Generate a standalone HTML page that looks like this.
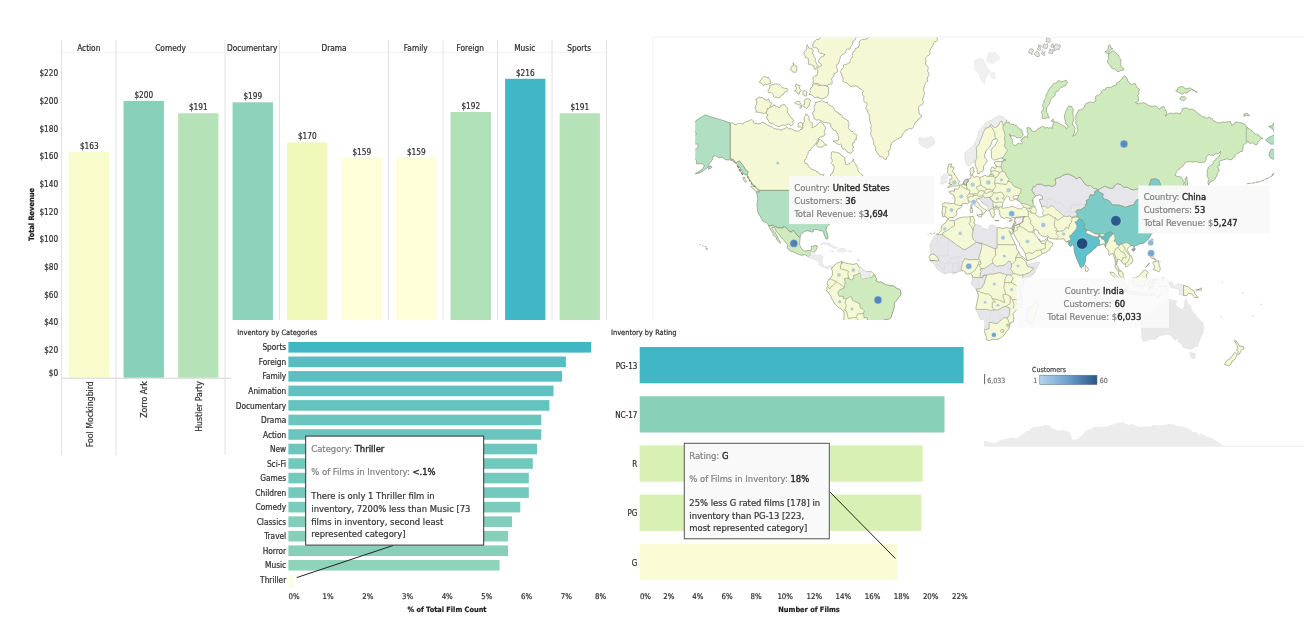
<!DOCTYPE html>
<html><head><meta charset="utf-8"><title>Dashboard</title>
<style>
html,body{margin:0;padding:0;background:#fff;}
body{width:1304px;height:637px;position:relative;overflow:hidden;}
svg text{font-family:"DejaVu Sans Condensed", "DejaVu Sans", "Liberation Sans", Arial, sans-serif;font-stretch:condensed;}
</style></head><body>
<svg width="1304" height="637" viewBox="0 0 1304 637" style="position:absolute;left:0;top:0;will-change:transform">
<defs>
<clipPath id="sa"><path d="M832.4,267.0L834.4,265.8L835.5,264.0L836.6,263.0L838.7,262.7L840.8,261.7L842.1,260.9L842.2,261.9L841.3,263.2L841.9,263.4L844.0,262.2L844.7,262.5L846.8,263.5L850.5,263.9L853.2,264.5L855.6,263.7L857.2,263.7L858.0,265.2L859.1,267.3L861.2,268.1L862.8,269.7L864.9,271.3L867.0,271.5L869.3,271.5L871.7,272.0L873.4,273.6L874.6,274.6L875.7,277.8L876.5,278.3L876.7,279.4L875.7,281.0L878.9,282.3L881.3,282.0L885.3,284.7L889.4,285.5L893.4,285.8L897.1,288.7L899.8,289.4L900.8,292.3L900.6,295.5L898.2,298.0L896.6,300.4L894.3,302.9L894.2,307.1L893.4,310.1L891.8,314.7L891.0,317.3L889.4,319.0L885.3,319.4L882.1,320.8L878.9,324.0L878.6,328.8L876.5,332.5L874.6,335.0L872.5,338.2L870.9,340.2L868.5,341.0L866.0,340.8L863.0,339.2L864.4,342.1L865.2,344.1L864.3,347.6L861.2,348.8L856.7,348.8L856.4,352.3L852.4,353.4L854.0,356.6L852.1,361.3L848.4,364.5L850.8,368.7L846.8,374.6L845.9,379.2L846.8,381.9L847.6,387.3L844.3,387.3L840.3,383.2L837.1,377.9L835.5,369.2L837.1,362.2L838.7,355.5L838.4,350.2L839.2,345.1L841.1,339.2L841.9,335.4L841.9,329.8L843.5,324.3L843.9,319.0L844.2,312.1L841.9,309.6L837.9,307.1L834.7,303.7L832.3,299.6L829.9,294.7L828.3,292.3L826.3,290.7L827.5,289.1L826.3,287.8L827.9,286.5L828.3,285.0L827.0,284.2L827.5,281.8L828.3,279.7L829.9,279.1L830.2,278.3L832.3,275.4L832.6,273.8L832.3,270.5L831.6,269.4Z"/></clipPath>
<clipPath id="mapclip"><rect x="695.2" y="37.5" width="578.9" height="408.5"/></clipPath>
<clipPath id="eura"><path d="M947.9,218.9L946.8,217.3L945.0,216.5L942.6,216.9L942.7,213.4L941.6,213.2L942.4,210.7L942.7,207.5L942.6,205.4L941.9,204.3L944.0,202.7L947.3,202.9L950.5,203.4L953.7,203.4L954.5,203.2L955.0,200.9L955.0,198.0L953.4,194.9L949.7,193.0L949.3,191.6L952.1,190.8L954.3,191.3L954.8,188.6L957.2,189.4L959.3,187.4L959.5,185.4L960.9,185.1L962.4,184.3L963.3,182.8L964.5,180.4L965.7,179.3L968.2,179.1L970.6,178.5L971.1,177.4L970.7,174.7L969.9,170.4L970.6,168.6L973.0,167.1L973.8,168.3L973.3,171.0L974.4,171.0L973.0,173.2L972.5,174.9L973.0,176.1L974.4,177.4L977.0,176.1L979.4,177.7L981.8,176.9L985.0,175.2L986.8,176.3L988.3,176.3L989.9,174.9L991.0,174.1L990.8,171.8L990.7,169.5L991.6,167.4L993.2,166.8L994.7,168.9L996.1,168.0L996.0,165.0L994.7,164.1L994.5,162.2L997.1,161.3L1000.3,161.6L1002.1,161.3L1004.3,160.0L1005.5,159.7L1003.5,159.0L1001.9,158.0L999.5,158.4L996.3,159.7L993.7,160.0L991.3,157.7L991.5,154.4L991.2,150.6L992.3,147.8L994.8,145.9L996.6,142.6L997.7,140.3L996.5,138.7L993.9,139.5L992.6,139.9L991.0,144.1L989.9,146.7L987.5,148.8L986.2,150.6L984.7,154.7L984.6,157.4L986.6,159.3L987.3,161.3L985.5,163.5L983.6,166.2L983.4,169.5L982.6,171.2L980.2,171.8L979.7,173.5L977.6,173.5L977.2,171.5L977.3,169.8L976.0,167.1L974.9,163.1L973.8,161.9L973.5,160.3L973.1,162.8L972.2,162.8L969.8,165.6L968.2,165.9L965.9,163.5L965.4,161.3L964.9,158.7L965.1,156.4L964.8,153.7L965.7,152.0L968.2,150.3L970.2,148.1L972.7,146.3L974.3,144.1L976.2,140.3L977.5,136.3L978.6,132.2L980.2,130.1L981.8,127.9L983.4,125.7L985.8,123.0L989.1,121.1L992.3,119.7L995.5,117.3L998.4,115.8L1001.9,116.3L1005.1,118.7L1006.9,120.2L1006.4,122.0L1007.5,122.3L1008.4,122.1L1009.2,122.0L1009.6,123.2L1010.3,123.9L1010.8,124.4L1011.5,124.3L1012.9,124.4L1014.0,124.5L1014.8,125.3L1016.2,125.3L1016.9,126.3L1017.5,126.7L1018.2,127.8L1018.8,128.4L1020.1,129.1L1021.4,129.7L1022.0,130.9L1022.1,132.1L1022.2,132.8L1023.0,133.5L1023.1,135.1L1022.2,136.3L1021.2,137.5L1020.3,138.0L1019.0,137.6L1018.1,137.9L1017.4,137.8L1016.4,137.5L1015.4,136.4L1014.4,135.9L1012.9,135.9L1011.6,135.9L1010.4,136.3L1010.1,135.4L1009.6,133.9L1010.0,135.3L1010.8,135.9L1010.8,136.7L1010.8,137.5L1011.5,138.4L1011.8,139.0L1012.4,139.4L1012.7,140.7L1012.4,141.7L1012.1,142.6L1012.4,143.5L1012.9,144.1L1013.9,145.0L1014.7,145.6L1015.6,145.9L1016.1,145.1L1017.4,144.5L1017.9,143.9L1018.0,143.0L1019.4,143.6L1020.3,143.5L1021.2,144.1L1021.8,143.7L1022.3,142.6L1021.4,141.3L1020.9,140.3L1021.9,139.8L1022.1,139.1L1022.8,137.9L1024.1,137.6L1024.8,136.3L1025.9,136.9L1026.6,137.2L1027.7,137.5L1027.2,136.4L1027.4,135.6L1027.9,134.9L1028.0,133.5L1027.4,132.7L1027.0,131.5L1027.5,130.0L1027.0,128.8L1027.2,127.5L1028.5,127.4L1029.7,128.1L1030.5,127.9L1030.5,128.8L1031.2,129.7L1031.7,130.9L1032.3,130.9L1033.3,131.5L1034.3,131.6L1034.9,131.4L1035.6,131.1L1036.4,130.7L1037.3,130.1L1037.7,128.8L1038.6,128.4L1039.8,128.1L1040.4,127.3L1041.3,127.0L1042.3,126.7L1042.9,126.2L1043.5,126.9L1044.4,127.1L1045.3,128.4L1046.1,127.6L1046.7,127.6L1047.8,127.5L1048.3,127.9L1049.4,127.9L1050.3,127.7L1051.2,127.7L1052.6,128.4L1052.3,127.0L1052.7,126.1L1052.9,125.0L1053.4,124.0L1053.3,123.2L1054.2,122.7L1054.7,122.0L1055.6,122.0L1056.3,122.2L1057.4,122.0L1057.8,122.6L1058.5,123.2L1059.6,123.3L1060.6,124.4L1061.7,124.6L1062.3,124.9L1063.0,125.6L1063.8,126.2L1065.0,126.8L1066.0,127.4L1066.6,128.8L1067.2,128.3L1067.8,127.5L1067.9,126.2L1067.6,125.5L1066.7,124.7L1065.8,124.0L1065.4,123.4L1065.2,122.4L1065.7,121.9L1066.0,120.9L1065.1,120.3L1065.0,119.4L1064.3,118.3L1064.3,117.0L1064.6,115.8L1064.5,114.8L1065.0,113.8L1065.4,113.0L1065.6,111.8L1066.0,110.8L1066.7,110.0L1067.0,108.6L1067.8,107.3L1068.5,106.7L1068.7,105.9L1069.9,106.1L1070.8,106.4L1071.9,106.4L1072.1,107.7L1072.8,108.7L1074.0,109.7L1073.3,110.3L1073.1,111.6L1072.9,112.4L1072.8,113.3L1073.2,114.5L1072.8,115.2L1073.6,116.3L1074.0,117.5L1073.6,118.9L1073.3,119.7L1073.7,120.7L1073.1,121.5L1072.7,122.0L1072.7,122.8L1072.9,123.7L1072.5,124.9L1073.8,125.8L1074.4,126.6L1074.5,127.5L1075.2,128.4L1074.7,129.8L1074.6,130.8L1074.6,132.2L1074.2,133.4L1074.0,134.1L1073.2,135.1L1072.7,136.3L1073.6,135.5L1075.1,135.1L1075.7,134.6L1075.8,133.6L1076.5,133.3L1077.2,132.2L1077.4,131.3L1077.6,130.7L1077.7,129.5L1077.4,128.7L1077.5,127.9L1077.2,127.4L1077.0,126.3L1076.9,124.7L1076.3,124.3L1075.9,123.4L1075.6,121.9L1076.3,120.6L1075.9,119.9L1075.6,118.7L1076.1,117.8L1076.0,117.2L1075.6,116.1L1076.1,115.3L1076.5,114.8L1076.7,113.8L1076.9,112.8L1078.0,111.9L1078.3,110.9L1078.3,110.2L1079.3,109.9L1080.0,109.9L1081.5,109.7L1082.2,109.3L1083.1,109.1L1083.4,108.4L1083.8,107.3L1084.8,106.6L1084.6,105.6L1085.2,104.5L1085.6,104.0L1086.3,103.1L1087.7,102.9L1088.8,102.5L1089.8,102.1L1090.4,101.9L1091.4,102.4L1092.8,102.5L1093.6,102.4L1094.6,101.6L1096.0,100.8L1095.7,99.7L1095.3,98.4L1095.6,97.4L1095.7,96.6L1096.8,95.4L1097.7,95.1L1098.5,95.2L1099.3,94.4L1100.5,93.9L1101.2,92.8L1101.4,91.6L1101.6,91.0L1102.5,90.5L1103.5,89.6L1104.4,89.9L1105.2,89.8L1105.6,88.5L1106.4,87.8L1107.6,87.4L1108.3,87.2L1109.5,87.4L1110.6,87.4L1111.3,87.1L1112.3,86.4L1113.0,86.1L1114.1,85.6L1115.3,85.2L1116.1,85.1L1116.4,84.2L1116.7,83.1L1117.7,82.7L1118.2,82.0L1119.3,81.6L1119.9,80.5L1120.7,80.0L1121.4,79.4L1122.3,78.7L1122.7,78.0L1123.0,77.3L1123.5,76.6L1124.6,75.7L1125.5,76.3L1126.3,77.0L1126.4,77.7L1127.3,78.7L1127.5,79.8L1127.5,80.4L1128.0,81.6L1129.2,82.2L1129.8,83.7L1130.5,83.8L1131.3,84.4L1132.3,84.3L1132.9,83.9L1134.1,83.3L1135.4,83.7L1135.6,84.4L1136.0,85.2L1136.2,86.0L1136.5,86.7L1137.4,87.4L1138.0,88.4L1139.4,89.1L1139.3,90.1L1139.1,91.0L1138.5,91.6L1139.0,92.6L1139.1,93.3L1138.4,94.7L1137.6,95.5L1138.0,96.5L1138.6,97.3L1138.4,98.5L1138.4,99.3L1138.6,100.2L1138.4,101.0L1137.4,101.7L1136.3,102.2L1135.4,102.5L1136.3,102.8L1136.8,103.6L1138.3,103.7L1139.4,103.7L1140.6,103.2L1141.4,103.1L1142.5,102.9L1143.4,102.5L1144.8,103.2L1145.8,103.5L1147.0,104.4L1148.3,105.3L1149.1,105.8L1150.0,105.9L1150.9,106.3L1151.6,106.3L1152.9,106.2L1153.6,106.3L1154.7,105.9L1155.9,105.9L1156.5,106.2L1157.1,107.0L1157.7,107.5L1158.1,108.5L1159.5,109.1L1160.5,108.4L1161.1,107.1L1162.2,107.0L1163.5,106.4L1164.2,107.1L1164.6,108.5L1164.8,109.3L1165.2,110.1L1166.4,111.1L1166.2,112.0L1166.7,113.0L1166.4,113.5L1165.9,114.4L1165.7,115.6L1165.9,116.3L1166.4,114.8L1167.2,114.3L1168.6,113.9L1169.2,113.3L1170.4,113.1L1171.5,113.4L1172.3,113.4L1173.5,113.6L1174.8,113.3L1175.6,113.0L1176.9,113.0L1177.7,113.2L1178.9,113.8L1180.4,113.8L1180.7,112.8L1181.4,111.9L1181.9,111.3L1182.2,110.5L1182.1,109.5L1182.0,108.6L1183.0,108.4L1184.5,108.0L1185.5,107.9L1186.8,108.1L1188.2,108.6L1189.2,109.8L1190.6,109.3L1191.6,109.1L1192.3,109.3L1193.3,109.7L1194.1,110.0L1194.8,110.8L1196.0,111.5L1196.9,112.7L1198.1,113.3L1199.0,114.6L1200.2,114.7L1200.8,115.2L1201.8,116.3L1202.9,116.8L1204.4,116.9L1205.2,117.2L1206.5,118.0L1208.0,118.0L1208.5,117.4L1209.4,116.8L1210.4,118.0L1211.4,118.5L1212.3,118.7L1212.6,119.8L1213.1,120.4L1214.2,121.1L1215.3,121.6L1216.2,122.0L1217.4,122.5L1218.9,122.9L1219.6,122.6L1220.5,122.8L1221.3,122.4L1222.2,122.5L1223.6,121.7L1224.8,122.2L1226.2,122.0L1227.8,121.9L1228.7,121.6L1229.4,121.4L1230.3,121.1L1230.5,122.4L1231.3,123.6L1231.7,124.4L1231.9,125.7L1232.5,124.9L1233.2,124.4L1234.2,124.1L1235.0,123.1L1235.1,122.0L1236.3,121.9L1237.0,121.9L1237.6,122.4L1238.5,122.6L1239.9,122.5L1241.1,122.8L1242.0,123.1L1243.1,123.9L1244.2,123.9L1244.9,124.2L1245.6,125.3L1246.3,126.2L1247.5,127.2L1247.9,128.5L1249.0,128.6L1249.6,129.2L1250.3,129.7L1251.2,129.8L1252.1,131.0L1252.9,131.5L1253.9,132.5L1254.4,133.5L1255.4,134.2L1256.7,134.2L1257.8,135.0L1258.6,134.9L1259.2,135.9L1260.3,136.6L1260.8,137.4L1261.8,138.3L1262.9,138.3L1262.1,138.4L1260.8,139.1L1260.0,140.3L1259.3,140.8L1258.2,141.8L1257.7,142.6L1257.6,144.1L1256.8,144.8L1255.8,144.9L1254.6,144.4L1254.1,143.6L1253.6,143.0L1252.3,142.7L1251.1,143.4L1250.4,143.7L1249.6,143.1L1249.0,142.5L1248.6,141.7L1247.9,141.1L1247.5,142.0L1246.9,142.6L1245.8,142.8L1245.4,143.3L1244.7,144.1L1244.1,144.7L1243.1,145.2L1242.9,146.3L1243.1,146.9L1242.7,148.0L1242.9,149.4L1242.8,150.3L1242.3,151.3L1241.0,151.4L1239.8,152.1L1239.0,152.7L1238.3,153.0L1237.1,153.6L1236.2,154.5L1235.3,155.3L1235.1,156.4L1233.8,157.1L1233.1,157.5L1232.8,158.6L1232.2,159.2L1231.1,159.7L1229.6,159.8L1228.3,159.4L1227.5,159.0L1226.2,159.0L1225.4,159.4L1224.0,159.5L1223.0,160.2L1222.2,160.3L1220.9,160.6L1219.8,161.3L1219.3,162.7L1219.5,163.6L1219.5,164.6L1219.3,165.9L1218.4,166.1L1217.4,166.5L1218.2,167.8L1218.7,168.8L1219.0,169.5L1219.0,171.0L1218.5,172.2L1217.4,173.2L1216.9,174.1L1216.7,174.7L1217.1,176.1L1216.6,176.5L1215.8,177.1L1215.3,178.5L1214.9,179.3L1214.2,180.1L1213.2,180.9L1211.8,180.9L1211.0,182.0L1210.2,182.2L1209.4,182.9L1208.9,183.8L1208.9,185.4L1208.5,184.3L1208.2,183.4L1207.7,182.8L1208.2,181.6L1208.4,180.8L1208.9,179.6L1208.3,178.5L1207.9,177.7L1207.2,176.7L1207.1,175.9L1206.9,174.7L1207.5,173.4L1207.1,171.8L1207.4,170.8L1207.4,169.5L1208.2,168.3L1208.4,167.4L1209.4,166.5L1210.0,165.9L1210.5,165.1L1211.6,165.0L1212.6,164.4L1213.1,163.5L1212.9,162.7L1213.4,161.5L1214.4,160.3L1215.8,159.7L1216.2,158.4L1217.0,158.0L1217.6,157.4L1218.8,156.8L1219.2,156.0L1219.8,154.7L1220.2,154.2L1220.4,153.2L1220.3,152.1L1220.6,151.3L1220.1,152.2L1219.6,152.7L1218.6,153.1L1218.2,153.7L1217.3,153.4L1216.3,153.9L1215.0,153.7L1214.5,154.3L1214.2,155.2L1213.4,155.7L1212.0,155.0L1211.5,155.3L1210.5,155.4L1209.6,154.5L1208.6,154.4L1207.8,155.8L1206.9,156.1L1206.2,156.9L1206.1,157.9L1206.1,159.4L1205.7,160.4L1205.4,161.4L1204.5,162.2L1203.2,161.9L1202.0,162.4L1200.5,162.5L1199.1,162.6L1198.1,162.5L1197.2,161.6L1196.5,161.6L1195.3,161.9L1194.6,162.1L1193.7,161.8L1192.8,161.9L1192.0,162.2L1190.9,161.6L1189.4,161.8L1188.6,161.7L1187.9,161.7L1186.8,161.9L1185.4,162.4L1184.7,163.4L1184.4,164.1L1183.9,165.0L1183.2,165.8L1182.0,166.5L1181.1,167.3L1180.4,168.3L1179.5,168.9L1178.7,169.1L1178.0,170.1L1177.0,171.1L1176.3,171.8L1176.2,172.6L1175.7,174.1L1174.8,175.2L1175.7,175.4L1176.4,175.7L1177.2,176.9L1178.1,176.4L1179.0,176.4L1180.4,176.9L1181.5,177.6L1182.4,178.8L1182.8,179.6L1183.2,181.1L1184.3,182.2L1184.0,183.2L1183.7,183.8L1183.9,185.2L1183.3,185.8L1183.0,186.6L1182.7,187.6L1182.9,188.4L1182.6,189.4L1182.7,190.8L1182.3,191.7L1182.2,192.6L1180.9,193.1L1180.4,194.2L1179.7,195.5L1179.5,196.6L1178.8,197.5L1178.8,198.8L1178.2,199.4L1177.8,200.0L1177.0,200.1L1176.4,200.9L1175.5,201.8L1175.4,202.5L1174.6,202.7L1174.0,203.4L1172.8,204.1L1171.7,204.0L1170.8,204.7L1169.9,204.4L1168.8,203.8L1167.9,204.2L1167.1,205.4L1165.5,207.5L1165.1,209.0L1163.5,210.7L1161.9,211.8L1163.2,213.8L1164.7,216.3L1165.0,218.9L1164.5,220.5L1161.9,221.6L1160.2,221.8L1160.3,219.9L1160.5,217.3L1159.8,215.5L1158.2,215.3L1158.4,213.6L1157.6,211.8L1156.8,210.9L1154.7,211.5L1152.3,212.8L1152.8,210.3L1153.6,209.4L1151.5,209.0L1149.9,210.3L1148.3,212.4L1146.6,212.4L1146.0,213.6L1147.4,214.9L1148.3,216.3L1150.7,215.3L1153.9,216.1L1153.4,217.3L1151.0,218.7L1148.7,220.9L1150.3,222.2L1151.3,225.5L1152.9,227.2L1152.9,228.7L1151.8,229.8L1153.2,230.6L1152.3,233.0L1150.8,235.0L1149.4,237.7L1148.7,238.7L1147.4,240.2L1145.5,241.8L1143.9,243.2L1141.8,243.5L1139.7,243.9L1138.6,244.7L1136.2,245.6L1134.4,246.1L1134.1,247.7L1133.3,245.6L1131.4,245.4L1129.8,246.4L1128.3,247.7L1127.0,249.9L1128.2,251.6L1129.3,254.1L1131.0,255.8L1132.2,258.3L1132.7,260.7L1132.0,262.7L1129.8,264.0L1128.3,265.5L1126.1,267.1L1125.4,265.5L1125.7,264.2L1124.8,264.2L1123.3,263.9L1121.7,261.6L1120.1,260.4L1119.1,259.1L1117.7,259.3L1117.5,261.2L1116.4,264.3L1117.4,266.1L1118.2,267.6L1118.7,269.4L1120.1,270.0L1121.2,271.0L1122.8,272.5L1123.2,274.6L1123.3,276.5L1124.5,278.7L1123.3,278.9L1121.7,277.8L1119.8,276.3L1118.7,274.2L1118.2,272.1L1118.0,270.5L1117.1,269.4L1115.4,267.9L1115.0,266.5L1115.4,264.0L1115.3,261.6L1114.8,259.1L1113.8,255.8L1113.0,253.4L1111.3,253.9L1110.0,255.3L1108.5,254.9L1108.9,252.4L1108.1,249.9L1106.4,248.5L1105.3,247.0L1104.8,245.6L1104.5,244.0L1102.6,244.2L1100.8,244.9L1099.2,245.2L1096.8,245.9L1096.0,247.7L1093.6,249.2L1092.0,251.1L1089.2,253.3L1087.6,254.4L1085.9,256.1L1085.7,259.1L1085.2,262.4L1084.4,264.3L1083.8,266.1L1082.6,266.6L1081.5,267.9L1079.9,266.5L1078.8,263.2L1077.2,260.2L1076.1,256.9L1074.9,254.1L1074.0,249.9L1074.0,247.3L1073.6,245.8L1073.0,244.4L1070.7,246.8L1067.9,244.0L1069.9,243.2L1067.5,241.9L1065.4,241.4L1064.0,238.7L1060.6,239.1L1056.0,239.1L1051.8,238.7L1049.0,238.0L1047.9,235.7L1045.0,236.8L1042.1,235.9L1039.6,234.3L1037.6,230.4L1035.5,229.6L1034.1,230.4L1033.9,232.2L1035.0,234.1L1036.5,235.9L1037.6,237.1L1038.6,239.8L1039.9,238.9L1039.4,240.7L1042.1,241.1L1044.5,240.7L1046.3,238.6L1047.4,237.3L1047.6,240.3L1049.4,241.9L1051.5,242.1L1053.1,244.0L1051.8,246.4L1050.6,247.5L1049.7,249.9L1048.2,250.6L1045.8,252.4L1042.1,253.8L1040.5,255.3L1037.3,256.6L1034.9,258.3L1031.7,259.3L1029.3,260.2L1026.8,260.4L1026.4,258.6L1025.6,255.8L1025.2,253.6L1023.6,250.7L1022.0,248.2L1019.9,245.6L1019.3,243.0L1017.2,240.3L1015.6,237.7L1014.0,234.4L1012.9,231.7L1013.0,231.3L1011.9,228.0L1012.5,226.6L1013.2,224.7L1014.0,222.8L1014.6,220.5L1015.1,217.7L1014.0,217.7L1012.5,217.3L1010.0,218.7L1008.4,217.9L1006.1,217.5L1004.3,218.5L1001.9,217.3L1000.8,216.5L999.5,213.8L1000.0,212.2L999.0,211.1L999.5,210.1L998.7,209.4L997.1,208.8L995.2,209.2L993.6,209.7L994.7,211.8L993.6,213.2L995.5,214.4L993.9,215.9L993.6,217.9L992.3,217.3L991.6,216.3L990.8,214.2L990.2,212.6L989.1,211.3L988.1,209.9L988.3,206.9L986.6,205.4L985.0,204.3L982.6,203.2L981.3,201.4L980.2,199.3L978.9,199.6L978.8,198.0L976.7,199.1L976.8,201.6L978.8,203.2L980.2,206.0L982.6,207.7L985.0,209.4L986.6,210.5L984.2,212.8L983.6,214.0L982.1,214.9L982.1,212.2L981.0,210.3L979.1,208.4L976.2,206.7L974.6,205.1L973.3,202.3L971.1,201.2L969.0,202.5L967.4,204.0L964.1,203.2L961.9,204.0L962.0,206.5L960.1,208.2L958.2,208.6L956.9,210.7L956.4,212.2L957.2,213.4L955.8,215.7L953.5,217.5L949.8,217.5Z"/></clipPath>
<clipPath id="afr"><path d="M947.4,219.3L946.8,220.9L945.8,222.8L943.2,224.2L941.9,225.7L941.1,228.5L941.3,230.6L940.0,231.9L938.4,233.5L936.2,234.3L935.0,235.9L933.6,237.3L932.8,239.5L931.2,241.6L930.4,243.9L929.6,246.4L930.7,248.2L930.4,249.9L931.0,251.6L930.4,254.1L929.6,256.1L928.8,257.1L929.9,258.6L930.0,260.9L932.0,262.2L933.6,263.9L935.2,265.2L935.7,267.0L936.8,268.7L938.4,269.9L940.0,271.0L942.4,272.9L944.8,273.9L947.3,272.9L950.5,272.6L953.7,273.3L955.3,272.8L958.5,271.5L960.9,270.8L963.3,270.7L964.9,271.7L965.9,273.8L967.4,274.1L969.0,273.8L970.6,273.6L972.2,274.9L972.7,277.0L972.2,279.4L971.9,281.8L971.1,282.6L972.2,285.0L974.6,287.1L975.9,288.7L976.7,290.8L977.8,293.1L978.4,295.5L977.8,298.8L977.0,302.9L976.2,306.2L975.9,309.3L977.0,312.1L978.6,315.2L980.2,318.7L980.7,322.5L981.5,326.1L983.4,329.0L984.7,332.5L986.2,336.3L986.5,339.6L988.3,340.4L989.1,340.8L992.3,339.4L995.5,339.4L998.2,339.2L1000.3,338.2L1002.7,336.3L1005.1,333.9L1006.7,331.4L1009.0,328.8L1009.8,325.2L1010.0,323.3L1013.2,321.7L1014.0,319.0L1013.7,316.4L1012.9,313.8L1014.8,311.8L1017.2,309.6L1019.6,307.9L1022.0,305.4L1022.2,301.3L1022.0,298.0L1020.4,293.9L1020.1,291.5L1019.3,289.9L1020.4,288.2L1021.5,285.8L1022.8,284.2L1024.4,282.6L1026.8,280.2L1029.3,277.8L1031.7,275.4L1034.1,272.9L1035.7,269.7L1038.1,265.7L1039.4,263.2L1039.2,261.9L1037.3,262.4L1034.9,262.9L1031.7,263.5L1028.5,264.2L1026.8,262.5L1025.7,261.6L1026.5,260.7L1024.4,258.3L1022.8,256.6L1020.4,255.8L1018.8,251.6L1016.9,249.9L1016.4,246.4L1015.1,243.9L1014.0,241.2L1012.4,238.0L1010.9,235.2L1009.3,231.3L1009.2,230.6L1010.8,233.5L1012.1,234.4L1013.0,231.3L1011.9,228.0L1009.2,228.3L1006.7,227.4L1005.1,228.0L1003.5,228.7L1001.1,228.0L997.4,227.4L995.5,226.6L993.9,225.3L991.5,224.9L989.1,226.3L989.1,228.5L987.5,229.8L985.0,228.7L981.8,227.4L981.3,226.1L977.8,224.9L975.4,224.3L973.8,223.2L974.7,220.5L973.9,218.1L973.3,216.5L971.4,216.5L969.0,216.9L966.5,217.1L963.3,217.1L960.1,217.7L956.9,219.1L954.5,220.5L952.9,220.5L949.7,220.5L948.4,219.1Z"/></clipPath>
<mask id="m_eu_ng" maskUnits="userSpaceOnUse" x="0" y="0" width="1304" height="637"><rect x="0" y="0" width="1304" height="637" fill="white"/><g fill="black"><path d="M974.9,163.1L975.9,160.0L977.0,158.0L976.5,154.7L976.7,152.0L976.2,147.8L979.1,144.1L980.2,140.3L981.8,137.1L983.4,132.2L985.8,127.9L989.1,127.5L990.0,125.3L991.5,124.4L993.1,127.0L995.5,127.5L998.4,125.7L1000.3,121.6L1001.8,120.9L1003.4,125.5L1006.4,122.0L1007.6,116.3L997.1,111.2L981.0,118.7L973.0,138.3L961.7,156.4L963.3,165.9L969.8,167.4L973.8,164.4Z"/><path d="M978.8,198.7L981.8,197.5L983.4,196.3L985.0,197.7L987.5,197.5L989.5,197.3L991.5,199.8L993.1,201.6L992.9,204.3L992.9,205.8L993.9,207.7L993.1,208.4L990.7,209.0L989.1,211.3L987.8,210.1L987.8,206.9L986.3,205.1L983.4,203.6L980.7,200.7L978.8,199.8Z"/></g></mask>
<mask id="m_eu_g" maskUnits="userSpaceOnUse" x="0" y="0" width="1304" height="637"><g fill="white"><path d="M974.9,163.1L975.9,160.0L977.0,158.0L976.5,154.7L976.7,152.0L976.2,147.8L979.1,144.1L980.2,140.3L981.8,137.1L983.4,132.2L985.8,127.9L989.1,127.5L990.0,125.3L991.5,124.4L993.1,127.0L995.5,127.5L998.4,125.7L1000.3,121.6L1001.8,120.9L1003.4,125.5L1006.4,122.0L1007.6,116.3L997.1,111.2L981.0,118.7L973.0,138.3L961.7,156.4L963.3,165.9L969.8,167.4L973.8,164.4Z"/><path d="M978.8,198.7L981.8,197.5L983.4,196.3L985.0,197.7L987.5,197.5L989.5,197.3L991.5,199.8L993.1,201.6L992.9,204.3L992.9,205.8L993.9,207.7L993.1,208.4L990.7,209.0L989.1,211.3L987.8,210.1L987.8,206.9L986.3,205.1L983.4,203.6L980.7,200.7L978.8,199.8Z"/></g></mask>
<mask id="m_af_ng" maskUnits="userSpaceOnUse" x="0" y="0" width="1304" height="637"><rect x="0" y="0" width="1304" height="637" fill="white"/><g fill="black"><path d="M935.7,234.6L942.9,234.6L942.9,235.3L949.2,239.5L958.8,246.4L963.7,249.5L966.5,249.0L971.4,245.6L976.2,242.1L979.4,243.0L981.8,243.0L981.8,247.3L979.4,255.8L978.8,258.8L977.0,259.7L973.0,259.6L969.0,259.7L964.9,258.6L962.7,262.1L961.4,266.5L961.2,270.7L961.2,271.3L944.0,275.4L934.4,268.1L929.2,261.2L930.0,260.9L934.9,260.4L937.1,260.9L938.6,260.9L938.4,259.1L937.3,257.1L936.0,255.8L933.6,253.9L930.4,254.8L928.8,254.8L928.3,246.4L930.4,241.2L934.4,234.6Z"/><path d="M975.4,224.3L973.5,227.6L973.0,230.4L972.2,235.0L973.0,238.9L976.2,242.1L979.4,243.0L981.0,243.0L995.5,249.0L995.5,248.2L997.1,248.2L997.1,244.7L997.1,231.3L997.4,227.4L997.4,224.7L975.4,222.8Z"/><path d="M972.7,277.3L975.1,277.5L978.3,277.5L980.2,277.5L982.6,277.5L983.4,275.4L986.6,275.2L985.4,279.4L984.2,283.4L983.1,285.0L982.3,287.4L980.2,288.7L977.0,289.1L976.2,289.1L973.0,287.4L970.6,282.6L971.4,278.6Z"/><path d="M1026.0,263.2L1027.7,266.5L1033.8,268.1L1029.3,272.9L1027.7,273.1L1024.4,274.6L1022.8,274.7L1022.8,279.4L1023.6,283.7L1024.4,285.8L1040.5,264.8L1040.5,260.7L1026.5,262.4Z"/><path d="M975.9,309.3L978.6,309.4L986.6,309.4L990.7,310.4L994.5,309.8L997.4,310.1L1000.3,308.7L1002.7,307.1L1005.8,306.4L1009.8,308.2L1009.6,312.1L1009.2,315.6L1007.2,318.0L1004.2,317.6L1001.1,320.1L998.7,322.0L997.1,323.8L993.9,323.1L989.1,322.2L989.1,328.7L985.8,329.6L983.4,329.0L981.0,329.8L976.2,317.3L974.6,309.3Z"/></g></mask>
<mask id="m_af_g" maskUnits="userSpaceOnUse" x="0" y="0" width="1304" height="637"><g fill="white"><path d="M935.7,234.6L942.9,234.6L942.9,235.3L949.2,239.5L958.8,246.4L963.7,249.5L966.5,249.0L971.4,245.6L976.2,242.1L979.4,243.0L981.8,243.0L981.8,247.3L979.4,255.8L978.8,258.8L977.0,259.7L973.0,259.6L969.0,259.7L964.9,258.6L962.7,262.1L961.4,266.5L961.2,270.7L961.2,271.3L944.0,275.4L934.4,268.1L929.2,261.2L930.0,260.9L934.9,260.4L937.1,260.9L938.6,260.9L938.4,259.1L937.3,257.1L936.0,255.8L933.6,253.9L930.4,254.8L928.8,254.8L928.3,246.4L930.4,241.2L934.4,234.6Z"/><path d="M975.4,224.3L973.5,227.6L973.0,230.4L972.2,235.0L973.0,238.9L976.2,242.1L979.4,243.0L981.0,243.0L995.5,249.0L995.5,248.2L997.1,248.2L997.1,244.7L997.1,231.3L997.4,227.4L997.4,224.7L975.4,222.8Z"/><path d="M972.7,277.3L975.1,277.5L978.3,277.5L980.2,277.5L982.6,277.5L983.4,275.4L986.6,275.2L985.4,279.4L984.2,283.4L983.1,285.0L982.3,287.4L980.2,288.7L977.0,289.1L976.2,289.1L973.0,287.4L970.6,282.6L971.4,278.6Z"/><path d="M1026.0,263.2L1027.7,266.5L1033.8,268.1L1029.3,272.9L1027.7,273.1L1024.4,274.6L1022.8,274.7L1022.8,279.4L1023.6,283.7L1024.4,285.8L1040.5,264.8L1040.5,260.7L1026.5,262.4Z"/><path d="M975.9,309.3L978.6,309.4L986.6,309.4L990.7,310.4L994.5,309.8L997.4,310.1L1000.3,308.7L1002.7,307.1L1005.8,306.4L1009.8,308.2L1009.6,312.1L1009.2,315.6L1007.2,318.0L1004.2,317.6L1001.1,320.1L998.7,322.0L997.1,323.8L993.9,323.1L989.1,322.2L989.1,328.7L985.8,329.6L983.4,329.0L981.0,329.8L976.2,317.3L974.6,309.3Z"/></g></mask>
</defs>
<line x1="653" y1="37" x2="1304" y2="37" stroke="#f0f0f0" stroke-width="1"/>
<line x1="653" y1="37" x2="653" y2="446" stroke="#f3f3f3" stroke-width="1"/>
<line x1="984" y1="446.3" x2="1304" y2="446.3" stroke="#f0f0f0" stroke-width="1"/>
<g clip-path="url(#mapclip)">
<path d="M667.5,552.7L667.8,551.8L668.4,551.1L669.4,550.5L669.8,549.8L670.2,549.1L671.1,548.1L671.1,547.1L671.4,546.4L671.9,545.9L672.1,544.7L673.3,543.8L674.1,543.2L675.4,542.9L676.5,541.8L677.2,540.6L677.8,539.8L677.8,539.0L677.3,537.7L677.2,536.8L676.6,536.4L676.3,535.3L676.4,534.4L676.2,533.3L675.9,531.8L675.8,530.8L675.9,529.5L675.7,528.5L676.1,527.8L676.0,526.4L675.5,525.3L674.7,524.1L673.6,523.8L673.4,523.0L672.5,522.2L673.1,521.3L673.1,520.6L672.9,519.6L673.0,518.2L674.2,517.3L674.2,516.4L674.7,514.9L675.0,513.5L674.5,512.3L674.3,511.2L674.6,509.9L674.6,509.0L675.4,507.7L674.7,506.5L674.9,505.2L675.0,504.5L674.0,503.8L673.2,502.6L673.4,501.1L673.0,500.2L672.4,499.4L672.3,498.7L672.7,497.4L672.7,496.3L672.3,495.6L671.8,494.5L671.3,493.3L671.2,492.1L670.8,491.6L669.9,490.5L668.6,489.7L668.0,489.2L667.5,488.6L668.7,488.3L670.0,488.4L671.4,488.0L672.1,487.3L672.3,486.5L673.5,485.9L674.6,484.7L675.8,485.3L676.5,485.4L677.4,485.6L678.8,485.6L679.8,485.4L680.7,485.6L681.5,485.7L682.3,485.4L683.5,484.8L684.2,485.3L685.2,485.8L686.1,486.1L686.8,486.0L687.8,486.3L688.4,486.4L689.8,486.3L690.4,485.8L691.6,486.0L692.3,486.2L693.2,485.8L693.9,485.9L695.1,485.4L696.5,485.2L697.7,485.1L698.8,485.1L699.6,484.8L700.3,484.5L701.2,483.9L701.8,483.0L702.6,482.7L703.6,482.0L704.5,481.7L705.6,481.8L707.0,481.4L708.0,481.7L708.9,482.2L709.5,482.0L710.8,481.8L711.6,480.9L712.7,480.0L714.1,479.4L714.5,478.3L715.7,477.6L716.6,477.0L717.1,476.5L718.1,475.9L718.2,474.6L718.9,473.3L719.8,472.9L720.6,472.6L721.1,471.7L721.9,470.3L722.9,470.0L723.9,469.9L724.6,469.2L725.4,469.3L726.3,469.4L727.7,468.6L728.5,468.3L729.7,468.2L730.7,468.5L731.8,467.8L733.1,467.2L733.8,467.0L734.8,466.5L735.6,466.1L736.5,465.8L737.7,465.9L738.6,466.3L739.9,466.0L741.1,465.2L742.1,465.0L742.9,464.5L743.5,464.0L744.4,463.7L745.5,463.5L746.3,463.7L747.9,463.6L748.8,462.9L749.8,462.5L750.2,462.1L751.2,461.8L752.2,461.1L753.7,461.1L754.7,461.1L755.6,460.8L756.2,460.3L756.8,459.7L757.8,459.9L758.8,460.3L760.0,459.6L760.9,459.6L762.3,459.7L763.0,459.6L763.9,458.9L765.2,459.2L766.5,459.3L767.2,459.8L767.8,460.4L769.0,460.1L769.8,460.4L771.2,460.7L772.3,460.5L773.0,460.1L773.9,460.6L774.3,461.3L775.4,461.3L776.3,461.3L776.9,461.7L778.2,461.1L778.9,461.7L780.0,461.8L780.5,461.2L781.3,460.5L781.9,460.1L782.9,460.2L784.2,460.2L784.9,460.5L785.7,460.2L786.6,460.2L787.8,459.8L788.6,459.4L789.7,458.6L790.7,458.6L791.6,458.0L792.7,457.7L794.0,457.2L795.0,456.9L796.1,456.1L797.1,455.4L797.7,454.7L799.2,454.3L799.9,453.9L801.1,454.0L801.9,453.4L802.4,453.0L803.9,452.6L805.1,453.4L806.0,453.2L806.9,453.7L807.5,453.9L808.8,453.4L809.4,453.0L810.3,452.9L811.1,452.9L812.2,453.4L813.2,453.1L813.9,452.8L815.1,452.9L815.9,453.1L816.9,453.3L817.8,453.4L819.1,453.6L819.9,453.0L821.3,453.1L822.6,453.3L823.3,454.1L824.4,454.7L825.4,455.3L826.1,455.9L827.2,455.7L828.3,456.1L828.4,454.5L828.9,453.7L829.2,452.4L829.5,451.8L830.2,451.0L831.4,450.6L832.3,449.9L832.7,448.7L834.0,448.4L834.9,447.3L835.5,446.8L836.3,445.7L837.2,444.6L837.9,444.2L839.1,444.3L840.2,444.7L841.5,444.3L842.6,443.1L843.5,442.8L844.1,442.3L845.3,441.4L846.6,441.5L847.6,440.9L847.5,439.9L848.1,439.0L848.2,438.1L848.5,437.3L848.0,436.8L847.7,435.8L848.3,434.7L849.0,434.4L849.8,433.6L849.4,432.2L849.6,431.6L850.0,430.7L850.5,430.2L850.5,429.0L851.3,428.5L852.4,427.7L852.8,426.8L853.5,425.4L853.8,425.0L854.4,424.1L855.4,423.6L856.3,422.3L857.1,421.8L857.5,421.0L857.9,420.2L858.5,419.3L858.7,418.4L859.3,417.2L860.4,416.1L861.6,415.6L862.5,415.6L863.2,414.4L864.0,413.7L865.2,413.5L865.2,414.5L864.4,415.6L864.3,417.0L863.6,417.9L863.6,418.9L863.2,419.9L862.3,420.8L861.6,421.6L860.6,422.0L859.8,422.8L858.7,423.9L857.6,424.6L857.2,425.7L856.9,426.9L855.8,428.0L856.1,429.4L855.7,430.3L855.5,431.6L855.9,432.8L856.3,433.6L856.5,434.7L856.2,435.4L855.6,436.3L856.3,437.3L856.2,438.7L855.9,440.1L856.3,441.3L856.6,442.6L856.3,443.9L855.7,444.9L855.2,445.6L856.1,446.9L856.7,448.4L856.9,449.3L857.9,449.9L858.8,450.8L858.4,451.4L858.5,452.5L858.1,453.7L857.4,454.4L856.6,454.8L856.2,455.6L856.9,456.6L857.2,458.0L857.3,459.5L857.1,460.9L857.9,462.0L858.6,462.3L859.1,463.7L859.6,464.6L860.1,465.4L860.4,466.0L860.6,466.6L860.4,467.8L860.8,468.9L861.5,469.6L862.3,469.7L862.9,470.4L863.5,471.6L864.2,472.6L864.7,474.1L865.2,475.0L865.0,476.4L865.2,477.4L865.7,478.0L866.6,478.6L867.4,478.9L868.0,479.5L868.8,480.1L869.8,480.4L870.6,480.6L872.0,481.1L873.0,482.0L874.1,482.5L875.0,483.1L875.4,483.9L875.8,484.9L876.1,486.2L876.5,487.0L877.7,487.8L878.8,488.4L879.3,489.0L880.2,489.0L880.8,489.7L881.7,490.1L883.0,490.1L884.0,489.6L884.8,489.6L885.5,490.1L886.5,490.3L887.6,489.7L888.4,489.7L889.9,489.4L891.0,488.8L892.6,488.6L893.8,487.8L894.9,487.7L896.1,487.0L897.4,486.5L898.0,485.7L898.6,484.4L899.3,483.0L900.0,481.7L900.6,481.1L901.0,480.3L901.2,479.6L902.0,478.7L902.9,478.4L903.5,478.0L904.9,477.7L905.9,477.1L906.8,476.9L907.6,476.1L908.1,474.8L909.3,474.4L910.1,473.7L910.7,473.3L910.9,472.3L911.1,471.6L911.9,471.0L912.8,470.9L913.4,470.6L914.4,469.9L914.9,469.5L916.0,469.5L916.8,468.4L916.9,467.7L917.5,466.7L918.2,466.0L918.9,465.4L919.6,465.0L920.1,464.2L920.7,463.0L922.0,462.6L922.8,461.4L923.5,460.4L923.7,459.5L924.7,458.9L925.6,457.7L925.7,456.5L926.2,455.3L927.1,454.2L927.9,453.8L929.0,453.5L930.2,452.9L930.7,452.4L931.8,451.6L932.8,450.8L934.0,450.0L934.9,449.8L936.4,449.5L937.0,449.3L938.0,449.2L938.5,448.1L939.3,447.8L940.1,447.1L940.8,446.7L942.1,445.9L943.5,445.3L944.8,445.2L945.4,444.7L946.1,444.1L947.2,444.1L948.2,444.6L948.9,444.7L949.8,444.4L950.8,443.9L952.0,442.9L952.5,442.2L953.4,442.2L954.2,442.1L954.9,441.5L956.0,442.3L956.9,442.3L957.6,443.0L959.0,443.4L959.9,443.7L960.8,443.3L961.8,442.3L963.3,441.6L964.1,441.4L964.9,441.4L965.6,441.1L966.7,440.8L967.4,440.4L968.4,440.7L969.3,440.0L970.5,440.3L971.4,441.1L972.1,441.3L973.0,440.9L973.9,440.8L975.0,440.2L976.5,440.2L977.1,439.9L978.1,439.5L978.9,439.7L979.9,440.6L981.0,440.9L982.1,441.2L983.1,440.9L984.1,441.0L985.4,441.0L987.0,441.4L988.2,441.4L989.1,441.8L990.4,442.5L991.6,442.6L993.0,442.7L993.8,442.8L995.2,442.9L995.9,442.6L997.1,442.3L998.0,441.8L998.4,441.0L999.2,440.3L1000.2,439.4L1001.0,439.6L1001.9,440.3L1003.0,440.0L1004.2,439.1L1005.1,439.0L1006.4,438.8L1007.6,438.8L1008.4,438.5L1009.0,437.9L1010.0,437.6L1011.2,437.7L1012.5,437.7L1013.2,437.5L1014.1,438.0L1015.2,437.9L1016.4,438.6L1017.2,438.0L1017.9,437.8L1018.7,436.9L1019.2,436.1L1020.2,435.9L1021.2,435.4L1022.1,434.2L1023.0,433.8L1024.3,432.9L1025.2,432.0L1025.9,431.4L1027.0,430.7L1028.4,430.9L1029.3,431.1L1029.7,430.2L1030.3,429.6L1031.0,428.4L1031.6,428.1L1032.4,427.3L1033.5,427.2L1034.9,426.5L1036.0,426.8L1037.3,426.9L1038.5,426.6L1039.3,426.8L1039.9,426.2L1041.0,426.1L1042.5,426.0L1043.5,425.5L1044.1,425.1L1045.3,424.5L1046.1,424.7L1046.8,425.5L1047.8,425.1L1049.0,425.4L1050.3,426.2L1050.9,427.3L1051.9,427.9L1052.7,428.5L1053.4,428.9L1054.2,429.2L1055.1,429.3L1055.9,429.8L1056.5,430.3L1057.4,430.8L1058.5,430.5L1059.8,430.9L1060.5,430.5L1061.4,430.2L1062.5,430.0L1063.2,430.1L1064.2,430.7L1065.1,430.7L1066.5,430.6L1067.0,431.2L1068.3,431.5L1069.5,431.9L1070.0,432.8L1070.4,434.0L1070.8,434.7L1070.6,435.8L1071.2,436.2L1071.7,437.0L1071.9,438.1L1072.2,439.3L1072.7,440.0L1073.8,439.6L1074.5,439.2L1075.7,439.4L1076.6,439.1L1077.5,439.0L1078.9,438.5L1079.4,437.7L1079.8,436.6L1080.5,436.1L1081.3,435.5L1082.3,435.4L1083.0,434.8L1083.1,433.9L1083.6,433.2L1084.5,432.6L1085.2,432.0L1085.5,431.1L1087.0,430.4L1087.9,429.8L1088.5,429.5L1089.5,429.5L1091.0,429.1L1091.5,428.4L1092.0,427.8L1092.8,427.5L1093.6,426.9L1094.4,426.7L1095.6,426.9L1097.0,426.6L1097.9,427.2L1098.6,426.9L1099.6,426.9L1100.4,426.7L1101.6,426.5L1102.3,426.7L1103.4,426.9L1104.6,426.6L1106.1,426.6L1107.6,426.3L1108.5,425.9L1109.7,424.9L1110.9,425.0L1111.7,424.6L1112.4,424.4L1113.3,424.4L1114.5,423.7L1115.9,423.1L1117.1,423.0L1117.7,423.3L1118.6,422.7L1119.2,422.5L1120.5,422.9L1121.8,422.3L1122.5,421.7L1123.4,422.4L1124.1,422.9L1124.7,423.7L1125.2,424.2L1126.4,423.8L1127.5,424.4L1128.3,425.0L1129.0,425.3L1130.4,424.6L1131.7,424.0L1132.6,424.0L1133.8,424.5L1134.8,425.3L1135.5,426.1L1136.3,425.9L1137.3,426.3L1138.6,427.0L1139.6,427.0L1140.4,427.0L1141.8,426.9L1143.0,426.9L1144.0,426.5L1144.8,426.6L1145.7,426.5L1147.3,426.4L1147.9,426.2L1149.0,426.6L1149.9,427.3L1151.1,426.6L1151.9,426.1L1152.9,425.1L1154.2,425.0L1155.3,425.5L1156.4,425.5L1157.9,425.3L1158.8,425.7L1159.9,425.4L1160.5,425.6L1161.2,425.4L1162.3,425.5L1163.6,424.9L1164.4,424.5L1165.9,424.5L1167.2,424.5L1167.9,424.2L1168.8,424.1L1169.7,424.1L1170.7,424.2L1172.1,424.8L1172.9,424.1L1174.0,424.1L1174.8,425.1L1175.8,425.6L1176.9,426.1L1177.7,426.0L1179.1,426.2L1180.2,426.2L1181.3,426.5L1182.0,426.5L1183.1,426.3L1184.5,426.5L1185.7,427.4L1186.8,427.7L1188.1,428.6L1189.3,429.2L1190.1,429.8L1190.9,429.8L1191.6,430.4L1192.2,430.9L1192.9,431.9L1194.2,432.3L1195.4,432.0L1196.7,432.5L1197.2,433.3L1198.1,434.5L1199.4,434.4L1200.7,434.0L1201.6,433.8L1202.6,434.1L1203.2,434.8L1204.3,435.2L1205.2,435.7L1206.1,436.3L1206.9,436.8L1208.2,437.5L1209.5,437.8L1210.4,437.5L1211.3,437.7L1211.9,438.4L1213.0,438.9L1214.2,440.0L1215.2,439.9L1216.1,440.4L1216.5,441.2L1217.2,441.6L1218.5,442.2L1219.0,443.3L1220.3,443.5L1221.5,444.4L1222.5,444.9L1223.8,445.7L1224.3,446.7L1224.9,447.3L1225.4,448.2L1226.1,448.4L1226.9,449.1L1227.6,449.8L1228.8,450.4L1229.4,451.1L1229.8,451.7L1229.8,452.4L1230.3,453.4L1230.1,454.6L1229.7,455.5L1228.9,456.4L1229.0,457.4L1229.1,458.5L1229.3,459.9L1229.3,461.1L1229.2,462.2L1229.8,463.3L1229.7,464.7L1229.5,466.3L1229.9,466.9L1230.3,467.8L1229.9,468.5L1229.7,469.7L1228.5,470.6L1227.9,471.7L1227.5,472.5L1227.3,473.6L1226.7,474.0L1225.6,474.6L1225.0,475.5L1225.0,476.2L1224.6,477.4L1223.9,478.1L1222.9,479.1L1222.5,480.0L1222.2,481.1L1222.2,482.5L1222.8,483.2L1223.2,484.3L1224.3,485.1L1225.5,485.5L1226.6,486.3L1227.5,486.3L1228.6,486.5L1229.0,487.1L1229.7,487.8L1230.3,488.6L1231.7,488.9L1232.9,488.3L1234.1,488.3L1235.0,488.8L1236.0,488.9L1237.2,488.9L1238.0,489.2L1238.5,489.4L1239.5,489.8L1240.5,489.6L1241.8,489.3L1242.9,489.0L1243.4,488.5L1244.6,488.5L1245.2,488.3L1246.3,488.6L1246.3,489.8L1246.0,490.6L1246.4,491.9L1246.9,492.5L1247.2,493.6L1247.2,494.2L1247.0,495.4L1246.8,496.8L1245.8,497.4L1245.2,497.9L1244.4,499.0L1244.0,500.0L1243.8,501.2L1244.0,502.5L1243.8,503.3L1243.2,504.3L1243.0,505.2L1242.6,505.9L1242.6,507.0L1242.3,508.5L1241.2,509.5L1240.3,509.9L1240.2,510.8L1239.4,511.8L1238.8,512.7L1238.4,513.3L1237.4,513.7L1236.2,514.2L1235.2,514.7L1234.6,515.3L1234.4,516.2L1234.2,517.5L1234.1,518.5L1233.7,519.2L1233.3,519.9L1233.1,520.7L1233.2,522.1L1233.3,523.2L1233.6,524.6L1234.2,525.8L1235.0,526.6L1235.5,527.8L1236.2,528.9L1236.6,529.7L1237.0,530.6L1236.9,532.1L1238.0,532.3L1238.8,532.7L1239.9,533.3L1240.6,533.9L1241.7,534.2L1242.4,535.4L1243.1,536.0L1243.7,537.2L1243.7,538.4L1243.7,539.2L1243.9,539.9L1244.2,540.7L1245.0,541.9L1245.0,542.9L1244.5,543.6L1244.9,544.9L1244.8,545.7L1244.8,546.7L1244.9,547.9L1245.2,548.9L1245.2,550.3L1245.6,551.3L1246.3,552.7L1242.7,552.3L1240.8,551.6L1237.4,550.3L1234.7,551.1L1232.2,551.5L1230.1,552.1L1225.9,553.9L1223.9,556.6L1221.6,557.3L1220.5,558.2L1219.4,559.9L1218.1,560.4L1214.7,560.7L1212.9,561.7L1210.7,563.2L1209.0,565.9L1205.7,565.0L1202.5,564.1L1199.7,565.1L1197.5,566.1L1195.8,566.3L1193.6,566.6L1192.5,568.7L1189.1,571.1L1186.7,571.7L1183.8,573.2L1180.5,575.3L1178.9,578.5L1177.5,579.3L1175.5,580.0L1174.3,580.7L1171.7,580.6L1170.3,580.9L1168.8,580.4L1167.0,581.0L1165.1,581.0L1164.0,580.4L1162.4,579.3L1159.6,578.8L1157.6,578.6L1155.9,580.7L1154.8,581.8L1153.9,582.2L1152.2,582.3L1150.6,582.3L1149.5,582.8L1148.2,583.6L1145.5,583.4L1144.0,583.4L1142.8,583.1L1141.8,582.0L1140.3,582.7L1138.6,583.0L1136.5,583.8L1135.3,584.2L1133.5,583.9L1131.1,582.4L1127.8,580.2L1125.8,579.3L1122.1,578.5L1119.1,578.0L1116.1,578.9L1112.5,578.3L1111.3,579.4L1110.5,580.2L1109.7,580.9L1107.9,581.2L1105.8,581.3L1103.4,582.3L1102.2,582.3L1100.7,583.3L1099.2,583.4L1098.3,583.6L1096.6,584.1L1094.1,583.7L1092.7,584.2L1091.8,584.5L1090.4,585.0L1089.6,583.0L1089.2,581.7L1086.2,580.4L1084.7,579.0L1081.7,577.3L1079.6,577.3L1078.2,576.0L1077.1,575.6L1075.9,575.9L1074.9,575.5L1074.2,576.0L1073.2,576.4L1071.9,576.6L1070.5,576.6L1068.8,576.2L1066.7,575.4L1065.8,573.0L1064.4,571.5L1064.1,567.7L1063.9,564.3L1059.7,562.3L1055.4,557.3L1052.2,555.9L1049.6,551.2L1047.4,549.1L1043.7,547.8L1040.0,546.2L1037.3,543.0L1035.2,542.7L1031.7,542.1L1030.2,542.6L1028.4,543.7L1026.9,543.0L1025.7,542.4L1024.0,541.6L1023.1,541.0L1021.1,539.6L1019.3,538.6L1017.3,538.4L1016.0,538.7L1014.4,538.6L1013.3,538.2L1011.6,537.3L1010.7,535.1L1009.7,533.9L1008.6,532.4L1006.4,529.8L1003.7,528.9L1001.1,527.4L997.6,526.1L991.8,527.2L987.4,526.8L983.5,527.7L981.5,528.8L977.5,528.8L973.3,529.3L970.9,533.1L969.3,536.8L961.3,540.6L957.3,543.4L951.7,544.3L946.1,544.6L943.7,547.5L940.8,550.1L936.9,549.5L933.2,549.4L929.8,551.4L926.2,551.3L923.3,554.4L918.6,555.8L912.5,561.3L909.9,566.3L907.5,567.0L904.5,568.8L901.6,573.1L898.3,575.5L896.2,576.3L894.8,577.0L891.3,579.9L888.8,580.7L886.2,580.1L883.9,579.7L881.6,580.4L879.8,581.3L876.7,582.6L874.1,583.2L871.7,583.9L867.5,583.1L864.6,582.5L862.8,581.6L861.1,580.6L858.9,580.3L855.2,581.3L853.0,580.3L850.6,579.4L848.2,579.8L844.3,580.0L841.1,580.8L838.3,580.7L836.9,580.2L835.1,581.6L833.3,581.6L830.7,581.8L829.1,580.9L828.2,580.1L827.5,578.7L826.7,577.6L825.2,577.2L823.5,576.1L822.3,575.7L820.3,575.5L817.7,576.2L815.8,576.9L812.0,577.4L810.0,576.5L807.4,575.3L804.6,573.8L802.6,572.1L798.2,569.5L794.1,567.4L791.2,567.2L789.7,566.1L788.3,565.2L785.9,565.2L783.6,565.4L782.2,565.8L780.9,564.7L780.0,564.4L776.2,563.8L772.3,565.8L768.3,566.1L764.3,564.7L761.3,565.7L756.7,565.2L755.0,567.1L753.5,568.4L750.9,567.4L748.1,564.6L744.0,562.8L740.3,560.7L734.1,561.1L730.4,560.1L727.5,559.2L725.1,556.5L723.9,555.8L722.6,554.2L720.6,552.9L719.2,550.4L718.1,550.1L717.0,549.1L716.1,549.0L715.1,548.2L712.9,549.1L711.2,549.2L708.9,548.4L707.4,548.8L704.2,547.8L702.4,547.0L701.0,545.7L700.1,544.8L697.7,546.9L694.3,547.1L693.0,548.2L691.2,549.6L690.0,549.9L687.8,550.3L685.3,550.6L684.1,551.7L681.2,550.6L679.2,549.7L676.8,549.7L674.8,551.1L673.0,551.1L670.9,551.7L669.1,551.6Z" fill="#ececec" stroke="none" stroke-width="0.6"/>
<path d="M903.8,15.3L904.6,15.6L905.7,16.1L906.7,16.7L907.7,16.7L908.7,16.9L910.0,17.7L910.9,18.2L911.5,18.1L912.3,19.2L913.3,18.9L914.7,19.6L915.7,19.2L916.7,19.5L917.3,20.3L918.3,20.7L918.9,21.4L919.6,22.0L920.4,22.3L921.0,22.9L921.5,24.4L921.7,25.2L921.2,26.2L921.8,27.3L922.1,28.2L923.0,29.0L923.8,29.1L924.7,29.9L925.6,30.3L927.1,30.6L928.3,31.2L929.7,31.5L930.5,32.1L931.4,32.7L932.0,33.1L932.3,34.1L933.7,34.8L934.2,35.5L935.3,36.2L935.8,36.8L936.7,37.6L937.2,38.6L937.5,39.3L937.6,40.4L936.5,41.1L935.9,41.6L934.7,41.6L934.2,42.3L933.3,43.0L933.3,43.6L933.4,44.7L932.8,45.4L932.2,46.4L931.5,47.4L930.7,48.6L930.6,49.5L929.8,50.5L929.7,51.8L930.0,52.5L930.1,53.5L929.6,54.7L928.9,55.3L927.9,55.6L927.0,56.3L926.5,56.7L925.9,57.5L925.5,58.6L925.8,59.5L925.8,60.2L926.0,61.0L925.6,62.3L925.7,63.2L925.6,64.0L926.3,65.4L927.0,65.8L927.8,66.5L928.3,67.5L928.2,68.5L927.9,69.6L927.7,70.4L927.7,71.6L928.9,72.6L928.6,73.4L929.2,74.9L928.4,75.9L927.7,76.9L927.4,78.0L927.1,79.4L927.4,80.0L928.0,80.9L926.8,81.5L925.7,82.6L925.0,83.8L925.1,84.6L924.5,85.5L924.2,86.1L924.2,87.1L924.0,88.0L923.8,89.2L923.7,90.6L924.1,91.3L924.3,92.2L924.6,92.9L924.7,94.2L924.3,94.6L923.6,95.5L923.5,97.0L922.8,98.3L922.4,99.7L923.0,101.0L923.5,101.8L923.1,103.1L922.4,104.3L921.2,104.7L920.6,105.2L919.8,105.6L919.0,106.5L918.8,107.3L918.3,108.6L918.9,110.0L919.0,111.3L919.0,112.0L919.1,113.1L919.4,114.2L920.2,114.8L921.5,115.3L921.4,116.0L921.2,117.0L920.7,117.8L920.2,118.5L919.0,118.9L918.3,119.2L918.1,120.2L917.4,121.0L916.7,121.1L916.3,121.9L914.9,122.6L914.9,124.1L913.8,125.3L913.9,126.3L913.0,127.6L912.4,128.3L911.9,128.8L910.6,128.8L909.7,128.3L908.3,129.1L907.0,130.0L905.4,130.1L905.3,130.9L904.9,131.8L903.8,132.8L903.1,133.2L902.6,134.0L902.0,135.4L901.5,136.3L901.5,137.0L900.6,137.5L899.5,137.8L898.8,138.5L897.4,139.1L896.3,139.4L895.8,139.9L894.9,141.0L893.8,141.4L892.6,142.2L891.9,142.6L891.4,143.7L891.0,145.1L890.5,146.0L890.5,146.8L891.0,147.8L890.5,148.6L889.8,149.2L889.4,150.0L889.0,150.8L888.1,151.1L888.3,152.0L889.0,152.9L888.8,154.3L888.7,155.3L887.8,156.4L887.0,157.2L886.7,157.9L886.3,159.0L886.1,159.7L885.4,159.4L884.3,159.0L883.7,158.0L882.9,157.4L882.1,157.0L880.7,156.6L879.7,156.4L879.7,155.7L879.0,154.9L878.0,154.3L877.3,153.4L877.1,152.4L876.5,151.3L875.9,150.5L875.5,150.0L875.7,148.6L875.6,147.2L874.9,145.9L874.1,145.0L873.5,144.0L873.9,142.7L873.6,142.0L873.4,141.4L873.1,140.4L873.1,139.1L872.5,138.3L872.1,137.1L871.3,136.2L871.2,135.4L870.7,134.8L870.4,133.6L870.9,132.2L871.1,131.6L871.0,130.5L871.0,129.8L870.9,128.5L870.9,127.2L871.2,126.4L871.7,125.7L871.3,125.1L870.6,124.3L870.4,123.4L870.3,122.6L869.8,121.2L869.9,120.2L869.3,118.7L869.5,117.9L869.1,116.9L869.4,115.8L869.4,114.8L868.5,113.8L867.8,112.6L867.8,111.6L868.0,110.9L867.3,109.9L866.2,109.2L865.9,108.6L865.9,107.4L866.3,106.7L866.4,105.8L867.1,105.2L867.2,104.1L866.9,103.1L865.8,102.5L864.8,102.1L864.1,101.6L863.6,100.5L863.9,99.4L863.5,98.7L863.9,97.8L863.9,96.7L863.2,95.5L862.7,94.7L862.3,93.9L862.6,92.9L862.5,92.1L863.6,91.0L862.4,90.3L861.6,89.5L860.1,88.9L859.1,88.3L858.8,87.1L857.3,86.5L856.2,85.8L854.9,86.0L853.8,86.1L852.9,85.9L851.7,86.4L850.8,87.1L850.3,85.9L849.6,85.2L848.3,84.6L847.4,83.5L846.9,82.6L845.7,82.5L844.2,82.4L843.6,81.9L842.7,80.9L842.9,79.6L843.3,78.6L842.8,77.9L842.6,77.1L841.9,75.9L841.7,74.3L841.1,73.2L840.3,71.9L840.4,71.2L841.2,70.4L841.5,69.3L842.6,68.6L843.5,67.3L843.5,66.2L843.4,65.2L844.4,64.7L845.2,64.8L846.1,64.3L847.6,63.7L848.5,63.1L849.2,62.8L850.1,62.3L850.1,61.5L850.1,60.7L850.2,59.7L850.8,58.8L851.8,58.0L852.5,56.6L852.2,55.7L852.7,54.6L852.4,53.3L852.9,52.8L853.2,51.8L854.2,51.5L854.7,50.8L855.2,50.0L855.4,48.5L856.5,48.4L857.2,47.6L858.4,47.6L858.6,46.1L859.6,45.1L859.5,44.3L859.4,43.5L859.3,42.1L859.6,41.1L860.4,40.4L861.8,39.7L863.1,39.2L864.3,39.5L864.9,39.1L866.2,39.0L867.6,38.5L868.5,37.5L869.0,36.7L870.1,36.1L871.7,35.9L872.8,35.8L873.8,34.7L875.0,35.0L875.7,34.7L876.6,33.5L877.6,33.2L879.0,32.9L879.4,32.3L879.8,31.2L880.7,30.9L881.5,30.4L882.9,30.2L883.6,30.0L884.5,29.9L885.0,29.0L885.6,28.6L886.1,27.5L887.1,26.7L888.0,26.3L889.4,26.5L890.4,25.8L891.4,24.8L891.5,23.7L891.8,22.3L892.6,20.9L893.5,20.3L894.4,19.9L895.5,19.6L896.3,19.9L897.7,20.5L898.6,19.6L899.8,19.2L900.6,18.7L901.2,17.9L901.5,16.8L902.3,15.7Z" fill="#f5f8d4" stroke="#7d886f" stroke-width="0.6"/>
<path d="M852.9,151.3L852.1,152.2L851.2,152.7L850.8,153.4L849.4,152.8L848.4,152.5L847.8,152.2L846.8,151.7L846.1,150.5L845.9,149.8L844.6,148.9L843.8,149.2L842.7,148.8L842.4,147.6L841.4,147.1L841.6,145.6L841.3,144.6L840.3,144.1L839.3,144.6L838.3,144.4L837.1,143.7L836.2,143.2L835.6,143.0L834.9,141.8L833.7,141.6L833.1,141.1L834.1,141.1L834.8,140.4L835.9,140.9L836.8,140.8L837.5,140.7L838.7,139.9L838.5,138.6L838.6,137.4L838.5,136.4L838.0,135.6L837.9,134.3L837.3,133.0L836.4,132.7L836.3,131.6L835.9,130.9L834.5,130.5L833.1,130.1L833.0,129.2L832.3,128.1L831.3,127.9L830.7,127.3L830.9,126.0L830.6,125.2L830.7,123.9L829.5,123.2L828.6,122.9L827.7,123.2L826.7,122.5L825.6,122.4L824.6,122.7L823.4,122.2L822.3,121.6L821.8,121.1L820.9,120.5L819.9,120.4L819.4,119.8L818.3,119.7L817.6,120.1L816.4,120.0L815.4,119.2L814.2,118.9L813.7,118.0L814.1,116.6L813.6,115.8L813.0,114.8L812.6,114.0L812.6,113.2L812.7,112.5L813.3,111.6L814.2,111.3L814.6,110.5L814.3,109.6L814.6,108.6L814.2,107.7L814.2,106.5L814.2,105.4L815.2,104.6L815.4,103.1L816.0,102.1L817.5,102.1L818.6,101.4L819.8,101.6L820.5,101.2L822.0,100.7L823.0,101.5L824.4,101.7L825.6,102.6L826.3,102.5L827.5,101.9L827.6,103.5L828.0,104.3L829.3,105.1L830.2,105.4L831.4,106.2L832.3,106.3L833.1,107.0L833.5,107.8L833.9,108.4L834.1,109.9L835.0,110.2L835.5,111.0L836.3,112.0L837.2,111.9L837.9,112.3L838.6,112.7L838.8,114.0L840.3,114.5L841.2,114.4L842.1,115.3L842.2,116.1L842.7,117.3L843.8,117.7L844.2,118.3L844.5,119.0L845.6,119.2L846.8,119.7L847.4,120.5L848.1,120.6L848.4,121.7L848.3,122.5L849.2,123.4L848.8,124.5L848.3,125.1L848.9,126.0L848.5,126.7L848.3,127.5L848.7,128.6L849.2,129.1L850.0,130.1L850.8,131.2L852.1,131.5L853.0,131.5L853.6,132.5L854.1,133.8L854.8,134.3L855.7,134.1L856.4,134.4L857.2,135.5L857.0,136.2L856.3,137.0L856.1,138.0L856.8,139.2L855.4,139.4L854.8,140.3L854.4,141.2L854.6,142.3L853.8,142.9L853.0,142.8L852.4,144.1L852.7,145.5L852.9,146.5L853.7,147.2L853.1,147.6L852.5,148.5L852.6,149.5L853.4,150.1Z" fill="#f5f8d4" stroke="#7d886f" stroke-width="0.6"/>
<path d="M793.7,120.2L793.1,121.1L792.7,122.2L793.3,123.4L792.8,124.7L792.0,125.0L791.3,125.7L790.4,125.4L789.5,124.2L788.3,124.0L787.4,124.4L786.5,124.8L785.1,125.4L784.3,125.5L783.4,125.2L781.9,125.2L780.7,125.8L780.0,126.6L779.2,126.3L778.3,126.4L777.7,126.2L776.5,125.8L775.3,125.4L774.4,124.8L773.8,124.2L772.7,123.2L772.0,123.8L770.8,123.7L770.2,122.8L769.3,122.5L768.8,122.0L768.6,120.5L767.4,119.5L767.3,118.3L766.4,117.3L766.5,116.6L767.5,116.0L768.0,114.8L766.9,114.1L766.4,112.7L765.5,112.3L766.2,111.4L766.3,110.7L766.2,109.3L766.7,108.5L768.0,108.1L769.2,107.1L770.2,107.2L771.7,106.8L772.2,106.0L773.3,105.9L773.6,104.8L774.2,105.2L775.2,105.1L775.2,105.9L776.2,106.7L777.6,106.6L778.0,107.3L779.2,107.5L780.4,106.8L780.9,105.3L781.9,105.0L783.2,105.0L784.0,104.2L784.5,104.8L785.4,105.3L785.8,106.5L787.0,107.6L788.1,108.6L787.7,109.6L787.3,110.2L787.5,111.0L787.1,112.4L787.8,112.7L788.7,113.4L789.2,114.7L789.3,115.6L789.7,116.3L790.2,116.8L791.0,117.4L792.2,118.2L792.7,119.2Z" fill="#f5f8d4" stroke="#7d886f" stroke-width="0.6"/>
<path d="M763.9,113.8L762.8,113.0L761.8,113.0L760.9,112.7L759.9,112.5L759.0,112.4L758.2,112.3L756.8,112.0L755.9,112.3L756.2,111.3L756.2,110.4L755.6,109.2L755.0,107.9L755.4,107.2L755.8,105.9L755.8,105.2L756.5,104.5L756.7,103.1L756.9,102.1L756.7,101.2L756.2,100.2L755.9,99.0L756.8,98.6L757.5,98.3L758.6,97.5L759.6,96.9L760.4,97.4L761.0,97.6L762.3,97.3L762.9,98.2L763.5,98.5L764.1,99.2L765.1,99.6L766.2,99.9L767.1,100.1L768.2,99.4L768.8,99.0L768.7,99.8L769.6,100.8L769.3,101.9L769.9,102.5L771.0,102.8L772.0,103.7L771.4,104.4L770.5,105.3L770.2,106.2L769.6,107.5L768.8,108.5L768.1,108.8L767.2,108.6L767.2,109.8L766.8,111.2L766.4,112.1L765.3,112.8L764.6,113.1Z" fill="#f5f8d4" stroke="#7d886f" stroke-width="0.6"/>
<path d="M788.1,90.4L787.2,91.5L786.3,91.9L785.4,91.6L784.4,92.2L784.0,93.4L783.8,94.0L782.8,94.7L781.6,94.8L781.2,95.6L780.7,96.9L779.6,97.5L778.6,97.6L777.9,98.0L777.2,97.3L776.3,97.1L775.5,97.3L774.4,97.3L773.7,96.6L773.3,95.4L773.3,94.5L772.4,93.7L771.5,92.9L770.3,92.5L769.6,92.7L768.8,92.9L768.1,91.6L768.2,90.4L768.8,89.8L769.1,88.8L769.9,87.8L769.7,87.1L769.9,86.0L769.6,85.1L771.0,85.3L772.4,84.6L773.7,84.5L774.9,83.7L775.5,83.9L776.5,83.8L777.4,84.1L778.2,84.2L779.2,84.4L779.9,85.1L780.8,85.6L781.6,86.6L782.4,87.8L783.7,87.8L784.6,88.2L786.0,88.8L787.3,88.4L787.2,89.6Z" fill="#f5f8d4" stroke="#7d886f" stroke-width="0.6"/>
<path d="M770.4,83.7L769.2,83.7L767.8,84.4L766.5,84.5L765.9,83.8L764.7,84.2L764.3,84.7L763.9,85.8L763.3,85.3L762.9,84.5L762.0,83.9L761.3,83.4L760.6,82.8L759.1,82.3L759.6,81.8L760.1,80.9L761.2,79.8L761.3,78.7L762.1,77.9L762.7,77.6L763.8,76.6L764.7,76.5L765.6,77.1L766.6,77.4L767.7,77.7L768.3,77.2L768.8,78.1L769.6,79.4L770.1,80.9L770.7,82.0L770.9,83.0Z" fill="#f5f8d4" stroke="#7d886f" stroke-width="0.6"/>
<path d="M817.8,146.7L819.3,147.3L820.3,146.8L820.9,147.3L821.8,147.4L822.9,146.8L823.6,145.6L824.9,145.7L825.6,145.2L826.7,145.2L826.1,144.3L824.9,144.0L823.8,143.1L823.4,142.2L822.7,141.1L822.0,140.8L821.0,140.3L820.3,139.5L819.6,139.6L818.6,138.3L817.9,139.5L818.2,140.4L818.7,141.8L817.9,142.4L817.1,143.0L816.7,144.1L816.9,145.5Z" fill="#f5f8d4" stroke="#7d886f" stroke-width="0.6"/>
<path d="M800.1,108.6L799.8,107.4L800.3,106.6L800.3,105.7L799.3,104.9L798.1,104.4L797.2,103.9L796.4,103.9L795.2,103.6L794.5,103.1L795.0,102.5L795.8,101.7L796.5,101.4L797.7,101.4L799.1,101.2L799.9,101.9L800.1,102.9L801.0,104.1L801.3,105.5L801.7,107.0L800.9,107.8Z" fill="#f5f8d4" stroke="#7d886f" stroke-width="0.6"/>
<path d="M806.6,108.6L805.6,107.6L805.0,107.3L803.6,106.8L802.5,105.9L803.3,105.3L803.7,104.5L805.0,104.0L804.4,102.9L804.8,102.1L804.5,101.3L804.4,100.3L804.9,99.6L806.0,99.3L806.6,98.8L807.7,98.7L809.0,99.2L810.1,99.6L810.6,100.2L810.3,101.2L810.5,101.9L809.6,102.9L809.6,103.9L809.3,104.7L809.1,105.8L808.2,107.0L807.1,107.6Z" fill="#f5f8d4" stroke="#7d886f" stroke-width="0.6"/>
<path d="M801.7,127.9L800.8,127.3L800.4,126.8L799.2,127.1L797.7,126.6L798.2,125.8L798.0,124.6L798.5,123.2L799.7,122.8L800.1,122.0L801.5,122.6L802.1,123.3L802.8,123.6L803.3,124.4L802.9,125.6L803.3,126.7L802.6,127.4Z" fill="#f5f8d4" stroke="#7d886f" stroke-width="0.6"/>
<path d="M799.3,94.2L798.0,94.0L797.2,92.9L796.7,92.1L796.3,91.4L795.2,91.2L794.5,91.0L795.8,90.3L796.3,89.0L796.4,88.1L796.3,87.1L795.3,86.0L795.9,84.7L796.1,83.7L796.7,84.8L797.4,85.0L798.9,85.3L800.1,85.8L799.9,86.6L799.5,87.5L799.5,88.5L799.8,89.1L800.6,89.6L801.2,89.9L800.8,91.4L799.5,92.0L799.3,93.0Z" fill="#f5f8d4" stroke="#7d886f" stroke-width="0.6"/>
<path d="M806.6,96.0L805.7,96.1L804.9,95.8L803.9,95.1L803.0,94.9L802.5,94.2L803.0,93.6L802.9,92.2L803.4,90.9L804.1,90.4L805.4,91.1L806.6,91.7L806.7,92.8L806.4,93.8L806.4,94.8Z" fill="#f5f8d4" stroke="#7d886f" stroke-width="0.6"/>
<path d="M828.3,87.1L828.5,87.8L828.2,88.9L828.6,89.8L828.5,90.9L828.7,92.1L828.7,93.0L828.2,93.8L828.1,94.9L827.3,96.1L826.7,96.6L825.4,97.1L824.9,97.8L824.4,98.4L823.1,98.5L821.6,98.9L820.1,98.4L818.6,98.0L818.2,97.1L817.2,97.2L815.9,97.3L815.4,97.9L814.2,97.4L813.8,96.6L813.0,95.8L812.2,95.4L811.0,94.7L810.1,94.3L809.0,94.8L809.3,93.7L810.3,92.8L810.4,91.5L809.7,90.7L810.5,89.6L810.7,88.8L810.6,87.8L812.0,87.5L812.7,86.3L812.7,85.2L812.4,84.6L813.0,83.7L813.5,83.4L814.6,83.2L816.0,83.5L816.4,84.3L817.6,85.1L818.4,85.5L819.3,85.4L820.8,85.5L821.8,84.4L823.2,84.1L823.8,84.8L825.2,84.7L825.7,85.6L826.0,86.2L827.0,86.2Z" fill="#f5f8d4" stroke="#7d886f" stroke-width="0.6"/>
<path d="M831.5,84.4L830.4,84.0L829.7,84.1L828.2,84.5L827.1,85.5L826.1,85.7L825.0,85.8L823.6,85.3L822.2,85.6L821.4,85.2L820.4,85.2L819.6,84.7L819.1,84.1L818.0,83.6L816.8,83.5L816.1,83.6L814.5,83.8L813.8,84.4L813.2,83.3L812.8,82.4L813.4,81.1L813.1,79.8L813.0,78.7L813.3,77.1L814.4,76.2L815.1,75.9L816.1,76.1L817.0,75.0L817.3,73.8L817.4,72.8L818.0,72.1L818.0,71.0L817.5,70.2L817.0,69.5L817.1,68.6L817.8,68.0L818.1,67.4L818.7,66.4L819.8,66.1L820.5,66.1L821.8,65.4L821.0,64.1L819.9,63.2L819.4,62.2L818.5,61.6L818.6,60.2L819.4,59.5L819.6,58.6L820.5,57.6L821.1,56.9L822.1,56.8L823.3,56.4L823.8,55.2L825.0,54.7L823.7,54.1L822.6,53.4L821.5,53.2L821.0,53.7L820.1,53.1L819.5,52.9L818.6,51.8L818.3,50.3L817.9,49.5L817.6,48.8L816.9,48.0L816.1,47.8L815.4,47.6L814.3,47.8L813.6,47.5L813.1,47.1L812.2,46.8L812.7,45.7L813.1,44.4L812.9,43.4L813.8,42.1L814.8,41.7L815.2,40.6L815.8,39.9L816.5,39.4L817.8,39.7L819.1,39.0L820.2,38.1L820.3,37.2L820.2,35.9L821.0,35.6L821.3,34.5L822.5,34.4L822.8,32.9L823.6,32.0L824.8,31.5L825.1,30.8L826.1,30.3L827.3,30.4L828.7,30.5L829.4,29.6L830.0,28.6L829.7,27.9L830.4,27.5L830.7,26.3L831.7,25.9L832.4,26.3L833.7,26.2L834.8,25.4L836.0,24.8L836.3,23.6L837.5,24.5L838.9,24.5L840.0,24.1L841.1,24.7L841.6,24.0L843.0,23.8L844.0,24.7L844.3,25.6L845.0,25.5L846.1,25.7L847.0,25.7L847.9,25.5L849.0,24.8L849.9,25.3L850.8,25.6L851.9,25.8L852.4,26.2L853.4,26.8L854.1,27.1L854.8,28.0L855.5,28.1L856.5,29.3L857.0,30.3L857.8,31.6L857.0,32.6L857.2,33.6L856.4,34.3L856.4,35.4L856.6,36.2L855.9,37.1L855.8,38.2L855.9,39.0L854.9,39.9L853.9,40.8L853.0,41.1L852.4,41.5L852.9,42.5L852.2,44.0L852.3,44.9L851.7,45.6L850.9,46.2L850.3,47.2L850.2,48.1L850.3,48.8L849.3,49.4L848.0,48.9L846.8,49.5L846.1,50.1L845.7,50.8L845.9,51.8L845.5,52.6L844.8,53.0L844.0,53.5L843.4,53.9L842.5,54.4L842.1,55.1L841.2,55.8L840.4,56.5L840.2,57.2L840.3,58.4L839.4,59.5L839.5,60.4L839.1,61.9L838.3,63.1L838.4,64.0L837.2,64.6L836.3,65.4L836.8,66.5L836.7,67.6L837.2,68.1L837.2,69.6L837.9,70.3L837.9,71.4L837.3,71.9L836.2,72.2L835.2,73.4L833.9,73.4L834.0,74.9L833.9,76.3L832.7,76.9L832.5,77.9L831.5,78.7L831.4,79.9L832.3,80.9L832.0,82.3L832.0,83.5Z" fill="#f5f8d4" stroke="#7d886f" stroke-width="0.6"/>
<path d="M815.4,69.5L814.3,68.9L813.7,67.9L814.1,66.8L813.9,66.1L812.5,65.7L811.5,64.7L810.7,64.2L809.8,64.4L808.7,64.4L808.2,63.7L808.3,63.0L808.7,62.1L808.6,60.8L808.2,59.9L808.4,58.6L807.2,57.8L805.9,57.8L805.1,57.4L805.4,56.7L805.0,55.6L804.1,54.7L804.2,53.7L803.8,52.9L804.1,51.9L804.8,51.3L805.3,50.6L806.3,50.1L806.6,49.3L806.7,48.5L806.8,47.5L806.6,46.0L807.4,44.7L807.5,45.9L808.4,46.9L808.7,47.9L809.5,48.3L810.4,48.2L811.0,48.6L812.2,48.8L812.8,49.8L813.2,50.6L813.3,51.4L812.4,52.1L812.3,53.4L813.1,53.9L813.5,54.7L813.9,55.6L814.0,56.5L814.4,57.5L815.4,58.4L815.6,59.5L815.7,60.1L815.1,60.8L815.2,61.7L816.1,62.6L816.4,63.3L817.1,64.6L817.8,65.4L817.5,66.1L816.8,66.9L816.1,67.9L815.7,68.7Z" fill="#f5f8d4" stroke="#7d886f" stroke-width="0.6"/>
<path d="M796.1,71.9L795.3,72.4L794.5,72.3L793.2,72.0L792.2,71.5L791.7,70.1L790.5,69.5L791.3,68.2L791.0,67.4L791.8,66.2L793.3,66.0L793.4,65.1L793.8,64.1L792.9,62.8L793.0,63.8L794.0,64.5L794.9,65.4L795.9,66.2L796.9,66.2L797.1,67.0L796.5,67.9L797.1,68.8L796.5,70.0L796.6,70.8Z" fill="#f5f8d4" stroke="#7d886f" stroke-width="0.6"/>
<path d="M861.4,193.7L861.1,192.3L862.1,191.5L862.3,190.5L863.5,189.8L864.0,189.1L864.8,187.8L865.6,186.4L865.2,185.3L865.9,184.5L866.0,183.8L867.0,184.2L867.7,184.1L867.9,185.4L868.0,186.2L867.3,187.1L867.2,187.9L868.4,188.6L869.2,189.1L870.1,189.4L870.9,189.6L870.3,191.0L870.3,192.0L871.3,192.7L871.7,193.7L872.2,195.1L872.3,196.1L871.4,195.5L870.1,195.6L868.9,195.3L867.7,195.4L867.2,194.5L866.0,193.7L865.0,193.6L864.3,193.5L863.1,193.5L862.3,193.2Z" fill="#f5f8d4" stroke="#7d886f" stroke-width="0.6"/>
<path d="M758.6,191.8L757.5,191.4L756.7,191.3L755.6,191.2L755.1,190.4L754.6,189.7L754.0,189.0L752.7,188.4L751.7,187.7L750.6,186.6L751.5,186.3L751.9,185.6L752.5,186.2L753.6,186.3L754.4,186.4L755.1,187.1L755.9,187.9L756.7,188.6L757.4,189.3L757.7,189.9L758.3,190.8Z" fill="#f5f8d4" stroke="#7d886f" stroke-width="0.6"/>
<path d="M746.3,182.2L744.9,181.8L744.1,181.2L743.8,180.1L742.9,179.0L743.0,177.4L744.1,177.4L745.1,177.2L745.0,178.6L744.9,179.3L745.8,180.1L746.4,181.1Z" fill="#f5f8d4" stroke="#7d886f" stroke-width="0.6"/>
<path d="M730.2,123.0L731.5,122.6L732.6,123.1L733.9,123.8L735.0,124.8L735.6,124.6L736.8,124.3L737.7,123.4L738.7,123.7L739.8,123.4L741.1,123.2L742.0,124.0L743.0,123.9L743.6,122.8L744.2,122.3L745.4,122.2L746.2,121.4L747.0,121.5L747.9,121.1L749.2,120.7L750.2,120.0L751.1,119.7L752.1,119.9L752.9,120.5L753.5,121.0L753.7,122.1L754.3,123.4L755.2,123.5L755.9,123.4L756.6,123.6L757.5,123.9L759.1,123.6L760.3,123.8L760.9,123.2L761.3,122.3L762.3,122.0L762.9,122.6L764.3,123.1L765.3,123.6L765.9,124.2L767.2,124.8L768.6,125.4L769.8,126.0L771.0,126.8L772.0,126.6L772.4,127.2L773.4,127.9L774.2,128.8L775.2,128.8L776.6,129.2L777.1,129.1L778.2,129.1L779.1,129.2L780.0,130.1L781.3,130.2L782.0,129.6L783.2,129.2L783.9,128.9L785.2,128.5L786.2,127.8L786.5,126.6L787.2,127.3L788.0,128.4L788.7,128.9L789.7,128.8L791.1,128.7L791.9,129.0L793.1,129.4L794.0,130.1L794.5,130.9L795.3,130.9L796.2,130.8L797.2,131.1L798.2,131.1L799.3,130.9L800.4,130.0L800.7,129.1L801.9,129.2L802.5,128.8L802.9,127.6L802.5,126.8L803.0,125.6L802.6,124.8L802.9,123.9L803.1,123.1L804.1,122.0L804.7,120.9L804.1,119.9L804.3,118.8L804.0,117.7L804.6,116.6L805.2,115.9L805.9,115.2L805.7,113.8L806.8,114.2L807.8,115.1L807.9,116.0L809.0,117.1L809.3,117.9L809.0,118.7L809.2,119.5L809.3,120.5L809.9,121.5L810.8,122.3L811.6,122.8L812.5,122.8L812.3,124.3L813.0,125.1L812.3,126.0L812.1,126.7L812.2,127.9L813.5,127.4L814.2,126.6L815.4,126.6L815.9,126.1L816.2,125.2L817.4,124.7L817.7,124.0L818.6,123.4L819.6,122.5L820.2,122.0L820.9,122.0L821.8,122.4L822.4,123.5L823.4,123.9L823.9,125.4L824.9,126.3L825.2,127.0L825.8,127.9L825.3,128.7L825.1,130.2L824.7,130.8L824.6,131.8L824.4,132.6L825.0,133.4L825.0,134.3L824.8,135.2L823.6,136.1L822.4,136.3L821.8,136.7L820.3,136.9L819.1,137.7L818.6,138.3L818.7,139.3L817.8,140.4L817.1,141.1L817.1,142.0L817.0,143.0L815.9,143.8L815.0,143.9L814.7,144.9L813.8,145.9L813.2,146.7L812.3,147.6L811.1,148.4L810.9,149.2L810.6,150.3L809.1,150.6L808.6,151.3L808.1,152.0L808.3,153.6L807.4,154.7L806.8,155.6L806.9,156.4L806.9,157.4L806.4,158.0L805.7,158.7L804.9,159.7L804.7,160.4L804.5,161.6L804.9,162.4L804.9,163.5L806.3,163.6L807.4,163.8L807.8,164.7L808.1,165.4L808.5,166.5L809.4,167.6L810.6,168.3L811.5,169.3L812.9,169.4L814.1,170.4L815.4,170.4L816.3,171.1L816.6,171.8L817.2,171.9L818.3,172.1L818.9,172.6L819.4,173.8L820.3,174.5L821.2,174.4L822.4,174.7L823.4,174.2L824.2,174.4L823.4,175.4L823.5,176.3L823.6,177.2L824.1,178.4L824.7,178.8L825.3,179.8L825.7,180.6L825.8,181.5L826.8,182.6L827.6,183.6L827.5,184.6L828.3,184.1L829.1,183.8L829.3,182.9L829.8,182.1L830.2,181.5L831.1,180.6L831.0,179.7L830.3,178.7L830.4,178.0L829.9,176.9L830.5,176.0L830.4,174.7L831.1,174.4L831.5,173.5L832.6,173.0L832.6,172.0L833.5,170.9L833.6,169.8L833.7,168.9L834.2,168.1L834.2,167.3L834.2,166.3L834.0,165.6L833.1,165.0L832.0,164.4L831.2,163.5L831.4,162.5L832.4,161.7L832.1,160.7L832.3,159.7L831.7,159.2L831.2,157.9L831.1,156.5L831.1,155.4L831.5,154.7L831.1,154.0L831.4,153.1L831.5,152.3L832.3,151.7L833.2,151.8L834.6,152.1L835.7,152.0L836.3,152.3L837.2,152.8L838.2,152.7L839.5,153.0L839.9,154.0L840.6,154.3L841.0,155.1L841.9,155.7L843.2,156.6L844.3,157.1L844.9,157.7L845.0,159.0L844.8,159.8L845.1,161.3L845.5,162.3L845.1,163.8L845.9,164.5L846.9,164.7L847.6,164.7L848.5,163.9L850.0,163.5L851.0,162.5L851.5,161.9L852.4,161.3L853.2,160.3L853.2,159.3L853.2,158.7L853.2,159.6L853.0,160.8L853.7,161.4L854.3,162.1L854.8,162.8L855.3,163.4L855.8,164.7L856.4,165.7L857.1,166.1L857.2,167.4L857.9,168.6L857.9,169.5L858.0,170.4L858.4,171.6L859.2,172.2L859.8,172.6L860.4,173.2L861.5,174.2L862.4,174.7L862.8,176.1L863.1,177.3L864.1,178.3L864.8,178.8L865.1,179.4L865.6,180.4L866.9,181.2L866.7,182.3L867.2,183.3L865.7,183.6L864.9,184.3L863.5,184.5L862.5,185.0L862.4,186.1L861.2,186.9L859.8,187.4L858.9,187.1L857.5,187.6L856.4,187.3L855.3,187.3L854.3,187.8L853.2,187.4L852.2,187.3L851.2,187.3L850.0,187.9L849.6,188.8L849.0,189.3L847.6,189.6L847.4,190.5L846.9,191.1L846.1,191.4L845.3,191.6L844.8,192.8L843.6,193.8L843.0,194.5L842.7,195.2L843.4,194.4L844.3,194.2L845.0,192.9L845.9,192.0L846.8,191.6L847.0,191.0L847.9,190.2L848.8,190.3L849.5,190.1L850.3,189.9L851.1,189.7L852.4,189.9L853.5,190.8L853.5,192.2L852.7,193.3L852.4,194.7L853.1,195.9L853.0,196.8L853.6,197.2L854.5,198.0L855.6,198.0L856.5,198.2L857.2,198.8L858.5,198.4L859.5,198.4L860.4,197.5L860.7,198.0L859.9,198.5L858.8,199.3L857.9,199.9L857.2,199.8L855.8,200.3L854.8,200.7L853.6,200.7L853.2,201.5L852.3,201.8L851.9,202.2L851.1,202.9L850.8,201.4L851.1,200.8L851.7,200.1L852.5,199.9L853.2,199.1L852.3,198.9L850.8,199.3L849.2,199.6L847.9,198.2L847.9,194.9L845.6,194.2L844.3,196.6L841.9,199.8L836.8,199.8L833.9,202.1L829.5,203.4L829.9,204.7L824.2,206.5L824.2,204.3L824.7,198.7L822.5,197.3L820.9,196.3L814.8,192.1L812.8,192.8L803.8,190.4L759.1,190.4L758.6,189.1L757.5,188.4L756.2,187.6L755.9,186.6L754.6,185.9L754.0,185.2L752.7,184.8L752.0,183.7L751.4,182.2L750.7,180.8L750.3,180.1L749.5,179.9L749.1,179.0L748.8,178.2L747.9,177.4L748.1,176.5L747.5,175.5L747.3,174.0L747.3,173.0L747.9,172.1L747.9,171.5L745.0,169.5L744.3,167.4L742.2,164.4L739.3,160.9L737.2,162.2L735.8,163.1L733.4,159.7L730.2,158.7Z" fill="#f5f8d4" stroke="#7d886f" stroke-width="0.6"/>
<path d="M730.2,123.0L723.7,120.6L717.3,118.7L712.5,117.3L705.2,114.8L701.2,117.3L696.4,120.2L693.2,125.7L689.7,126.2L694.0,129.2L696.4,134.3L693.2,135.9L690.0,137.5L686.8,139.9L691.6,144.1L698.0,144.1L698.0,147.8L694.8,149.5L692.2,149.2L690.0,154.7L691.6,158.0L696.4,160.0L696.4,163.8L702.8,163.8L704.4,165.9L702.0,169.5L698.0,172.1L693.2,174.7L695.6,173.8L699.6,173.0L704.4,170.1L708.5,166.5L709.3,163.5L712.5,159.7L713.3,156.4L715.7,155.7L718.9,158.0L722.1,157.1L725.3,159.7L730.2,160.0L732.3,160.9L735.3,163.1L737.6,164.7L739.8,167.4L741.4,170.4L743.0,173.0L745.0,174.7L746.9,175.2L747.9,172.1L747.9,171.5L745.0,169.5L744.3,167.4L742.2,164.4L739.3,160.9L737.2,162.2L735.8,163.1L733.4,159.7L730.2,158.7Z" fill="#b1dfc1" stroke="#7d886f" stroke-width="0.6" />
<path d="M708.3,169.2L711.8,167.7L711.0,165.9L708.9,166.5Z" fill="#b1dfc1" stroke="#7d886f" stroke-width="0.6" />
<path d="M737.2,165.6L738.4,167.1L739.3,168.9L740.3,171.0L741.3,172.7L742.6,174.4L744.2,175.2" fill="none" stroke="#76826a" stroke-width="1.5" stroke-dasharray="3,1"/>
<path d="M747.4,176.3L748.5,178.5L749.8,180.7L751.1,182.8L752.2,184.6L754.0,185.9L755.9,187.6" fill="none" stroke="#76826a" stroke-width="1.2" stroke-dasharray="2.5,1.2"/>
<path d="M1309.1,123.0L1302.6,120.6L1296.2,118.7L1291.4,117.3L1284.1,114.8L1280.1,117.3L1275.3,120.2L1272.1,125.7L1268.5,126.2L1272.9,129.2L1275.3,134.3L1272.1,135.9L1268.9,137.5L1265.6,139.9L1270.5,144.1L1276.9,144.1L1276.9,147.8L1273.7,149.5L1271.1,149.2L1268.9,154.7L1270.5,158.0L1275.3,160.0L1275.3,163.8L1281.7,163.8L1283.3,165.9L1280.9,169.5L1276.9,172.1L1272.1,174.7L1274.5,173.8L1278.5,173.0L1283.3,170.1L1287.3,166.5L1288.1,163.5L1291.4,159.7L1292.2,156.4L1294.6,155.7L1297.8,158.0L1301.0,157.1L1304.2,159.7L1309.1,160.0L1311.1,160.9L1314.2,163.1L1316.4,164.7L1318.7,167.4L1320.3,170.4L1321.9,173.0L1323.8,174.7L1325.8,175.2L1326.7,172.1L1326.7,171.5L1323.8,169.5L1323.2,167.4L1321.1,164.4L1318.2,160.9L1316.1,162.2L1314.7,163.1L1312.3,159.7L1309.1,158.7Z" fill="#b1dfc1" stroke="#7d886f" stroke-width="0.6" />
<path d="M756.4,191.8L757.3,195.4L757.5,197.0L757.7,198.7L757.3,202.1L756.9,204.7L757.2,206.9L757.3,209.9L757.8,211.8L759.1,214.9L759.9,215.7L760.7,217.1L761.0,218.1L763.0,221.6L764.7,222.0L766.4,222.8L768.3,224.7L768.6,225.7L772.5,225.3L778.4,228.0L782.9,228.0L782.9,227.0L785.6,227.0L788.9,231.1L791.3,232.2L792.2,230.8L793.8,230.8L796.9,235.0L800.1,237.9L800.3,236.1L800.6,234.4L802.5,233.0L804.9,231.3L807.4,230.8L809.8,231.3L812.2,232.1L813.5,231.7L812.8,230.0L815.4,229.6L817.8,229.6L819.9,230.9L821.8,230.4L823.4,232.2L824.1,234.4L825.0,236.8L826.3,239.1L827.6,239.1L828.1,236.8L827.5,234.1L826.2,230.8L826.0,229.1L826.7,227.0L828.3,225.5L829.9,223.8L831.6,222.8L833.9,221.4L835.5,220.5L835.0,217.9L834.7,216.9L835.3,215.1L836.3,213.8L836.5,212.8L837.9,210.7L838.1,209.4L841.1,208.4L843.5,207.3L844.3,206.9L843.5,205.8L843.2,204.3L844.3,202.7L846.3,201.4L849.2,200.3L849.2,199.6L847.9,198.2L847.9,194.9L845.6,194.2L844.3,196.6L841.9,199.8L836.8,199.8L833.9,202.1L829.5,203.4L829.9,204.7L824.2,206.5L824.2,204.3L824.7,198.7L822.5,197.3L820.9,196.3L814.8,192.1L812.8,192.8L803.8,190.4L759.1,190.4L759.4,192.1L758.8,192.3Z" fill="#b1dfc1" stroke="#7d886f" stroke-width="0.6" />
<path d="M808.8,195.9L811.4,196.1L814.6,195.2L816.2,196.3L820.2,195.9L820.9,196.3L820.5,195.2L820.2,193.0L817.8,191.1L814.6,191.8L813.0,192.8L811.4,194.0Z" fill="#ffffff" stroke="#7d886f" stroke-width="0.4" />
<path d="M815.7,207.1L817.3,207.1L818.3,205.4L817.8,202.1L819.4,198.7L820.5,198.0L819.4,197.5L817.3,198.0L815.7,200.9L815.6,204.3Z" fill="#ffffff" stroke="#7d886f" stroke-width="0.4" />
<path d="M824.2,204.3L825.0,200.9L826.2,199.3L827.9,200.3L828.3,200.9L826.7,197.5L821.8,197.0L820.7,197.7L822.6,199.1L823.0,201.6L822.0,202.3L822.8,203.2Z" fill="#ffffff" stroke="#7d886f" stroke-width="0.4" />
<path d="M822.6,207.1L825.8,207.5L829.9,205.4L829.7,204.5L827.5,205.1L824.2,206.5L823.1,206.5Z" fill="#ffffff" stroke="#7d886f" stroke-width="0.4" />
<path d="M828.6,203.6L831.5,203.6L834.4,203.2L834.2,201.6L832.3,202.1L829.4,202.7Z" fill="#ffffff" stroke="#7d886f" stroke-width="0.4" />
<path d="M706.2,247.8L707.7,248.7L706.7,250.0L705.9,248.8Z" fill="#c4c4c4" stroke="#a0a0a0" stroke-width="0.7" />
<path d="M704.9,246.4L706.1,246.8L705.2,247.1Z" fill="#c4c4c4" stroke="#a0a0a0" stroke-width="0.7" />
<path d="M702.4,245.4L703.3,245.9L702.7,246.1Z" fill="#c4c4c4" stroke="#a0a0a0" stroke-width="0.7" />
<path d="M699.9,244.4L700.7,244.5L700.3,244.9Z" fill="#c4c4c4" stroke="#a0a0a0" stroke-width="0.7" />
<path d="M768.6,225.7L772.5,225.3L778.4,228.0L782.9,228.0L782.9,227.0L785.6,227.0L788.9,231.1L791.3,232.2L792.2,230.8L793.8,230.8L796.9,235.0L800.1,237.9L799.8,241.2L799.6,244.7L800.4,246.4L801.7,249.0L803.3,250.2L804.9,251.2L808.2,250.6L810.6,250.4L811.4,248.7L811.5,246.4L814.6,245.6L817.0,245.6L817.3,247.3L816.2,249.9L815.4,250.7L814.9,251.9L813.6,251.7L810.7,251.9L809.9,252.9L811.4,254.8L808.6,256.3L808.6,257.4L807.4,255.8L804.9,254.6L801.7,255.4L798.5,254.4L796.1,253.3L793.7,251.9L790.5,251.1L788.1,249.0L787.3,247.3L787.7,245.6L786.9,243.9L785.6,242.5L783.2,239.5L781.1,237.7L779.2,234.4L776.8,232.2L775.5,230.0L775.0,228.1L772.6,227.0L772.3,228.5L773.3,230.4L775.2,232.6L776.5,235.0L777.6,237.1L778.9,239.8L780.8,242.8L780.0,243.2L778.7,241.6L776.8,239.8L776.5,237.7L774.4,236.2L772.8,234.4L773.3,233.2L771.2,230.8L769.6,228.1Z" fill="#cfebbd" stroke="#7d886f" stroke-width="0.6" />
<path d="M808.6,257.4L810.6,258.4L813.0,259.1L815.4,259.6L816.2,260.1L817.8,261.6L819.1,263.0L818.9,264.8L819.9,265.2L821.0,265.7L822.6,267.3L824.2,267.8L825.8,268.1L827.5,269.2L828.3,268.9L827.6,267.8L829.1,266.6L830.7,267.4L831.6,269.4L832.4,267.0L830.7,265.8L829.1,265.5L827.5,266.5L825.8,266.8L824.7,266.5L823.4,264.8L822.3,263.2L822.1,260.7L822.6,258.3L823.1,256.6L821.0,255.1L818.6,254.9L816.2,255.3L815.1,255.4L814.4,255.1L814.9,254.1L815.1,252.4L814.9,251.9L813.6,251.7L810.7,251.9L809.9,252.9L811.4,254.8L808.6,256.3Z" fill="#ececee" stroke="#dcdcdc" stroke-width="0.6" />
<path d="M820.4,244.9L821.8,243.5L825.0,242.6L827.5,242.8L830.7,244.0L833.1,246.4L835.5,247.0L837.6,247.8L837.1,248.3L833.1,248.3L832.0,247.0L829.1,245.4L825.8,244.5L823.8,243.7L821.8,244.9Z" fill="#eeeeee" stroke="#dedede" stroke-width="0.6" />
<path d="M837.1,250.9L839.8,248.3L841.9,248.3L844.3,248.7L846.8,250.6L846.4,251.2L844.3,251.2L841.9,252.2L840.3,251.2L837.3,251.1Z" fill="#eeeeee" stroke="#dedede" stroke-width="0.6" />
<path d="M831.0,250.9L834.2,251.2L833.4,251.7L831.5,251.6Z" fill="#eeeeee" stroke="#dedede" stroke-width="0.6" />
<path d="M848.8,250.7L851.4,250.9L851.3,251.6L848.8,251.6Z" fill="#eeeeee" stroke="#dedede" stroke-width="0.6" />
<path d="M832.4,267.0L834.4,265.8L835.5,264.0L836.6,263.0L838.7,262.7L840.8,261.7L842.1,260.9L842.2,261.9L841.3,263.2L841.9,263.4L844.0,262.2L844.7,262.5L846.8,263.5L850.5,263.9L853.2,264.5L855.6,263.7L857.2,263.7L858.0,265.2L859.1,267.3L861.2,268.1L862.8,269.7L864.9,271.3L867.0,271.5L869.3,271.5L871.7,272.0L873.4,273.6L874.6,274.6L875.7,277.8L876.5,278.3L876.7,279.4L875.7,281.0L878.9,282.3L881.3,282.0L885.3,284.7L889.4,285.5L893.4,285.8L897.1,288.7L899.8,289.4L900.8,292.3L900.6,295.5L898.2,298.0L896.6,300.4L894.3,302.9L894.2,307.1L893.4,310.1L891.8,314.7L891.0,317.3L889.4,319.0L885.3,319.4L882.1,320.8L878.9,324.0L878.6,328.8L876.5,332.5L874.6,335.0L872.5,338.2L870.9,340.2L868.5,341.0L866.0,340.8L863.0,339.2L864.4,342.1L865.2,344.1L864.3,347.6L861.2,348.8L856.7,348.8L856.4,352.3L852.4,353.4L854.0,356.6L852.1,361.3L848.4,364.5L850.8,368.7L846.8,374.6L845.9,379.2L846.8,381.9L847.6,387.3L844.3,387.3L840.3,383.2L837.1,377.9L835.5,369.2L837.1,362.2L838.7,355.5L838.4,350.2L839.2,345.1L841.1,339.2L841.9,335.4L841.9,329.8L843.5,324.3L843.9,319.0L844.2,312.1L841.9,309.6L837.9,307.1L834.7,303.7L832.3,299.6L829.9,294.7L828.3,292.3L826.3,290.7L827.5,289.1L826.3,287.8L827.9,286.5L828.3,285.0L827.0,284.2L827.5,281.8L828.3,279.7L829.9,279.1L830.2,278.3L832.3,275.4L832.6,273.8L832.3,270.5L831.6,269.4Z" fill="#f5f8d4" stroke="#7d886f" stroke-width="0.6" />
<path d="M873.9,274.2L874.6,274.6L875.7,277.8L876.5,278.3L876.7,279.4L875.7,281.0L878.9,282.3L881.3,282.0L885.3,284.7L889.4,285.5L893.4,285.8L897.1,288.7L899.8,289.4L900.8,292.3L900.6,295.5L898.2,298.0L896.6,300.4L894.3,302.9L894.2,307.1L893.4,310.1L891.8,314.7L891.0,317.3L889.4,319.0L885.3,319.4L882.1,320.8L878.9,324.0L878.6,328.8L876.5,332.5L874.6,335.0L872.5,338.2L871.0,338.6L870.9,336.3L868.5,333.5L866.9,332.0L864.3,332.0L866.9,327.9L870.1,326.5L870.4,324.3L869.1,323.4L869.6,320.8L867.7,320.6L867.2,317.8L864.0,317.5L863.6,314.2L863.3,313.5L864.4,310.8L863.0,309.3L860.1,307.6L859.6,303.4L857.4,302.9L854.8,301.3L852.4,300.3L851.7,297.2L849.5,296.8L846.8,298.8L843.4,298.8L843.4,296.3L840.6,296.3L839.2,296.2L837.9,293.1L839.5,289.9L844.3,287.8L845.1,282.9L844.7,280.0L844.3,278.7L848.4,277.8L849.5,279.1L851.6,279.9L854.0,278.1L853.2,275.7L855.6,274.9L857.2,274.2L859.1,273.3L860.4,272.6L860.7,274.1L861.2,276.2L860.7,277.8L862.8,278.9L865.2,278.1L866.9,277.9L869.3,277.3L871.7,277.5L872.5,277.0Z" fill="#cfebbd" stroke="#8a957c" stroke-width="0.6" />
<path d="M860.4,267.3L859.3,268.9L858.3,270.2L858.7,272.1L860.4,272.6L860.7,274.1L861.2,276.2L860.7,277.8L862.8,278.9L865.2,278.1L866.9,277.9L869.3,277.3L870.1,277.5L870.1,275.4L869.4,272.9L870.1,270.5L868.5,270.5L863.6,268.9L861.2,267.6Z" fill="#ececee" stroke="#d6d6d6" stroke-width="0.6" clip-path="url(#sa)"/>
<path d="M841.9,262.4L840.5,265.7L840.6,268.9L844.3,269.7L848.4,271.0L847.9,274.6L848.7,277.8L849.2,279.1" fill="none" stroke="#8a957c" stroke-width="0.6"/>
<path d="M830.2,278.7L833.1,280.2L835.8,281.2L838.7,283.1L841.1,284.7L844.3,287.8" fill="none" stroke="#8a957c" stroke-width="0.6"/>
<path d="M827.8,286.5L829.9,289.1L831.0,286.6L833.1,285.5L835.8,282.4L835.8,281.2" fill="none" stroke="#8a957c" stroke-width="0.6"/>
<path d="M846.4,298.8L845.1,302.9L846.3,305.4L845.5,307.9L845.0,309.6L843.9,311.1" fill="none" stroke="#8a957c" stroke-width="0.6"/>
<path d="M845.0,309.6L846.8,312.1L847.6,315.6L848.4,318.8" fill="none" stroke="#8a957c" stroke-width="0.6"/>
<path d="M856.2,317.6L857.7,313.8L863.3,313.5" fill="none" stroke="#8a957c" stroke-width="0.6"/>
<path d="M848.4,318.8L852.4,317.5L856.2,317.6L858.8,320.4L862.8,326.5" fill="none" stroke="#8a957c" stroke-width="0.6"/>
<path d="M947.9,218.9L946.8,217.3L945.0,216.5L942.6,216.9L942.7,213.4L941.6,213.2L942.4,210.7L942.7,207.5L942.6,205.4L941.9,204.3L944.0,202.7L947.3,202.9L950.5,203.4L953.7,203.4L954.5,203.2L955.0,200.9L955.0,198.0L953.4,194.9L949.7,193.0L949.3,191.6L952.1,190.8L954.3,191.3L954.8,188.6L957.2,189.4L959.3,187.4L959.5,185.4L960.9,185.1L962.4,184.3L963.3,182.8L964.5,180.4L965.7,179.3L968.2,179.1L970.6,178.5L971.1,177.4L970.7,174.7L969.9,170.4L970.6,168.6L973.0,167.1L973.8,168.3L973.3,171.0L974.4,171.0L973.0,173.2L972.5,174.9L973.0,176.1L974.4,177.4L977.0,176.1L979.4,177.7L981.8,176.9L985.0,175.2L986.8,176.3L988.3,176.3L989.9,174.9L991.0,174.1L990.8,171.8L990.7,169.5L991.6,167.4L993.2,166.8L994.7,168.9L996.1,168.0L996.0,165.0L994.7,164.1L994.5,162.2L997.1,161.3L1000.3,161.6L1002.1,161.3L1004.3,160.0L1005.5,159.7L1003.5,159.0L1001.9,158.0L999.5,158.4L996.3,159.7L993.7,160.0L991.3,157.7L991.5,154.4L991.2,150.6L992.3,147.8L994.8,145.9L996.6,142.6L997.7,140.3L996.5,138.7L993.9,139.5L992.6,139.9L991.0,144.1L989.9,146.7L987.5,148.8L986.2,150.6L984.7,154.7L984.6,157.4L986.6,159.3L987.3,161.3L985.5,163.5L983.6,166.2L983.4,169.5L982.6,171.2L980.2,171.8L979.7,173.5L977.6,173.5L977.2,171.5L977.3,169.8L976.0,167.1L974.9,163.1L973.8,161.9L973.5,160.3L973.1,162.8L972.2,162.8L969.8,165.6L968.2,165.9L965.9,163.5L965.4,161.3L964.9,158.7L965.1,156.4L964.8,153.7L965.7,152.0L968.2,150.3L970.2,148.1L972.7,146.3L974.3,144.1L976.2,140.3L977.5,136.3L978.6,132.2L980.2,130.1L981.8,127.9L983.4,125.7L985.8,123.0L989.1,121.1L992.3,119.7L995.5,117.3L998.4,115.8L1001.9,116.3L1005.1,118.7L1006.9,120.2L1006.4,122.0L1007.5,122.3L1008.4,122.1L1009.2,122.0L1009.6,123.2L1010.3,123.9L1010.8,124.4L1011.5,124.3L1012.9,124.4L1014.0,124.5L1014.8,125.3L1016.2,125.3L1016.9,126.3L1017.5,126.7L1018.2,127.8L1018.8,128.4L1020.1,129.1L1021.4,129.7L1022.0,130.9L1022.1,132.1L1022.2,132.8L1023.0,133.5L1023.1,135.1L1022.2,136.3L1021.2,137.5L1020.3,138.0L1019.0,137.6L1018.1,137.9L1017.4,137.8L1016.4,137.5L1015.4,136.4L1014.4,135.9L1012.9,135.9L1011.6,135.9L1010.4,136.3L1010.1,135.4L1009.6,133.9L1010.0,135.3L1010.8,135.9L1010.8,136.7L1010.8,137.5L1011.5,138.4L1011.8,139.0L1012.4,139.4L1012.7,140.7L1012.4,141.7L1012.1,142.6L1012.4,143.5L1012.9,144.1L1013.9,145.0L1014.7,145.6L1015.6,145.9L1016.1,145.1L1017.4,144.5L1017.9,143.9L1018.0,143.0L1019.4,143.6L1020.3,143.5L1021.2,144.1L1021.8,143.7L1022.3,142.6L1021.4,141.3L1020.9,140.3L1021.9,139.8L1022.1,139.1L1022.8,137.9L1024.1,137.6L1024.8,136.3L1025.9,136.9L1026.6,137.2L1027.7,137.5L1027.2,136.4L1027.4,135.6L1027.9,134.9L1028.0,133.5L1027.4,132.7L1027.0,131.5L1027.5,130.0L1027.0,128.8L1027.2,127.5L1028.5,127.4L1029.7,128.1L1030.5,127.9L1030.5,128.8L1031.2,129.7L1031.7,130.9L1032.3,130.9L1033.3,131.5L1034.3,131.6L1034.9,131.4L1035.6,131.1L1036.4,130.7L1037.3,130.1L1037.7,128.8L1038.6,128.4L1039.8,128.1L1040.4,127.3L1041.3,127.0L1042.3,126.7L1042.9,126.2L1043.5,126.9L1044.4,127.1L1045.3,128.4L1046.1,127.6L1046.7,127.6L1047.8,127.5L1048.3,127.9L1049.4,127.9L1050.3,127.7L1051.2,127.7L1052.6,128.4L1052.3,127.0L1052.7,126.1L1052.9,125.0L1053.4,124.0L1053.3,123.2L1054.2,122.7L1054.7,122.0L1055.6,122.0L1056.3,122.2L1057.4,122.0L1057.8,122.6L1058.5,123.2L1059.6,123.3L1060.6,124.4L1061.7,124.6L1062.3,124.9L1063.0,125.6L1063.8,126.2L1065.0,126.8L1066.0,127.4L1066.6,128.8L1067.2,128.3L1067.8,127.5L1067.9,126.2L1067.6,125.5L1066.7,124.7L1065.8,124.0L1065.4,123.4L1065.2,122.4L1065.7,121.9L1066.0,120.9L1065.1,120.3L1065.0,119.4L1064.3,118.3L1064.3,117.0L1064.6,115.8L1064.5,114.8L1065.0,113.8L1065.4,113.0L1065.6,111.8L1066.0,110.8L1066.7,110.0L1067.0,108.6L1067.8,107.3L1068.5,106.7L1068.7,105.9L1069.9,106.1L1070.8,106.4L1071.9,106.4L1072.1,107.7L1072.8,108.7L1074.0,109.7L1073.3,110.3L1073.1,111.6L1072.9,112.4L1072.8,113.3L1073.2,114.5L1072.8,115.2L1073.6,116.3L1074.0,117.5L1073.6,118.9L1073.3,119.7L1073.7,120.7L1073.1,121.5L1072.7,122.0L1072.7,122.8L1072.9,123.7L1072.5,124.9L1073.8,125.8L1074.4,126.6L1074.5,127.5L1075.2,128.4L1074.7,129.8L1074.6,130.8L1074.6,132.2L1074.2,133.4L1074.0,134.1L1073.2,135.1L1072.7,136.3L1073.6,135.5L1075.1,135.1L1075.7,134.6L1075.8,133.6L1076.5,133.3L1077.2,132.2L1077.4,131.3L1077.6,130.7L1077.7,129.5L1077.4,128.7L1077.5,127.9L1077.2,127.4L1077.0,126.3L1076.9,124.7L1076.3,124.3L1075.9,123.4L1075.6,121.9L1076.3,120.6L1075.9,119.9L1075.6,118.7L1076.1,117.8L1076.0,117.2L1075.6,116.1L1076.1,115.3L1076.5,114.8L1076.7,113.8L1076.9,112.8L1078.0,111.9L1078.3,110.9L1078.3,110.2L1079.3,109.9L1080.0,109.9L1081.5,109.7L1082.2,109.3L1083.1,109.1L1083.4,108.4L1083.8,107.3L1084.8,106.6L1084.6,105.6L1085.2,104.5L1085.6,104.0L1086.3,103.1L1087.7,102.9L1088.8,102.5L1089.8,102.1L1090.4,101.9L1091.4,102.4L1092.8,102.5L1093.6,102.4L1094.6,101.6L1096.0,100.8L1095.7,99.7L1095.3,98.4L1095.6,97.4L1095.7,96.6L1096.8,95.4L1097.7,95.1L1098.5,95.2L1099.3,94.4L1100.5,93.9L1101.2,92.8L1101.4,91.6L1101.6,91.0L1102.5,90.5L1103.5,89.6L1104.4,89.9L1105.2,89.8L1105.6,88.5L1106.4,87.8L1107.6,87.4L1108.3,87.2L1109.5,87.4L1110.6,87.4L1111.3,87.1L1112.3,86.4L1113.0,86.1L1114.1,85.6L1115.3,85.2L1116.1,85.1L1116.4,84.2L1116.7,83.1L1117.7,82.7L1118.2,82.0L1119.3,81.6L1119.9,80.5L1120.7,80.0L1121.4,79.4L1122.3,78.7L1122.7,78.0L1123.0,77.3L1123.5,76.6L1124.6,75.7L1125.5,76.3L1126.3,77.0L1126.4,77.7L1127.3,78.7L1127.5,79.8L1127.5,80.4L1128.0,81.6L1129.2,82.2L1129.8,83.7L1130.5,83.8L1131.3,84.4L1132.3,84.3L1132.9,83.9L1134.1,83.3L1135.4,83.7L1135.6,84.4L1136.0,85.2L1136.2,86.0L1136.5,86.7L1137.4,87.4L1138.0,88.4L1139.4,89.1L1139.3,90.1L1139.1,91.0L1138.5,91.6L1139.0,92.6L1139.1,93.3L1138.4,94.7L1137.6,95.5L1138.0,96.5L1138.6,97.3L1138.4,98.5L1138.4,99.3L1138.6,100.2L1138.4,101.0L1137.4,101.7L1136.3,102.2L1135.4,102.5L1136.3,102.8L1136.8,103.6L1138.3,103.7L1139.4,103.7L1140.6,103.2L1141.4,103.1L1142.5,102.9L1143.4,102.5L1144.8,103.2L1145.8,103.5L1147.0,104.4L1148.3,105.3L1149.1,105.8L1150.0,105.9L1150.9,106.3L1151.6,106.3L1152.9,106.2L1153.6,106.3L1154.7,105.9L1155.9,105.9L1156.5,106.2L1157.1,107.0L1157.7,107.5L1158.1,108.5L1159.5,109.1L1160.5,108.4L1161.1,107.1L1162.2,107.0L1163.5,106.4L1164.2,107.1L1164.6,108.5L1164.8,109.3L1165.2,110.1L1166.4,111.1L1166.2,112.0L1166.7,113.0L1166.4,113.5L1165.9,114.4L1165.7,115.6L1165.9,116.3L1166.4,114.8L1167.2,114.3L1168.6,113.9L1169.2,113.3L1170.4,113.1L1171.5,113.4L1172.3,113.4L1173.5,113.6L1174.8,113.3L1175.6,113.0L1176.9,113.0L1177.7,113.2L1178.9,113.8L1180.4,113.8L1180.7,112.8L1181.4,111.9L1181.9,111.3L1182.2,110.5L1182.1,109.5L1182.0,108.6L1183.0,108.4L1184.5,108.0L1185.5,107.9L1186.8,108.1L1188.2,108.6L1189.2,109.8L1190.6,109.3L1191.6,109.1L1192.3,109.3L1193.3,109.7L1194.1,110.0L1194.8,110.8L1196.0,111.5L1196.9,112.7L1198.1,113.3L1199.0,114.6L1200.2,114.7L1200.8,115.2L1201.8,116.3L1202.9,116.8L1204.4,116.9L1205.2,117.2L1206.5,118.0L1208.0,118.0L1208.5,117.4L1209.4,116.8L1210.4,118.0L1211.4,118.5L1212.3,118.7L1212.6,119.8L1213.1,120.4L1214.2,121.1L1215.3,121.6L1216.2,122.0L1217.4,122.5L1218.9,122.9L1219.6,122.6L1220.5,122.8L1221.3,122.4L1222.2,122.5L1223.6,121.7L1224.8,122.2L1226.2,122.0L1227.8,121.9L1228.7,121.6L1229.4,121.4L1230.3,121.1L1230.5,122.4L1231.3,123.6L1231.7,124.4L1231.9,125.7L1232.5,124.9L1233.2,124.4L1234.2,124.1L1235.0,123.1L1235.1,122.0L1236.3,121.9L1237.0,121.9L1237.6,122.4L1238.5,122.6L1239.9,122.5L1241.1,122.8L1242.0,123.1L1243.1,123.9L1244.2,123.9L1244.9,124.2L1245.6,125.3L1246.3,126.2L1247.5,127.2L1247.9,128.5L1249.0,128.6L1249.6,129.2L1250.3,129.7L1251.2,129.8L1252.1,131.0L1252.9,131.5L1253.9,132.5L1254.4,133.5L1255.4,134.2L1256.7,134.2L1257.8,135.0L1258.6,134.9L1259.2,135.9L1260.3,136.6L1260.8,137.4L1261.8,138.3L1262.9,138.3L1262.1,138.4L1260.8,139.1L1260.0,140.3L1259.3,140.8L1258.2,141.8L1257.7,142.6L1257.6,144.1L1256.8,144.8L1255.8,144.9L1254.6,144.4L1254.1,143.6L1253.6,143.0L1252.3,142.7L1251.1,143.4L1250.4,143.7L1249.6,143.1L1249.0,142.5L1248.6,141.7L1247.9,141.1L1247.5,142.0L1246.9,142.6L1245.8,142.8L1245.4,143.3L1244.7,144.1L1244.1,144.7L1243.1,145.2L1242.9,146.3L1243.1,146.9L1242.7,148.0L1242.9,149.4L1242.8,150.3L1242.3,151.3L1241.0,151.4L1239.8,152.1L1239.0,152.7L1238.3,153.0L1237.1,153.6L1236.2,154.5L1235.3,155.3L1235.1,156.4L1233.8,157.1L1233.1,157.5L1232.8,158.6L1232.2,159.2L1231.1,159.7L1229.6,159.8L1228.3,159.4L1227.5,159.0L1226.2,159.0L1225.4,159.4L1224.0,159.5L1223.0,160.2L1222.2,160.3L1220.9,160.6L1219.8,161.3L1219.3,162.7L1219.5,163.6L1219.5,164.6L1219.3,165.9L1218.4,166.1L1217.4,166.5L1218.2,167.8L1218.7,168.8L1219.0,169.5L1219.0,171.0L1218.5,172.2L1217.4,173.2L1216.9,174.1L1216.7,174.7L1217.1,176.1L1216.6,176.5L1215.8,177.1L1215.3,178.5L1214.9,179.3L1214.2,180.1L1213.2,180.9L1211.8,180.9L1211.0,182.0L1210.2,182.2L1209.4,182.9L1208.9,183.8L1208.9,185.4L1208.5,184.3L1208.2,183.4L1207.7,182.8L1208.2,181.6L1208.4,180.8L1208.9,179.6L1208.3,178.5L1207.9,177.7L1207.2,176.7L1207.1,175.9L1206.9,174.7L1207.5,173.4L1207.1,171.8L1207.4,170.8L1207.4,169.5L1208.2,168.3L1208.4,167.4L1209.4,166.5L1210.0,165.9L1210.5,165.1L1211.6,165.0L1212.6,164.4L1213.1,163.5L1212.9,162.7L1213.4,161.5L1214.4,160.3L1215.8,159.7L1216.2,158.4L1217.0,158.0L1217.6,157.4L1218.8,156.8L1219.2,156.0L1219.8,154.7L1220.2,154.2L1220.4,153.2L1220.3,152.1L1220.6,151.3L1220.1,152.2L1219.6,152.7L1218.6,153.1L1218.2,153.7L1217.3,153.4L1216.3,153.9L1215.0,153.7L1214.5,154.3L1214.2,155.2L1213.4,155.7L1212.0,155.0L1211.5,155.3L1210.5,155.4L1209.6,154.5L1208.6,154.4L1207.8,155.8L1206.9,156.1L1206.2,156.9L1206.1,157.9L1206.1,159.4L1205.7,160.4L1205.4,161.4L1204.5,162.2L1203.2,161.9L1202.0,162.4L1200.5,162.5L1199.1,162.6L1198.1,162.5L1197.2,161.6L1196.5,161.6L1195.3,161.9L1194.6,162.1L1193.7,161.8L1192.8,161.9L1192.0,162.2L1190.9,161.6L1189.4,161.8L1188.6,161.7L1187.9,161.7L1186.8,161.9L1185.4,162.4L1184.7,163.4L1184.4,164.1L1183.9,165.0L1183.2,165.8L1182.0,166.5L1181.1,167.3L1180.4,168.3L1179.5,168.9L1178.7,169.1L1178.0,170.1L1177.0,171.1L1176.3,171.8L1176.2,172.6L1175.7,174.1L1174.8,175.2L1175.7,175.4L1176.4,175.7L1177.2,176.9L1178.1,176.4L1179.0,176.4L1180.4,176.9L1181.5,177.6L1182.4,178.8L1182.8,179.6L1183.2,181.1L1184.3,182.2L1184.0,183.2L1183.7,183.8L1183.9,185.2L1183.3,185.8L1183.0,186.6L1182.7,187.6L1182.9,188.4L1182.6,189.4L1182.7,190.8L1182.3,191.7L1182.2,192.6L1180.9,193.1L1180.4,194.2L1179.7,195.5L1179.5,196.6L1178.8,197.5L1178.8,198.8L1178.2,199.4L1177.8,200.0L1177.0,200.1L1176.4,200.9L1175.5,201.8L1175.4,202.5L1174.6,202.7L1174.0,203.4L1172.8,204.1L1171.7,204.0L1170.8,204.7L1169.9,204.4L1168.8,203.8L1167.9,204.2L1167.1,205.4L1165.5,207.5L1165.1,209.0L1163.5,210.7L1161.9,211.8L1163.2,213.8L1164.7,216.3L1165.0,218.9L1164.5,220.5L1161.9,221.6L1160.2,221.8L1160.3,219.9L1160.5,217.3L1159.8,215.5L1158.2,215.3L1158.4,213.6L1157.6,211.8L1156.8,210.9L1154.7,211.5L1152.3,212.8L1152.8,210.3L1153.6,209.4L1151.5,209.0L1149.9,210.3L1148.3,212.4L1146.6,212.4L1146.0,213.6L1147.4,214.9L1148.3,216.3L1150.7,215.3L1153.9,216.1L1153.4,217.3L1151.0,218.7L1148.7,220.9L1150.3,222.2L1151.3,225.5L1152.9,227.2L1152.9,228.7L1151.8,229.8L1153.2,230.6L1152.3,233.0L1150.8,235.0L1149.4,237.7L1148.7,238.7L1147.4,240.2L1145.5,241.8L1143.9,243.2L1141.8,243.5L1139.7,243.9L1138.6,244.7L1136.2,245.6L1134.4,246.1L1134.1,247.7L1133.3,245.6L1131.4,245.4L1129.8,246.4L1128.3,247.7L1127.0,249.9L1128.2,251.6L1129.3,254.1L1131.0,255.8L1132.2,258.3L1132.7,260.7L1132.0,262.7L1129.8,264.0L1128.3,265.5L1126.1,267.1L1125.4,265.5L1125.7,264.2L1124.8,264.2L1123.3,263.9L1121.7,261.6L1120.1,260.4L1119.1,259.1L1117.7,259.3L1117.5,261.2L1116.4,264.3L1117.4,266.1L1118.2,267.6L1118.7,269.4L1120.1,270.0L1121.2,271.0L1122.8,272.5L1123.2,274.6L1123.3,276.5L1124.5,278.7L1123.3,278.9L1121.7,277.8L1119.8,276.3L1118.7,274.2L1118.2,272.1L1118.0,270.5L1117.1,269.4L1115.4,267.9L1115.0,266.5L1115.4,264.0L1115.3,261.6L1114.8,259.1L1113.8,255.8L1113.0,253.4L1111.3,253.9L1110.0,255.3L1108.5,254.9L1108.9,252.4L1108.1,249.9L1106.4,248.5L1105.3,247.0L1104.8,245.6L1104.5,244.0L1102.6,244.2L1100.8,244.9L1099.2,245.2L1096.8,245.9L1096.0,247.7L1093.6,249.2L1092.0,251.1L1089.2,253.3L1087.6,254.4L1085.9,256.1L1085.7,259.1L1085.2,262.4L1084.4,264.3L1083.8,266.1L1082.6,266.6L1081.5,267.9L1079.9,266.5L1078.8,263.2L1077.2,260.2L1076.1,256.9L1074.9,254.1L1074.0,249.9L1074.0,247.3L1073.6,245.8L1073.0,244.4L1070.7,246.8L1067.9,244.0L1069.9,243.2L1067.5,241.9L1065.4,241.4L1064.0,238.7L1060.6,239.1L1056.0,239.1L1051.8,238.7L1049.0,238.0L1047.9,235.7L1045.0,236.8L1042.1,235.9L1039.6,234.3L1037.6,230.4L1035.5,229.6L1034.1,230.4L1033.9,232.2L1035.0,234.1L1036.5,235.9L1037.6,237.1L1038.6,239.8L1039.9,238.9L1039.4,240.7L1042.1,241.1L1044.5,240.7L1046.3,238.6L1047.4,237.3L1047.6,240.3L1049.4,241.9L1051.5,242.1L1053.1,244.0L1051.8,246.4L1050.6,247.5L1049.7,249.9L1048.2,250.6L1045.8,252.4L1042.1,253.8L1040.5,255.3L1037.3,256.6L1034.9,258.3L1031.7,259.3L1029.3,260.2L1026.8,260.4L1026.4,258.6L1025.6,255.8L1025.2,253.6L1023.6,250.7L1022.0,248.2L1019.9,245.6L1019.3,243.0L1017.2,240.3L1015.6,237.7L1014.0,234.4L1012.9,231.7L1013.0,231.3L1011.9,228.0L1012.5,226.6L1013.2,224.7L1014.0,222.8L1014.6,220.5L1015.1,217.7L1014.0,217.7L1012.5,217.3L1010.0,218.7L1008.4,217.9L1006.1,217.5L1004.3,218.5L1001.9,217.3L1000.8,216.5L999.5,213.8L1000.0,212.2L999.0,211.1L999.5,210.1L998.7,209.4L997.1,208.8L995.2,209.2L993.6,209.7L994.7,211.8L993.6,213.2L995.5,214.4L993.9,215.9L993.6,217.9L992.3,217.3L991.6,216.3L990.8,214.2L990.2,212.6L989.1,211.3L988.1,209.9L988.3,206.9L986.6,205.4L985.0,204.3L982.6,203.2L981.3,201.4L980.2,199.3L978.9,199.6L978.8,198.0L976.7,199.1L976.8,201.6L978.8,203.2L980.2,206.0L982.6,207.7L985.0,209.4L986.6,210.5L984.2,212.8L983.6,214.0L982.1,214.9L982.1,212.2L981.0,210.3L979.1,208.4L976.2,206.7L974.6,205.1L973.3,202.3L971.1,201.2L969.0,202.5L967.4,204.0L964.1,203.2L961.9,204.0L962.0,206.5L960.1,208.2L958.2,208.6L956.9,210.7L956.4,212.2L957.2,213.4L955.8,215.7L953.5,217.5L949.8,217.5Z" fill="#f5f8d4" stroke="none"/>
<g clip-path="url(#eura)">
<path d="M1035.7,196.1L1034.1,194.0L1032.5,191.6L1031.7,190.4L1033.3,186.6L1034.9,186.6L1037.3,184.1L1041.3,184.1L1045.3,185.9L1048.6,185.4L1051.8,186.4L1055.0,185.4L1055.8,182.8L1055.0,178.8L1059.8,177.4L1063.0,175.2L1067.9,173.8L1071.1,175.2L1075.1,177.4L1075.9,178.8L1079.9,176.9L1081.5,179.1L1085.5,184.6L1088.0,185.9L1090.4,185.4L1093.6,188.4L1096.3,188.4L1097.3,190.1L1094.7,191.6L1094.4,195.2L1090.4,194.7L1089.2,197.5L1089.6,199.1L1086.3,200.3L1086.8,203.8L1085.5,204.3L1085.9,206.0L1082.3,208.6L1079.9,209.9L1077.5,209.7L1075.6,211.8L1077.3,213.8L1077.2,216.3L1075.1,216.1L1071.9,217.3L1069.5,215.9L1066.7,216.7L1065.4,216.3L1063.8,216.1L1061.4,213.8L1059.0,211.8L1056.6,209.7L1055.0,208.2L1053.4,206.5L1051.0,205.4L1048.6,208.0L1046.9,208.0L1044.5,205.8L1041.8,206.9L1041.3,205.1L1039.7,201.6L1039.4,199.3L1042.4,199.1L1042.1,196.1L1039.7,194.9Z" fill="#e6e6ea" stroke="#8a957c" stroke-width="0.6" />
<path d="M1098.1,189.9L1099.2,189.1L1101.6,187.9L1104.8,186.1L1108.9,187.9L1112.9,188.4L1114.5,185.4L1117.7,183.6L1120.9,184.6L1123.3,187.1L1127.3,187.1L1130.6,189.1L1133.8,189.9L1137.0,189.1L1140.2,187.4L1144.2,188.4L1143.4,191.6L1145.8,193.3L1149.4,195.2L1147.4,195.9L1144.2,196.8L1140.2,198.9L1137.0,199.8L1135.4,201.4L1133.8,204.9L1129.8,205.6L1125.7,207.3L1119.3,205.1L1112.1,204.9L1110.1,201.6L1107.2,199.8L1103.2,198.7L1102.7,196.3L1103.2,194.0L1099.2,192.3Z" fill="#e6e6ea" stroke="#8a957c" stroke-width="0.6" />
<path d="M974.9,163.1L975.9,160.0L977.0,158.0L976.5,154.7L976.7,152.0L976.2,147.8L979.1,144.1L980.2,140.3L981.8,137.1L983.4,132.2L985.8,127.9L989.1,127.5L990.0,125.3L991.5,124.4L993.1,127.0L995.5,127.5L998.4,125.7L1000.3,121.6L1001.8,120.9L1003.4,125.5L1006.4,122.0L1007.6,116.3L997.1,111.2L981.0,118.7L973.0,138.3L961.7,156.4L963.3,165.9L969.8,167.4L973.8,164.4Z" fill="#ececee" stroke="#8a957c" stroke-width="0.6" />
<path d="M978.8,198.7L981.8,197.5L983.4,196.3L985.0,197.7L987.5,197.5L989.5,197.3L991.5,199.8L993.1,201.6L992.9,204.3L992.9,205.8L993.9,207.7L993.1,208.4L990.7,209.0L989.1,211.3L987.8,210.1L987.8,206.9L986.3,205.1L983.4,203.6L980.7,200.7L978.8,199.8Z" fill="#e6e6ea" stroke="#8a957c" stroke-width="0.6" />
<path d="M1046.8,208.0L1048.6,208.0L1051.0,205.4L1053.4,206.5L1055.0,208.2L1056.6,209.7L1059.0,211.8L1061.4,213.8L1063.8,216.1" fill="none" stroke="#d4d4d8" stroke-width="0.5"/>
<path d="M1046.9,208.0L1046.9,199.8L1051.0,198.4L1055.0,201.2L1056.6,203.2L1060.6,202.7L1063.0,204.5L1063.8,206.5L1067.0,209.0L1067.9,207.7L1070.3,206.5L1071.1,205.8L1075.1,204.3L1077.5,204.7L1080.7,204.3L1083.9,204.7L1085.9,206.0" fill="none" stroke="#d4d4d8" stroke-width="0.5"/>
<path d="M1071.1,205.8L1071.9,208.6L1070.3,209.7L1068.7,210.7L1067.0,211.8L1069.5,211.8L1075.6,211.8" fill="none" stroke="#d4d4d8" stroke-width="0.5"/>
<path d="M1006.4,122.0L1006.7,105.9L1053.4,35.9L1133.8,35.9L1246.3,73.4L1278.5,121.1L1278.5,174.7L1222.2,192.8L1198.1,202.1L1175.6,210.7L1168.4,206.5L1167.1,205.4L1167.9,203.2L1167.5,199.8L1170.8,198.7L1172.7,195.2L1173.5,192.1L1170.0,193.3L1166.7,190.8L1163.5,189.1L1161.1,185.9L1158.7,180.1L1155.5,178.8L1151.1,179.3L1149.9,183.3L1148.3,187.1L1146.3,189.1L1144.2,188.4L1140.2,187.4L1137.0,189.1L1133.8,189.9L1130.6,189.1L1127.3,187.1L1123.3,187.1L1120.9,184.6L1117.7,183.6L1114.5,185.4L1112.9,188.4L1108.9,187.9L1104.8,186.1L1101.6,187.9L1099.2,189.1L1097.3,190.1L1096.3,188.4L1093.6,188.4L1090.4,185.4L1088.0,185.9L1085.5,184.6L1081.5,179.1L1079.9,176.9L1075.9,178.8L1075.1,177.4L1071.1,175.2L1067.9,173.8L1063.0,175.2L1059.8,177.4L1055.0,178.8L1055.8,182.8L1055.0,185.4L1051.8,186.4L1048.6,185.4L1045.3,185.9L1041.3,184.1L1037.3,184.1L1034.9,186.6L1033.3,186.6L1031.7,190.4L1032.5,191.6L1034.1,194.0L1035.7,196.1L1033.3,198.7L1033.0,200.3L1033.3,204.3L1035.0,206.9L1034.1,206.9L1031.7,206.7L1030.9,206.5L1028.5,204.9L1026.0,204.3L1023.6,203.6L1021.2,203.4L1019.1,201.4L1017.2,200.3L1018.3,195.2L1018.8,194.5L1020.7,192.8L1021.2,189.1L1018.8,188.4L1017.2,187.4L1014.0,186.6L1012.4,184.1L1010.8,182.0L1007.6,181.2L1009.2,179.6L1008.0,178.0L1006.7,176.1L1005.1,172.4L1002.2,171.2L1001.9,168.9L1001.1,166.5L1001.6,164.4L1002.1,161.3L1005.9,160.3L1001.9,158.0L1004.3,155.7L1007.6,150.3L1005.9,148.5L1004.5,145.9L1005.1,142.2L1004.3,138.3L1005.1,135.1L1004.3,132.2L1002.7,127.9L1003.4,125.5Z" fill="#cfebbd" stroke="#8a957c" stroke-width="0.6" />
<path d="M988.4,176.3L993.6,176.3L993.6,174.7L991.0,173.8L989.1,174.7Z" fill="#cfebbd" stroke="#8a957c" stroke-width="0.6" />
<path d="M1156.8,210.9L1159.5,208.0L1162.7,206.5L1165.1,205.6L1166.9,205.6L1167.9,203.2L1167.5,199.8L1170.8,198.7L1172.7,195.2L1173.5,192.1L1170.0,193.3L1166.7,190.8L1163.5,189.1L1161.1,185.9L1158.7,180.1L1155.5,178.8L1151.1,179.3L1149.9,183.3L1148.3,187.1L1146.3,189.1L1144.2,188.4L1143.4,191.6L1145.8,193.3L1149.4,195.2L1147.4,195.9L1144.2,196.8L1140.2,198.9L1137.0,199.8L1135.4,201.4L1133.8,204.9L1129.8,205.6L1125.7,207.3L1119.3,205.1L1112.1,204.9L1110.1,201.6L1107.2,199.8L1103.2,198.7L1102.7,196.3L1103.2,194.0L1099.2,192.3L1098.1,189.9L1097.3,190.1L1094.7,191.6L1094.4,195.2L1090.4,194.7L1089.2,197.5L1089.6,199.1L1086.3,200.3L1086.8,203.8L1085.5,204.3L1085.9,206.0L1082.3,208.6L1079.9,209.9L1077.5,209.7L1075.6,211.8L1077.3,213.8L1077.2,216.3L1078.3,217.3L1079.1,218.9L1082.0,219.9L1083.1,221.8L1084.7,224.7L1083.6,226.6L1083.9,228.5L1086.3,229.5L1087.1,230.0L1089.6,230.8L1092.0,232.2L1095.2,234.1L1098.4,234.3L1100.0,234.1L1102.4,233.7L1104.8,234.4L1107.2,233.2L1110.5,231.7L1112.9,233.5L1114.5,235.0L1115.3,238.6L1114.0,241.2L1115.8,241.2L1116.9,244.4L1118.5,245.6L1120.1,244.2L1120.9,243.9L1123.3,243.5L1125.7,242.6L1128.5,243.3L1130.6,245.4L1131.4,245.4L1130.6,251.6L1135.4,256.6L1146.6,248.2L1156.3,235.9L1157.9,224.7L1156.3,216.9L1155.5,212.8Z" fill="#7ccbc6" stroke="#8a957c" stroke-width="0.6" />
<path d="M1066.6,241.8L1068.7,240.7L1071.1,240.5L1070.3,238.2L1069.5,235.9L1071.9,234.3L1073.5,232.2L1074.9,230.6L1076.7,228.5L1076.9,225.7L1075.9,223.8L1075.1,221.8L1076.7,220.9L1078.8,219.3L1082.0,219.9L1083.1,221.8L1084.7,224.7L1083.6,226.6L1083.9,228.5L1086.3,229.5L1087.1,230.0L1085.5,232.6L1088.0,234.1L1091.2,235.3L1093.6,236.2L1096.0,236.8L1098.6,237.0L1098.6,235.0L1099.7,234.1L1099.9,235.5L1101.3,236.2L1104.8,236.1L1104.8,234.4L1107.2,233.2L1110.5,231.7L1112.9,233.5L1112.1,235.3L1110.5,236.6L1108.9,238.6L1108.1,241.2L1107.1,243.0L1105.6,244.7L1105.3,241.8L1104.0,241.1L1105.2,239.8L1101.6,239.1L1101.3,237.3L1099.2,237.1L1098.6,238.6L1099.7,240.9L1099.5,243.2L1100.0,245.1L1100.0,246.4L1093.6,256.6L1087.1,266.5L1082.6,268.9L1079.1,268.9L1072.7,259.9L1071.9,248.2L1066.2,243.0Z" fill="#5ec1cd" stroke="#8a957c" stroke-width="0.6" />
<path d="M1085.5,232.6L1087.1,230.0L1089.6,230.8L1092.0,232.2L1095.2,234.1L1098.4,234.3L1098.6,235.0L1098.6,237.0L1096.0,236.8L1093.6,236.2L1091.2,235.3L1088.0,234.1Z" fill="#fafaf6" stroke="#8a957c" stroke-width="0.6" />
<path d="M1100.0,245.1L1099.5,243.2L1099.7,240.9L1098.6,238.6L1099.2,237.1L1101.3,237.3L1101.6,239.1L1105.2,239.8L1104.0,241.1L1105.3,241.8L1105.8,245.6L1105.3,247.0L1104.5,244.0L1102.6,244.2L1100.8,244.9Z" fill="#fafaf6" stroke="#8a957c" stroke-width="0.6" />
<path d="M1014.6,219.1L1015.8,217.3L1018.0,217.3L1021.2,216.9L1024.9,216.7L1023.3,217.7L1022.8,222.0L1019.3,224.0L1014.8,225.7L1014.5,224.2L1015.8,222.4L1014.6,221.6Z" fill="#f6eff2" stroke="#8a957c" stroke-width="0.6" />
<path d="M1011.9,228.0L1013.0,231.3L1014.0,228.5L1014.1,225.3L1013.3,224.5L1012.5,226.6Z" fill="#d3d9e2" stroke="#8a957c" stroke-width="0.6" />
<path d="M962.4,184.3L963.3,182.8L964.5,180.4L965.7,179.3L968.2,179.1L968.2,182.0L966.5,183.3L966.5,185.9L966.2,184.8L964.1,184.1Z" fill="#c5cdd8" stroke="#8a957c" stroke-width="0.6" />
<path d="M945.0,216.5L944.8,213.8L945.6,212.8L945.6,210.7L945.8,208.6L946.4,207.1L943.7,206.5L942.6,206.7" fill="none" stroke="#8a957c" stroke-width="0.6"/>
<path d="M954.0,203.4L956.9,204.9L959.3,205.4L962.0,205.6" fill="none" stroke="#8a957c" stroke-width="0.6"/>
<path d="M960.9,185.1L962.5,186.6L964.1,187.9L966.2,189.1L967.2,189.1L970.1,190.4L969.1,193.7L966.5,196.6L967.8,197.5L968.2,199.8L969.0,202.5" fill="none" stroke="#8a957c" stroke-width="0.6"/>
<path d="M962.4,184.3L964.1,184.1L966.2,184.8L966.5,185.9L967.2,189.1" fill="none" stroke="#8a957c" stroke-width="0.6"/>
<path d="M968.2,179.1L968.2,182.0L966.5,183.3L966.5,185.9" fill="none" stroke="#8a957c" stroke-width="0.6"/>
<path d="M970.7,174.9L972.8,175.2" fill="none" stroke="#8a957c" stroke-width="0.6"/>
<path d="M979.7,177.7L980.1,180.1L980.4,182.0L981.0,185.1" fill="none" stroke="#8a957c" stroke-width="0.6"/>
<path d="M976.4,187.1L978.6,186.1L981.0,185.4" fill="none" stroke="#8a957c" stroke-width="0.6"/>
<path d="M972.3,194.0L973.8,194.0L976.2,193.7L977.8,194.0L979.1,191.1L977.0,189.1L976.4,187.1" fill="none" stroke="#8a957c" stroke-width="0.6"/>
<path d="M969.1,193.7L972.3,194.0" fill="none" stroke="#8a957c" stroke-width="0.6"/>
<path d="M967.8,197.5L970.6,196.3L973.6,196.3L973.8,195.2L972.3,194.0" fill="none" stroke="#8a957c" stroke-width="0.6"/>
<path d="M973.8,195.4L976.5,195.2L978.9,196.3" fill="none" stroke="#8a957c" stroke-width="0.6"/>
<path d="M979.1,191.1L981.0,190.4L984.1,191.3" fill="none" stroke="#8a957c" stroke-width="0.6"/>
<path d="M978.9,196.3L982.6,195.9L983.4,194.0L984.4,192.8L984.1,191.3" fill="none" stroke="#8a957c" stroke-width="0.6"/>
<path d="M981.0,185.4L983.4,186.9L985.8,187.9L987.1,189.1" fill="none" stroke="#8a957c" stroke-width="0.6"/>
<path d="M984.1,191.3L985.0,190.8L987.1,189.1" fill="none" stroke="#8a957c" stroke-width="0.6"/>
<path d="M987.1,189.1L989.9,189.4L993.1,190.1" fill="none" stroke="#8a957c" stroke-width="0.6"/>
<path d="M984.4,192.8L987.1,193.3L989.9,191.6L992.6,191.8" fill="none" stroke="#8a957c" stroke-width="0.6"/>
<path d="M992.6,191.8L993.1,190.1" fill="none" stroke="#8a957c" stroke-width="0.6"/>
<path d="M993.1,190.1L995.5,186.6L994.8,184.1" fill="none" stroke="#8a957c" stroke-width="0.6"/>
<path d="M994.8,184.1L994.7,181.5L995.3,177.7L994.7,177.4L993.6,176.3" fill="none" stroke="#8a957c" stroke-width="0.6"/>
<path d="M990.8,171.8L993.1,170.7L996.3,171.0L999.7,172.7" fill="none" stroke="#8a957c" stroke-width="0.6"/>
<path d="M994.7,177.4L997.1,176.9L998.4,174.9L999.7,172.7L1002.2,171.2" fill="none" stroke="#8a957c" stroke-width="0.6"/>
<path d="M996.0,166.2L997.9,166.5L1001.0,167.1" fill="none" stroke="#8a957c" stroke-width="0.6"/>
<path d="M994.8,184.1L997.1,183.0L1000.3,183.8L1003.5,184.1L1006.1,184.6L1007.6,182.5L1007.6,181.2" fill="none" stroke="#8a957c" stroke-width="0.6"/>
<path d="M992.6,191.8L993.7,192.8L996.3,193.0L999.5,192.3L1001.9,192.1L1004.3,196.3L1002.2,198.7L1004.7,199.3" fill="none" stroke="#8a957c" stroke-width="0.6"/>
<path d="M993.7,192.8L991.5,196.3L989.5,197.3" fill="none" stroke="#8a957c" stroke-width="0.6"/>
<path d="M989.5,197.3L991.5,199.8L993.1,201.6L995.5,202.7L998.7,202.1L1001.1,202.1L1002.9,202.7" fill="none" stroke="#8a957c" stroke-width="0.6"/>
<path d="M992.9,205.8L993.9,207.7L996.3,207.5L999.2,207.1L1001.9,206.5" fill="none" stroke="#8a957c" stroke-width="0.6"/>
<path d="M999.2,207.1L998.7,208.8" fill="none" stroke="#8a957c" stroke-width="0.6"/>
<path d="M995.7,139.1L995.0,136.3L994.7,132.6L993.1,129.2L990.7,126.6L990.0,125.3" fill="none" stroke="#8a957c" stroke-width="0.6"/>
<path d="M1014.6,219.1L1015.8,217.3L1018.0,217.3L1021.2,216.9L1024.9,216.7L1028.1,216.5L1028.5,213.8L1028.0,211.8L1028.9,211.3" fill="none" stroke="#8a957c" stroke-width="0.6"/>
<path d="M1023.8,207.3L1025.7,207.5L1026.8,208.4L1027.0,210.3L1028.9,211.3" fill="none" stroke="#8a957c" stroke-width="0.6"/>
<path d="M1026.8,208.4L1029.3,208.0L1031.7,208.4L1031.8,206.9" fill="none" stroke="#8a957c" stroke-width="0.6"/>
<path d="M1029.3,208.0L1030.1,209.7L1031.7,212.4" fill="none" stroke="#8a957c" stroke-width="0.6"/>
<path d="M1028.9,211.3L1031.7,213.0L1034.1,213.2L1035.5,214.0" fill="none" stroke="#8a957c" stroke-width="0.6"/>
<path d="M1024.9,216.7L1023.3,217.7L1022.8,222.0L1019.3,224.0L1014.8,225.7" fill="none" stroke="#8a957c" stroke-width="0.6"/>
<path d="M1014.6,221.6L1015.8,222.4L1014.5,224.2" fill="none" stroke="#8a957c" stroke-width="0.6"/>
<path d="M1028.1,216.5L1030.1,219.3L1030.9,220.9L1030.1,222.8L1031.7,224.7L1033.3,226.3L1034.1,229.5L1034.9,230.6" fill="none" stroke="#8a957c" stroke-width="0.6"/>
<path d="M1019.3,224.0L1019.9,226.3L1022.8,227.6L1028.8,231.9L1031.7,232.1L1033.6,233.2" fill="none" stroke="#8a957c" stroke-width="0.6"/>
<path d="M1031.7,232.1L1033.6,230.2L1034.1,230.4" fill="none" stroke="#8a957c" stroke-width="0.6"/>
<path d="M1019.9,226.3L1016.4,227.6L1018.0,229.5L1016.4,230.6L1013.2,231.5" fill="none" stroke="#8a957c" stroke-width="0.6"/>
<path d="M1014.0,224.7L1014.1,228.5L1013.0,231.3" fill="none" stroke="#8a957c" stroke-width="0.6"/>
<path d="M1025.6,254.1L1028.5,252.6L1032.5,253.3L1035.7,250.7L1040.5,249.9L1045.3,248.2" fill="none" stroke="#8a957c" stroke-width="0.6"/>
<path d="M1040.5,249.9L1042.3,253.8" fill="none" stroke="#8a957c" stroke-width="0.6"/>
<path d="M1045.3,248.2L1045.3,243.9L1046.1,241.6L1047.4,239.6" fill="none" stroke="#8a957c" stroke-width="0.6"/>
<path d="M1039.7,240.3L1041.3,243.3L1045.3,243.9" fill="none" stroke="#8a957c" stroke-width="0.6"/>
<path d="M1043.6,216.3L1046.1,214.9L1048.6,214.4L1051.8,216.1L1054.2,217.7L1055.3,217.7" fill="none" stroke="#8a957c" stroke-width="0.6"/>
<path d="M1055.3,217.7L1054.7,221.8L1054.2,223.8L1054.8,227.6L1056.1,227.8" fill="none" stroke="#8a957c" stroke-width="0.6"/>
<path d="M1056.1,227.8L1057.7,231.5L1055.8,233.2L1057.9,235.5L1058.5,236.6L1056.0,239.1" fill="none" stroke="#8a957c" stroke-width="0.6"/>
<path d="M1054.8,230.6L1057.4,231.5L1063.8,230.6L1066.2,227.2L1068.7,228.5L1069.5,224.7L1071.1,222.8L1071.9,219.9L1071.9,217.9L1076.7,216.9L1078.3,217.3" fill="none" stroke="#8a957c" stroke-width="0.6"/>
<path d="M1055.3,217.7L1057.4,220.3L1060.6,218.5L1063.8,216.1" fill="none" stroke="#8a957c" stroke-width="0.6"/>
<path d="M1087.1,230.0L1085.5,232.6" fill="none" stroke="#8a957c" stroke-width="0.6"/>
<path d="M1105.3,247.0L1105.8,245.6L1105.3,241.8" fill="none" stroke="#8a957c" stroke-width="0.6"/>
<path d="M1115.3,264.8L1116.4,262.4L1116.1,259.1L1115.3,255.8L1114.2,253.3L1115.3,249.0L1117.7,247.5L1119.6,246.1L1120.1,244.2" fill="none" stroke="#8a957c" stroke-width="0.6"/>
<path d="M1117.7,247.5L1119.3,249.0L1120.9,251.6L1124.1,252.4L1125.4,254.9L1126.5,257.4" fill="none" stroke="#8a957c" stroke-width="0.6"/>
<path d="M1126.5,257.8L1122.5,257.8L1121.7,261.6" fill="none" stroke="#8a957c" stroke-width="0.6"/>
<path d="M1120.9,243.9L1123.3,245.6L1124.9,248.2L1124.9,250.4L1127.3,252.4L1128.2,254.1L1129.8,255.8L1129.8,257.4L1128.2,261.6L1124.8,264.2" fill="none" stroke="#8a957c" stroke-width="0.6"/>
<path d="M1117.9,270.5L1120.1,271.5L1121.1,271.0" fill="none" stroke="#8a957c" stroke-width="0.6"/>
<path d="M1156.8,210.9L1159.5,208.0L1162.7,206.5L1165.1,205.6L1166.9,205.6" fill="none" stroke="#8a957c" stroke-width="0.6"/>
<path d="M1159.8,215.1L1161.9,214.2L1163.4,213.6" fill="none" stroke="#8a957c" stroke-width="0.6"/>
<path d="M954.2,220.7L954.5,225.7L951.3,227.6L948.9,229.5L942.9,232.8L942.9,234.6" fill="none" stroke="#8a957c" stroke-width="0.6"/>
<path d="M970.7,217.1L970.2,221.8L969.0,223.8L971.4,226.6L973.0,230.4" fill="none" stroke="#8a957c" stroke-width="0.6"/>
<path d="M997.1,244.7L1016.1,244.7" fill="none" stroke="#8a957c" stroke-width="0.6"/>
<path d="M995.5,249.0L995.5,255.8L993.1,258.3L992.3,260.7L993.1,263.2" fill="none" stroke="#8a957c" stroke-width="0.6"/>
<path d="M978.8,258.8L980.2,260.7L981.0,264.0L978.6,264.8L981.8,268.9" fill="none" stroke="#8a957c" stroke-width="0.6"/>
<path d="M979.4,260.7L977.0,267.3L974.6,270.5L972.2,272.1L970.7,273.6" fill="none" stroke="#8a957c" stroke-width="0.6"/>
<path d="M1019.0,251.6L1015.6,257.8L1015.6,260.7L1012.4,264.0L1011.6,264.8" fill="none" stroke="#8a957c" stroke-width="0.6"/>
<path d="M1015.6,257.8L1018.0,257.4L1021.2,257.4L1024.9,260.7" fill="none" stroke="#8a957c" stroke-width="0.6"/>
<path d="M1013.2,273.6L1016.4,273.9L1019.6,275.4L1022.8,274.7" fill="none" stroke="#8a957c" stroke-width="0.6"/>
<path d="M1010.8,274.9L1013.2,278.6L1011.6,281.0L1011.4,282.6L1017.2,286.1L1019.9,288.6" fill="none" stroke="#8a957c" stroke-width="0.6"/>
<path d="M1006.7,275.0L1005.1,278.6L1004.5,283.3L1003.9,288.2L1005.9,294.2L1009.8,296.0L1012.4,299.6L1017.2,299.8L1022.0,298.0" fill="none" stroke="#8a957c" stroke-width="0.6"/>
<path d="M1004.5,282.6L1011.4,282.6" fill="none" stroke="#8a957c" stroke-width="0.6"/>
<path d="M976.5,290.7L983.4,293.1L985.0,293.9L988.3,293.9L991.5,296.3L992.3,298.8L995.5,299.1L998.7,300.1L1001.9,301.3L1004.8,302.7L1003.5,298.0L1002.7,294.7L1005.9,294.2" fill="none" stroke="#8a957c" stroke-width="0.6"/>
<path d="M992.3,298.8L995.5,302.1L992.3,302.1L992.3,307.9L994.5,309.8" fill="none" stroke="#8a957c" stroke-width="0.6"/>
<path d="M1005.8,306.4L1010.0,303.7L1010.3,300.4L1010.0,296.3" fill="none" stroke="#8a957c" stroke-width="0.6"/>
<path d="M1013.2,308.7L1014.0,304.6L1012.5,299.6" fill="none" stroke="#8a957c" stroke-width="0.6"/>
<path d="M1007.2,318.0L1008.4,320.8L1009.8,325.8" fill="none" stroke="#8a957c" stroke-width="0.6"/>
<path d="M930.0,260.9L932.8,260.4L934.9,260.4" fill="none" stroke="#8a957c" stroke-width="0.6"/>
</g>
<path d="M1001.9,208.2L1002.9,203.2L1004.7,199.3L1006.3,196.3L1008.0,196.1L1010.0,197.5L1009.2,198.9L1010.8,200.9L1012.4,200.7L1015.6,199.1L1017.2,200.3L1019.1,201.4L1021.2,203.4L1023.8,207.3L1021.2,208.8L1018.0,208.8L1014.8,207.1L1011.6,206.5L1008.4,207.3L1003.5,208.2Z" fill="#ffffff" stroke="#7d886f" stroke-width="0.5" />
<path d="M1013.2,198.2L1014.5,198.9L1017.2,198.7L1018.8,195.6L1015.6,195.6L1013.2,196.8Z" fill="#ffffff" stroke="#7d886f" stroke-width="0.5" />
<path d="M1035.7,196.1L1039.7,194.9L1042.1,196.1L1042.4,199.1L1039.4,199.3L1039.7,201.6L1041.3,205.1L1042.1,208.6L1043.6,210.7L1042.4,212.2L1043.6,216.3L1039.7,217.3L1037.6,216.1L1035.7,214.9L1036.0,211.8L1036.5,210.1L1035.0,206.9L1033.3,204.3L1033.0,200.3L1032.0,200.7L1033.3,198.7Z" fill="#ffffff" stroke="#7d886f" stroke-width="0.5" />
<path d="M947.9,218.9L946.8,217.3L945.0,216.5L942.6,216.9L942.7,213.4L941.6,213.2L942.4,210.7L942.7,207.5L942.6,205.4L941.9,204.3L944.0,202.7L947.3,202.9L950.5,203.4L953.7,203.4L954.5,203.2L955.0,200.9L955.0,198.0L953.4,194.9L949.7,193.0L949.3,191.6L952.1,190.8L954.3,191.3L954.8,188.6L957.2,189.4L959.3,187.4L959.5,185.4L960.9,185.1L962.4,184.3L963.3,182.8L964.5,180.4L965.7,179.3L968.2,179.1L970.6,178.5L971.1,177.4L970.7,174.7L969.9,170.4L970.6,168.6L973.0,167.1L973.8,168.3L973.3,171.0L974.4,171.0L973.0,173.2L972.5,174.9L973.0,176.1L974.4,177.4L977.0,176.1L979.4,177.7L981.8,176.9L985.0,175.2L986.8,176.3L988.3,176.3L989.9,174.9L991.0,174.1L990.8,171.8L990.7,169.5L991.6,167.4L993.2,166.8L994.7,168.9L996.1,168.0L996.0,165.0L994.7,164.1L994.5,162.2L997.1,161.3L1000.3,161.6L1002.1,161.3L1004.3,160.0L1005.5,159.7L1003.5,159.0L1001.9,158.0L999.5,158.4L996.3,159.7L993.7,160.0L991.3,157.7L991.5,154.4L991.2,150.6L992.3,147.8L994.8,145.9L996.6,142.6L997.7,140.3L996.5,138.7L993.9,139.5L992.6,139.9L991.0,144.1L989.9,146.7L987.5,148.8L986.2,150.6L984.7,154.7L984.6,157.4L986.6,159.3L987.3,161.3L985.5,163.5L983.6,166.2L983.4,169.5L982.6,171.2L980.2,171.8L979.7,173.5L977.6,173.5L977.2,171.5L977.3,169.8L976.0,167.1L974.9,163.1L973.8,161.9L973.5,160.3L973.1,162.8L972.2,162.8L969.8,165.6L968.2,165.9L965.9,163.5L965.4,161.3L964.9,158.7L965.1,156.4L964.8,153.7L965.7,152.0L968.2,150.3L970.2,148.1L972.7,146.3L974.3,144.1L976.2,140.3L977.5,136.3L978.6,132.2L980.2,130.1L981.8,127.9L983.4,125.7L985.8,123.0L989.1,121.1L992.3,119.7L995.5,117.3L998.4,115.8L1001.9,116.3L1005.1,118.7L1006.9,120.2L1006.4,122.0L1007.5,122.3L1008.4,122.1L1009.2,122.0L1009.6,123.2L1010.3,123.9L1010.8,124.4L1011.5,124.3L1012.9,124.4L1014.0,124.5L1014.8,125.3L1016.2,125.3L1016.9,126.3L1017.5,126.7L1018.2,127.8L1018.8,128.4L1020.1,129.1L1021.4,129.7L1022.0,130.9L1022.1,132.1L1022.2,132.8L1023.0,133.5L1023.1,135.1L1022.2,136.3L1021.2,137.5L1020.3,138.0L1019.0,137.6L1018.1,137.9L1017.4,137.8L1016.4,137.5L1015.4,136.4L1014.4,135.9L1012.9,135.9L1011.6,135.9L1010.4,136.3L1010.1,135.4L1009.6,133.9L1010.0,135.3L1010.8,135.9L1010.8,136.7L1010.8,137.5L1011.5,138.4L1011.8,139.0L1012.4,139.4L1012.7,140.7L1012.4,141.7L1012.1,142.6L1012.4,143.5L1012.9,144.1L1013.9,145.0L1014.7,145.6L1015.6,145.9L1016.1,145.1L1017.4,144.5L1017.9,143.9L1018.0,143.0L1019.4,143.6L1020.3,143.5L1021.2,144.1L1021.8,143.7L1022.3,142.6L1021.4,141.3L1020.9,140.3L1021.9,139.8L1022.1,139.1L1022.8,137.9L1024.1,137.6L1024.8,136.3L1025.9,136.9L1026.6,137.2L1027.7,137.5L1027.2,136.4L1027.4,135.6L1027.9,134.9L1028.0,133.5L1027.4,132.7L1027.0,131.5L1027.5,130.0L1027.0,128.8L1027.2,127.5L1028.5,127.4L1029.7,128.1L1030.5,127.9L1030.5,128.8L1031.2,129.7L1031.7,130.9L1032.3,130.9L1033.3,131.5L1034.3,131.6L1034.9,131.4L1035.6,131.1L1036.4,130.7L1037.3,130.1L1037.7,128.8L1038.6,128.4L1039.8,128.1L1040.4,127.3L1041.3,127.0L1042.3,126.7L1042.9,126.2L1043.5,126.9L1044.4,127.1L1045.3,128.4L1046.1,127.6L1046.7,127.6L1047.8,127.5L1048.3,127.9L1049.4,127.9L1050.3,127.7L1051.2,127.7L1052.6,128.4L1052.3,127.0L1052.7,126.1L1052.9,125.0L1053.4,124.0L1053.3,123.2L1054.2,122.7L1054.7,122.0L1055.6,122.0L1056.3,122.2L1057.4,122.0L1057.8,122.6L1058.5,123.2L1059.6,123.3L1060.6,124.4L1061.7,124.6L1062.3,124.9L1063.0,125.6L1063.8,126.2L1065.0,126.8L1066.0,127.4L1066.6,128.8L1067.2,128.3L1067.8,127.5L1067.9,126.2L1067.6,125.5L1066.7,124.7L1065.8,124.0L1065.4,123.4L1065.2,122.4L1065.7,121.9L1066.0,120.9L1065.1,120.3L1065.0,119.4L1064.3,118.3L1064.3,117.0L1064.6,115.8L1064.5,114.8L1065.0,113.8L1065.4,113.0L1065.6,111.8L1066.0,110.8L1066.7,110.0L1067.0,108.6L1067.8,107.3L1068.5,106.7L1068.7,105.9L1069.9,106.1L1070.8,106.4L1071.9,106.4L1072.1,107.7L1072.8,108.7L1074.0,109.7L1073.3,110.3L1073.1,111.6L1072.9,112.4L1072.8,113.3L1073.2,114.5L1072.8,115.2L1073.6,116.3L1074.0,117.5L1073.6,118.9L1073.3,119.7L1073.7,120.7L1073.1,121.5L1072.7,122.0L1072.7,122.8L1072.9,123.7L1072.5,124.9L1073.8,125.8L1074.4,126.6L1074.5,127.5L1075.2,128.4L1074.7,129.8L1074.6,130.8L1074.6,132.2L1074.2,133.4L1074.0,134.1L1073.2,135.1L1072.7,136.3L1073.6,135.5L1075.1,135.1L1075.7,134.6L1075.8,133.6L1076.5,133.3L1077.2,132.2L1077.4,131.3L1077.6,130.7L1077.7,129.5L1077.4,128.7L1077.5,127.9L1077.2,127.4L1077.0,126.3L1076.9,124.7L1076.3,124.3L1075.9,123.4L1075.6,121.9L1076.3,120.6L1075.9,119.9L1075.6,118.7L1076.1,117.8L1076.0,117.2L1075.6,116.1L1076.1,115.3L1076.5,114.8L1076.7,113.8L1076.9,112.8L1078.0,111.9L1078.3,110.9L1078.3,110.2L1079.3,109.9L1080.0,109.9L1081.5,109.7L1082.2,109.3L1083.1,109.1L1083.4,108.4L1083.8,107.3L1084.8,106.6L1084.6,105.6L1085.2,104.5L1085.6,104.0L1086.3,103.1L1087.7,102.9L1088.8,102.5L1089.8,102.1L1090.4,101.9L1091.4,102.4L1092.8,102.5L1093.6,102.4L1094.6,101.6L1096.0,100.8L1095.7,99.7L1095.3,98.4L1095.6,97.4L1095.7,96.6L1096.8,95.4L1097.7,95.1L1098.5,95.2L1099.3,94.4L1100.5,93.9L1101.2,92.8L1101.4,91.6L1101.6,91.0L1102.5,90.5L1103.5,89.6L1104.4,89.9L1105.2,89.8L1105.6,88.5L1106.4,87.8L1107.6,87.4L1108.3,87.2L1109.5,87.4L1110.6,87.4L1111.3,87.1L1112.3,86.4L1113.0,86.1L1114.1,85.6L1115.3,85.2L1116.1,85.1L1116.4,84.2L1116.7,83.1L1117.7,82.7L1118.2,82.0L1119.3,81.6L1119.9,80.5L1120.7,80.0L1121.4,79.4L1122.3,78.7L1122.7,78.0L1123.0,77.3L1123.5,76.6L1124.6,75.7L1125.5,76.3L1126.3,77.0L1126.4,77.7L1127.3,78.7L1127.5,79.8L1127.5,80.4L1128.0,81.6L1129.2,82.2L1129.8,83.7L1130.5,83.8L1131.3,84.4L1132.3,84.3L1132.9,83.9L1134.1,83.3L1135.4,83.7L1135.6,84.4L1136.0,85.2L1136.2,86.0L1136.5,86.7L1137.4,87.4L1138.0,88.4L1139.4,89.1L1139.3,90.1L1139.1,91.0L1138.5,91.6L1139.0,92.6L1139.1,93.3L1138.4,94.7L1137.6,95.5L1138.0,96.5L1138.6,97.3L1138.4,98.5L1138.4,99.3L1138.6,100.2L1138.4,101.0L1137.4,101.7L1136.3,102.2L1135.4,102.5L1136.3,102.8L1136.8,103.6L1138.3,103.7L1139.4,103.7L1140.6,103.2L1141.4,103.1L1142.5,102.9L1143.4,102.5L1144.8,103.2L1145.8,103.5L1147.0,104.4L1148.3,105.3L1149.1,105.8L1150.0,105.9L1150.9,106.3L1151.6,106.3L1152.9,106.2L1153.6,106.3L1154.7,105.9L1155.9,105.9L1156.5,106.2L1157.1,107.0L1157.7,107.5L1158.1,108.5L1159.5,109.1L1160.5,108.4L1161.1,107.1L1162.2,107.0L1163.5,106.4L1164.2,107.1L1164.6,108.5L1164.8,109.3L1165.2,110.1L1166.4,111.1L1166.2,112.0L1166.7,113.0L1166.4,113.5L1165.9,114.4L1165.7,115.6L1165.9,116.3L1166.4,114.8L1167.2,114.3L1168.6,113.9L1169.2,113.3L1170.4,113.1L1171.5,113.4L1172.3,113.4L1173.5,113.6L1174.8,113.3L1175.6,113.0L1176.9,113.0L1177.7,113.2L1178.9,113.8L1180.4,113.8L1180.7,112.8L1181.4,111.9L1181.9,111.3L1182.2,110.5L1182.1,109.5L1182.0,108.6L1183.0,108.4L1184.5,108.0L1185.5,107.9L1186.8,108.1L1188.2,108.6L1189.2,109.8L1190.6,109.3L1191.6,109.1L1192.3,109.3L1193.3,109.7L1194.1,110.0L1194.8,110.8L1196.0,111.5L1196.9,112.7L1198.1,113.3L1199.0,114.6L1200.2,114.7L1200.8,115.2L1201.8,116.3L1202.9,116.8L1204.4,116.9L1205.2,117.2L1206.5,118.0L1208.0,118.0L1208.5,117.4L1209.4,116.8L1210.4,118.0L1211.4,118.5L1212.3,118.7L1212.6,119.8L1213.1,120.4L1214.2,121.1L1215.3,121.6L1216.2,122.0L1217.4,122.5L1218.9,122.9L1219.6,122.6L1220.5,122.8L1221.3,122.4L1222.2,122.5L1223.6,121.7L1224.8,122.2L1226.2,122.0L1227.8,121.9L1228.7,121.6L1229.4,121.4L1230.3,121.1L1230.5,122.4L1231.3,123.6L1231.7,124.4L1231.9,125.7L1232.5,124.9L1233.2,124.4L1234.2,124.1L1235.0,123.1L1235.1,122.0L1236.3,121.9L1237.0,121.9L1237.6,122.4L1238.5,122.6L1239.9,122.5L1241.1,122.8L1242.0,123.1L1243.1,123.9L1244.2,123.9L1244.9,124.2L1245.6,125.3L1246.3,126.2L1247.5,127.2L1247.9,128.5L1249.0,128.6L1249.6,129.2L1250.3,129.7L1251.2,129.8L1252.1,131.0L1252.9,131.5L1253.9,132.5L1254.4,133.5L1255.4,134.2L1256.7,134.2L1257.8,135.0L1258.6,134.9L1259.2,135.9L1260.3,136.6L1260.8,137.4L1261.8,138.3L1262.9,138.3L1262.1,138.4L1260.8,139.1L1260.0,140.3L1259.3,140.8L1258.2,141.8L1257.7,142.6L1257.6,144.1L1256.8,144.8L1255.8,144.9L1254.6,144.4L1254.1,143.6L1253.6,143.0L1252.3,142.7L1251.1,143.4L1250.4,143.7L1249.6,143.1L1249.0,142.5L1248.6,141.7L1247.9,141.1L1247.5,142.0L1246.9,142.6L1245.8,142.8L1245.4,143.3L1244.7,144.1L1244.1,144.7L1243.1,145.2L1242.9,146.3L1243.1,146.9L1242.7,148.0L1242.9,149.4L1242.8,150.3L1242.3,151.3L1241.0,151.4L1239.8,152.1L1239.0,152.7L1238.3,153.0L1237.1,153.6L1236.2,154.5L1235.3,155.3L1235.1,156.4L1233.8,157.1L1233.1,157.5L1232.8,158.6L1232.2,159.2L1231.1,159.7L1229.6,159.8L1228.3,159.4L1227.5,159.0L1226.2,159.0L1225.4,159.4L1224.0,159.5L1223.0,160.2L1222.2,160.3L1220.9,160.6L1219.8,161.3L1219.3,162.7L1219.5,163.6L1219.5,164.6L1219.3,165.9L1218.4,166.1L1217.4,166.5L1218.2,167.8L1218.7,168.8L1219.0,169.5L1219.0,171.0L1218.5,172.2L1217.4,173.2L1216.9,174.1L1216.7,174.7L1217.1,176.1L1216.6,176.5L1215.8,177.1L1215.3,178.5L1214.9,179.3L1214.2,180.1L1213.2,180.9L1211.8,180.9L1211.0,182.0L1210.2,182.2L1209.4,182.9L1208.9,183.8L1208.9,185.4L1208.5,184.3L1208.2,183.4L1207.7,182.8L1208.2,181.6L1208.4,180.8L1208.9,179.6L1208.3,178.5L1207.9,177.7L1207.2,176.7L1207.1,175.9L1206.9,174.7L1207.5,173.4L1207.1,171.8L1207.4,170.8L1207.4,169.5L1208.2,168.3L1208.4,167.4L1209.4,166.5L1210.0,165.9L1210.5,165.1L1211.6,165.0L1212.6,164.4L1213.1,163.5L1212.9,162.7L1213.4,161.5L1214.4,160.3L1215.8,159.7L1216.2,158.4L1217.0,158.0L1217.6,157.4L1218.8,156.8L1219.2,156.0L1219.8,154.7L1220.2,154.2L1220.4,153.2L1220.3,152.1L1220.6,151.3L1220.1,152.2L1219.6,152.7L1218.6,153.1L1218.2,153.7L1217.3,153.4L1216.3,153.9L1215.0,153.7L1214.5,154.3L1214.2,155.2L1213.4,155.7L1212.0,155.0L1211.5,155.3L1210.5,155.4L1209.6,154.5L1208.6,154.4L1207.8,155.8L1206.9,156.1L1206.2,156.9L1206.1,157.9L1206.1,159.4L1205.7,160.4L1205.4,161.4L1204.5,162.2L1203.2,161.9L1202.0,162.4L1200.5,162.5L1199.1,162.6L1198.1,162.5L1197.2,161.6L1196.5,161.6L1195.3,161.9L1194.6,162.1L1193.7,161.8L1192.8,161.9L1192.0,162.2L1190.9,161.6L1189.4,161.8L1188.6,161.7L1187.9,161.7L1186.8,161.9L1185.4,162.4L1184.7,163.4L1184.4,164.1L1183.9,165.0L1183.2,165.8L1182.0,166.5L1181.1,167.3L1180.4,168.3L1179.5,168.9L1178.7,169.1L1178.0,170.1L1177.0,171.1L1176.3,171.8L1176.2,172.6L1175.7,174.1L1174.8,175.2L1175.7,175.4L1176.4,175.7L1177.2,176.9L1178.1,176.4L1179.0,176.4L1180.4,176.9L1181.5,177.6L1182.4,178.8L1182.8,179.6L1183.2,181.1L1184.3,182.2L1184.0,183.2L1183.7,183.8L1183.9,185.2L1183.3,185.8L1183.0,186.6L1182.7,187.6L1182.9,188.4L1182.6,189.4L1182.7,190.8L1182.3,191.7L1182.2,192.6L1180.9,193.1L1180.4,194.2L1179.7,195.5L1179.5,196.6L1178.8,197.5L1178.8,198.8L1178.2,199.4L1177.8,200.0L1177.0,200.1L1176.4,200.9L1175.5,201.8L1175.4,202.5L1174.6,202.7L1174.0,203.4L1172.8,204.1L1171.7,204.0L1170.8,204.7L1169.9,204.4L1168.8,203.8L1167.9,204.2L1167.1,205.4L1165.5,207.5L1165.1,209.0L1163.5,210.7L1161.9,211.8L1163.2,213.8L1164.7,216.3L1165.0,218.9L1164.5,220.5L1161.9,221.6L1160.2,221.8L1160.3,219.9L1160.5,217.3L1159.8,215.5L1158.2,215.3L1158.4,213.6L1157.6,211.8L1156.8,210.9L1154.7,211.5L1152.3,212.8L1152.8,210.3L1153.6,209.4L1151.5,209.0L1149.9,210.3L1148.3,212.4L1146.6,212.4L1146.0,213.6L1147.4,214.9L1148.3,216.3L1150.7,215.3L1153.9,216.1L1153.4,217.3L1151.0,218.7L1148.7,220.9L1150.3,222.2L1151.3,225.5L1152.9,227.2L1152.9,228.7L1151.8,229.8L1153.2,230.6L1152.3,233.0L1150.8,235.0L1149.4,237.7L1148.7,238.7L1147.4,240.2L1145.5,241.8L1143.9,243.2L1141.8,243.5L1139.7,243.9L1138.6,244.7L1136.2,245.6L1134.4,246.1L1134.1,247.7L1133.3,245.6L1131.4,245.4L1129.8,246.4L1128.3,247.7L1127.0,249.9L1128.2,251.6L1129.3,254.1L1131.0,255.8L1132.2,258.3L1132.7,260.7L1132.0,262.7L1129.8,264.0L1128.3,265.5L1126.1,267.1L1125.4,265.5L1125.7,264.2L1124.8,264.2L1123.3,263.9L1121.7,261.6L1120.1,260.4L1119.1,259.1L1117.7,259.3L1117.5,261.2L1116.4,264.3L1117.4,266.1L1118.2,267.6L1118.7,269.4L1120.1,270.0L1121.2,271.0L1122.8,272.5L1123.2,274.6L1123.3,276.5L1124.5,278.7L1123.3,278.9L1121.7,277.8L1119.8,276.3L1118.7,274.2L1118.2,272.1L1118.0,270.5L1117.1,269.4L1115.4,267.9L1115.0,266.5L1115.4,264.0L1115.3,261.6L1114.8,259.1L1113.8,255.8L1113.0,253.4L1111.3,253.9L1110.0,255.3L1108.5,254.9L1108.9,252.4L1108.1,249.9L1106.4,248.5L1105.3,247.0L1104.8,245.6L1104.5,244.0L1102.6,244.2L1100.8,244.9L1099.2,245.2L1096.8,245.9L1096.0,247.7L1093.6,249.2L1092.0,251.1L1089.2,253.3L1087.6,254.4L1085.9,256.1L1085.7,259.1L1085.2,262.4L1084.4,264.3L1083.8,266.1L1082.6,266.6L1081.5,267.9L1079.9,266.5L1078.8,263.2L1077.2,260.2L1076.1,256.9L1074.9,254.1L1074.0,249.9L1074.0,247.3L1073.6,245.8L1073.0,244.4L1070.7,246.8L1067.9,244.0L1069.9,243.2L1067.5,241.9L1065.4,241.4L1064.0,238.7L1060.6,239.1L1056.0,239.1L1051.8,238.7L1049.0,238.0L1047.9,235.7L1045.0,236.8L1042.1,235.9L1039.6,234.3L1037.6,230.4L1035.5,229.6L1034.1,230.4L1033.9,232.2L1035.0,234.1L1036.5,235.9L1037.6,237.1L1038.6,239.8L1039.9,238.9L1039.4,240.7L1042.1,241.1L1044.5,240.7L1046.3,238.6L1047.4,237.3L1047.6,240.3L1049.4,241.9L1051.5,242.1L1053.1,244.0L1051.8,246.4L1050.6,247.5L1049.7,249.9L1048.2,250.6L1045.8,252.4L1042.1,253.8L1040.5,255.3L1037.3,256.6L1034.9,258.3L1031.7,259.3L1029.3,260.2L1026.8,260.4L1026.4,258.6L1025.6,255.8L1025.2,253.6L1023.6,250.7L1022.0,248.2L1019.9,245.6L1019.3,243.0L1017.2,240.3L1015.6,237.7L1014.0,234.4L1012.9,231.7L1013.0,231.3L1011.9,228.0L1012.5,226.6L1013.2,224.7L1014.0,222.8L1014.6,220.5L1015.1,217.7L1014.0,217.7L1012.5,217.3L1010.0,218.7L1008.4,217.9L1006.1,217.5L1004.3,218.5L1001.9,217.3L1000.8,216.5L999.5,213.8L1000.0,212.2L999.0,211.1L999.5,210.1L998.7,209.4L997.1,208.8L995.2,209.2L993.6,209.7L994.7,211.8L993.6,213.2L995.5,214.4L993.9,215.9L993.6,217.9L992.3,217.3L991.6,216.3L990.8,214.2L990.2,212.6L989.1,211.3L988.1,209.9L988.3,206.9L986.6,205.4L985.0,204.3L982.6,203.2L981.3,201.4L980.2,199.3L978.9,199.6L978.8,198.0L976.7,199.1L976.8,201.6L978.8,203.2L980.2,206.0L982.6,207.7L985.0,209.4L986.6,210.5L984.2,212.8L983.6,214.0L982.1,214.9L982.1,212.2L981.0,210.3L979.1,208.4L976.2,206.7L974.6,205.1L973.3,202.3L971.1,201.2L969.0,202.5L967.4,204.0L964.1,203.2L961.9,204.0L962.0,206.5L960.1,208.2L958.2,208.6L956.9,210.7L956.4,212.2L957.2,213.4L955.8,215.7L953.5,217.5L949.8,217.5Z" fill="none" stroke="#7d886f" stroke-width="0.6" mask="url(#m_eu_ng)"/>
<path d="M947.9,218.9L946.8,217.3L945.0,216.5L942.6,216.9L942.7,213.4L941.6,213.2L942.4,210.7L942.7,207.5L942.6,205.4L941.9,204.3L944.0,202.7L947.3,202.9L950.5,203.4L953.7,203.4L954.5,203.2L955.0,200.9L955.0,198.0L953.4,194.9L949.7,193.0L949.3,191.6L952.1,190.8L954.3,191.3L954.8,188.6L957.2,189.4L959.3,187.4L959.5,185.4L960.9,185.1L962.4,184.3L963.3,182.8L964.5,180.4L965.7,179.3L968.2,179.1L970.6,178.5L971.1,177.4L970.7,174.7L969.9,170.4L970.6,168.6L973.0,167.1L973.8,168.3L973.3,171.0L974.4,171.0L973.0,173.2L972.5,174.9L973.0,176.1L974.4,177.4L977.0,176.1L979.4,177.7L981.8,176.9L985.0,175.2L986.8,176.3L988.3,176.3L989.9,174.9L991.0,174.1L990.8,171.8L990.7,169.5L991.6,167.4L993.2,166.8L994.7,168.9L996.1,168.0L996.0,165.0L994.7,164.1L994.5,162.2L997.1,161.3L1000.3,161.6L1002.1,161.3L1004.3,160.0L1005.5,159.7L1003.5,159.0L1001.9,158.0L999.5,158.4L996.3,159.7L993.7,160.0L991.3,157.7L991.5,154.4L991.2,150.6L992.3,147.8L994.8,145.9L996.6,142.6L997.7,140.3L996.5,138.7L993.9,139.5L992.6,139.9L991.0,144.1L989.9,146.7L987.5,148.8L986.2,150.6L984.7,154.7L984.6,157.4L986.6,159.3L987.3,161.3L985.5,163.5L983.6,166.2L983.4,169.5L982.6,171.2L980.2,171.8L979.7,173.5L977.6,173.5L977.2,171.5L977.3,169.8L976.0,167.1L974.9,163.1L973.8,161.9L973.5,160.3L973.1,162.8L972.2,162.8L969.8,165.6L968.2,165.9L965.9,163.5L965.4,161.3L964.9,158.7L965.1,156.4L964.8,153.7L965.7,152.0L968.2,150.3L970.2,148.1L972.7,146.3L974.3,144.1L976.2,140.3L977.5,136.3L978.6,132.2L980.2,130.1L981.8,127.9L983.4,125.7L985.8,123.0L989.1,121.1L992.3,119.7L995.5,117.3L998.4,115.8L1001.9,116.3L1005.1,118.7L1006.9,120.2L1006.4,122.0L1007.5,122.3L1008.4,122.1L1009.2,122.0L1009.6,123.2L1010.3,123.9L1010.8,124.4L1011.5,124.3L1012.9,124.4L1014.0,124.5L1014.8,125.3L1016.2,125.3L1016.9,126.3L1017.5,126.7L1018.2,127.8L1018.8,128.4L1020.1,129.1L1021.4,129.7L1022.0,130.9L1022.1,132.1L1022.2,132.8L1023.0,133.5L1023.1,135.1L1022.2,136.3L1021.2,137.5L1020.3,138.0L1019.0,137.6L1018.1,137.9L1017.4,137.8L1016.4,137.5L1015.4,136.4L1014.4,135.9L1012.9,135.9L1011.6,135.9L1010.4,136.3L1010.1,135.4L1009.6,133.9L1010.0,135.3L1010.8,135.9L1010.8,136.7L1010.8,137.5L1011.5,138.4L1011.8,139.0L1012.4,139.4L1012.7,140.7L1012.4,141.7L1012.1,142.6L1012.4,143.5L1012.9,144.1L1013.9,145.0L1014.7,145.6L1015.6,145.9L1016.1,145.1L1017.4,144.5L1017.9,143.9L1018.0,143.0L1019.4,143.6L1020.3,143.5L1021.2,144.1L1021.8,143.7L1022.3,142.6L1021.4,141.3L1020.9,140.3L1021.9,139.8L1022.1,139.1L1022.8,137.9L1024.1,137.6L1024.8,136.3L1025.9,136.9L1026.6,137.2L1027.7,137.5L1027.2,136.4L1027.4,135.6L1027.9,134.9L1028.0,133.5L1027.4,132.7L1027.0,131.5L1027.5,130.0L1027.0,128.8L1027.2,127.5L1028.5,127.4L1029.7,128.1L1030.5,127.9L1030.5,128.8L1031.2,129.7L1031.7,130.9L1032.3,130.9L1033.3,131.5L1034.3,131.6L1034.9,131.4L1035.6,131.1L1036.4,130.7L1037.3,130.1L1037.7,128.8L1038.6,128.4L1039.8,128.1L1040.4,127.3L1041.3,127.0L1042.3,126.7L1042.9,126.2L1043.5,126.9L1044.4,127.1L1045.3,128.4L1046.1,127.6L1046.7,127.6L1047.8,127.5L1048.3,127.9L1049.4,127.9L1050.3,127.7L1051.2,127.7L1052.6,128.4L1052.3,127.0L1052.7,126.1L1052.9,125.0L1053.4,124.0L1053.3,123.2L1054.2,122.7L1054.7,122.0L1055.6,122.0L1056.3,122.2L1057.4,122.0L1057.8,122.6L1058.5,123.2L1059.6,123.3L1060.6,124.4L1061.7,124.6L1062.3,124.9L1063.0,125.6L1063.8,126.2L1065.0,126.8L1066.0,127.4L1066.6,128.8L1067.2,128.3L1067.8,127.5L1067.9,126.2L1067.6,125.5L1066.7,124.7L1065.8,124.0L1065.4,123.4L1065.2,122.4L1065.7,121.9L1066.0,120.9L1065.1,120.3L1065.0,119.4L1064.3,118.3L1064.3,117.0L1064.6,115.8L1064.5,114.8L1065.0,113.8L1065.4,113.0L1065.6,111.8L1066.0,110.8L1066.7,110.0L1067.0,108.6L1067.8,107.3L1068.5,106.7L1068.7,105.9L1069.9,106.1L1070.8,106.4L1071.9,106.4L1072.1,107.7L1072.8,108.7L1074.0,109.7L1073.3,110.3L1073.1,111.6L1072.9,112.4L1072.8,113.3L1073.2,114.5L1072.8,115.2L1073.6,116.3L1074.0,117.5L1073.6,118.9L1073.3,119.7L1073.7,120.7L1073.1,121.5L1072.7,122.0L1072.7,122.8L1072.9,123.7L1072.5,124.9L1073.8,125.8L1074.4,126.6L1074.5,127.5L1075.2,128.4L1074.7,129.8L1074.6,130.8L1074.6,132.2L1074.2,133.4L1074.0,134.1L1073.2,135.1L1072.7,136.3L1073.6,135.5L1075.1,135.1L1075.7,134.6L1075.8,133.6L1076.5,133.3L1077.2,132.2L1077.4,131.3L1077.6,130.7L1077.7,129.5L1077.4,128.7L1077.5,127.9L1077.2,127.4L1077.0,126.3L1076.9,124.7L1076.3,124.3L1075.9,123.4L1075.6,121.9L1076.3,120.6L1075.9,119.9L1075.6,118.7L1076.1,117.8L1076.0,117.2L1075.6,116.1L1076.1,115.3L1076.5,114.8L1076.7,113.8L1076.9,112.8L1078.0,111.9L1078.3,110.9L1078.3,110.2L1079.3,109.9L1080.0,109.9L1081.5,109.7L1082.2,109.3L1083.1,109.1L1083.4,108.4L1083.8,107.3L1084.8,106.6L1084.6,105.6L1085.2,104.5L1085.6,104.0L1086.3,103.1L1087.7,102.9L1088.8,102.5L1089.8,102.1L1090.4,101.9L1091.4,102.4L1092.8,102.5L1093.6,102.4L1094.6,101.6L1096.0,100.8L1095.7,99.7L1095.3,98.4L1095.6,97.4L1095.7,96.6L1096.8,95.4L1097.7,95.1L1098.5,95.2L1099.3,94.4L1100.5,93.9L1101.2,92.8L1101.4,91.6L1101.6,91.0L1102.5,90.5L1103.5,89.6L1104.4,89.9L1105.2,89.8L1105.6,88.5L1106.4,87.8L1107.6,87.4L1108.3,87.2L1109.5,87.4L1110.6,87.4L1111.3,87.1L1112.3,86.4L1113.0,86.1L1114.1,85.6L1115.3,85.2L1116.1,85.1L1116.4,84.2L1116.7,83.1L1117.7,82.7L1118.2,82.0L1119.3,81.6L1119.9,80.5L1120.7,80.0L1121.4,79.4L1122.3,78.7L1122.7,78.0L1123.0,77.3L1123.5,76.6L1124.6,75.7L1125.5,76.3L1126.3,77.0L1126.4,77.7L1127.3,78.7L1127.5,79.8L1127.5,80.4L1128.0,81.6L1129.2,82.2L1129.8,83.7L1130.5,83.8L1131.3,84.4L1132.3,84.3L1132.9,83.9L1134.1,83.3L1135.4,83.7L1135.6,84.4L1136.0,85.2L1136.2,86.0L1136.5,86.7L1137.4,87.4L1138.0,88.4L1139.4,89.1L1139.3,90.1L1139.1,91.0L1138.5,91.6L1139.0,92.6L1139.1,93.3L1138.4,94.7L1137.6,95.5L1138.0,96.5L1138.6,97.3L1138.4,98.5L1138.4,99.3L1138.6,100.2L1138.4,101.0L1137.4,101.7L1136.3,102.2L1135.4,102.5L1136.3,102.8L1136.8,103.6L1138.3,103.7L1139.4,103.7L1140.6,103.2L1141.4,103.1L1142.5,102.9L1143.4,102.5L1144.8,103.2L1145.8,103.5L1147.0,104.4L1148.3,105.3L1149.1,105.8L1150.0,105.9L1150.9,106.3L1151.6,106.3L1152.9,106.2L1153.6,106.3L1154.7,105.9L1155.9,105.9L1156.5,106.2L1157.1,107.0L1157.7,107.5L1158.1,108.5L1159.5,109.1L1160.5,108.4L1161.1,107.1L1162.2,107.0L1163.5,106.4L1164.2,107.1L1164.6,108.5L1164.8,109.3L1165.2,110.1L1166.4,111.1L1166.2,112.0L1166.7,113.0L1166.4,113.5L1165.9,114.4L1165.7,115.6L1165.9,116.3L1166.4,114.8L1167.2,114.3L1168.6,113.9L1169.2,113.3L1170.4,113.1L1171.5,113.4L1172.3,113.4L1173.5,113.6L1174.8,113.3L1175.6,113.0L1176.9,113.0L1177.7,113.2L1178.9,113.8L1180.4,113.8L1180.7,112.8L1181.4,111.9L1181.9,111.3L1182.2,110.5L1182.1,109.5L1182.0,108.6L1183.0,108.4L1184.5,108.0L1185.5,107.9L1186.8,108.1L1188.2,108.6L1189.2,109.8L1190.6,109.3L1191.6,109.1L1192.3,109.3L1193.3,109.7L1194.1,110.0L1194.8,110.8L1196.0,111.5L1196.9,112.7L1198.1,113.3L1199.0,114.6L1200.2,114.7L1200.8,115.2L1201.8,116.3L1202.9,116.8L1204.4,116.9L1205.2,117.2L1206.5,118.0L1208.0,118.0L1208.5,117.4L1209.4,116.8L1210.4,118.0L1211.4,118.5L1212.3,118.7L1212.6,119.8L1213.1,120.4L1214.2,121.1L1215.3,121.6L1216.2,122.0L1217.4,122.5L1218.9,122.9L1219.6,122.6L1220.5,122.8L1221.3,122.4L1222.2,122.5L1223.6,121.7L1224.8,122.2L1226.2,122.0L1227.8,121.9L1228.7,121.6L1229.4,121.4L1230.3,121.1L1230.5,122.4L1231.3,123.6L1231.7,124.4L1231.9,125.7L1232.5,124.9L1233.2,124.4L1234.2,124.1L1235.0,123.1L1235.1,122.0L1236.3,121.9L1237.0,121.9L1237.6,122.4L1238.5,122.6L1239.9,122.5L1241.1,122.8L1242.0,123.1L1243.1,123.9L1244.2,123.9L1244.9,124.2L1245.6,125.3L1246.3,126.2L1247.5,127.2L1247.9,128.5L1249.0,128.6L1249.6,129.2L1250.3,129.7L1251.2,129.8L1252.1,131.0L1252.9,131.5L1253.9,132.5L1254.4,133.5L1255.4,134.2L1256.7,134.2L1257.8,135.0L1258.6,134.9L1259.2,135.9L1260.3,136.6L1260.8,137.4L1261.8,138.3L1262.9,138.3L1262.1,138.4L1260.8,139.1L1260.0,140.3L1259.3,140.8L1258.2,141.8L1257.7,142.6L1257.6,144.1L1256.8,144.8L1255.8,144.9L1254.6,144.4L1254.1,143.6L1253.6,143.0L1252.3,142.7L1251.1,143.4L1250.4,143.7L1249.6,143.1L1249.0,142.5L1248.6,141.7L1247.9,141.1L1247.5,142.0L1246.9,142.6L1245.8,142.8L1245.4,143.3L1244.7,144.1L1244.1,144.7L1243.1,145.2L1242.9,146.3L1243.1,146.9L1242.7,148.0L1242.9,149.4L1242.8,150.3L1242.3,151.3L1241.0,151.4L1239.8,152.1L1239.0,152.7L1238.3,153.0L1237.1,153.6L1236.2,154.5L1235.3,155.3L1235.1,156.4L1233.8,157.1L1233.1,157.5L1232.8,158.6L1232.2,159.2L1231.1,159.7L1229.6,159.8L1228.3,159.4L1227.5,159.0L1226.2,159.0L1225.4,159.4L1224.0,159.5L1223.0,160.2L1222.2,160.3L1220.9,160.6L1219.8,161.3L1219.3,162.7L1219.5,163.6L1219.5,164.6L1219.3,165.9L1218.4,166.1L1217.4,166.5L1218.2,167.8L1218.7,168.8L1219.0,169.5L1219.0,171.0L1218.5,172.2L1217.4,173.2L1216.9,174.1L1216.7,174.7L1217.1,176.1L1216.6,176.5L1215.8,177.1L1215.3,178.5L1214.9,179.3L1214.2,180.1L1213.2,180.9L1211.8,180.9L1211.0,182.0L1210.2,182.2L1209.4,182.9L1208.9,183.8L1208.9,185.4L1208.5,184.3L1208.2,183.4L1207.7,182.8L1208.2,181.6L1208.4,180.8L1208.9,179.6L1208.3,178.5L1207.9,177.7L1207.2,176.7L1207.1,175.9L1206.9,174.7L1207.5,173.4L1207.1,171.8L1207.4,170.8L1207.4,169.5L1208.2,168.3L1208.4,167.4L1209.4,166.5L1210.0,165.9L1210.5,165.1L1211.6,165.0L1212.6,164.4L1213.1,163.5L1212.9,162.7L1213.4,161.5L1214.4,160.3L1215.8,159.7L1216.2,158.4L1217.0,158.0L1217.6,157.4L1218.8,156.8L1219.2,156.0L1219.8,154.7L1220.2,154.2L1220.4,153.2L1220.3,152.1L1220.6,151.3L1220.1,152.2L1219.6,152.7L1218.6,153.1L1218.2,153.7L1217.3,153.4L1216.3,153.9L1215.0,153.7L1214.5,154.3L1214.2,155.2L1213.4,155.7L1212.0,155.0L1211.5,155.3L1210.5,155.4L1209.6,154.5L1208.6,154.4L1207.8,155.8L1206.9,156.1L1206.2,156.9L1206.1,157.9L1206.1,159.4L1205.7,160.4L1205.4,161.4L1204.5,162.2L1203.2,161.9L1202.0,162.4L1200.5,162.5L1199.1,162.6L1198.1,162.5L1197.2,161.6L1196.5,161.6L1195.3,161.9L1194.6,162.1L1193.7,161.8L1192.8,161.9L1192.0,162.2L1190.9,161.6L1189.4,161.8L1188.6,161.7L1187.9,161.7L1186.8,161.9L1185.4,162.4L1184.7,163.4L1184.4,164.1L1183.9,165.0L1183.2,165.8L1182.0,166.5L1181.1,167.3L1180.4,168.3L1179.5,168.9L1178.7,169.1L1178.0,170.1L1177.0,171.1L1176.3,171.8L1176.2,172.6L1175.7,174.1L1174.8,175.2L1175.7,175.4L1176.4,175.7L1177.2,176.9L1178.1,176.4L1179.0,176.4L1180.4,176.9L1181.5,177.6L1182.4,178.8L1182.8,179.6L1183.2,181.1L1184.3,182.2L1184.0,183.2L1183.7,183.8L1183.9,185.2L1183.3,185.8L1183.0,186.6L1182.7,187.6L1182.9,188.4L1182.6,189.4L1182.7,190.8L1182.3,191.7L1182.2,192.6L1180.9,193.1L1180.4,194.2L1179.7,195.5L1179.5,196.6L1178.8,197.5L1178.8,198.8L1178.2,199.4L1177.8,200.0L1177.0,200.1L1176.4,200.9L1175.5,201.8L1175.4,202.5L1174.6,202.7L1174.0,203.4L1172.8,204.1L1171.7,204.0L1170.8,204.7L1169.9,204.4L1168.8,203.8L1167.9,204.2L1167.1,205.4L1165.5,207.5L1165.1,209.0L1163.5,210.7L1161.9,211.8L1163.2,213.8L1164.7,216.3L1165.0,218.9L1164.5,220.5L1161.9,221.6L1160.2,221.8L1160.3,219.9L1160.5,217.3L1159.8,215.5L1158.2,215.3L1158.4,213.6L1157.6,211.8L1156.8,210.9L1154.7,211.5L1152.3,212.8L1152.8,210.3L1153.6,209.4L1151.5,209.0L1149.9,210.3L1148.3,212.4L1146.6,212.4L1146.0,213.6L1147.4,214.9L1148.3,216.3L1150.7,215.3L1153.9,216.1L1153.4,217.3L1151.0,218.7L1148.7,220.9L1150.3,222.2L1151.3,225.5L1152.9,227.2L1152.9,228.7L1151.8,229.8L1153.2,230.6L1152.3,233.0L1150.8,235.0L1149.4,237.7L1148.7,238.7L1147.4,240.2L1145.5,241.8L1143.9,243.2L1141.8,243.5L1139.7,243.9L1138.6,244.7L1136.2,245.6L1134.4,246.1L1134.1,247.7L1133.3,245.6L1131.4,245.4L1129.8,246.4L1128.3,247.7L1127.0,249.9L1128.2,251.6L1129.3,254.1L1131.0,255.8L1132.2,258.3L1132.7,260.7L1132.0,262.7L1129.8,264.0L1128.3,265.5L1126.1,267.1L1125.4,265.5L1125.7,264.2L1124.8,264.2L1123.3,263.9L1121.7,261.6L1120.1,260.4L1119.1,259.1L1117.7,259.3L1117.5,261.2L1116.4,264.3L1117.4,266.1L1118.2,267.6L1118.7,269.4L1120.1,270.0L1121.2,271.0L1122.8,272.5L1123.2,274.6L1123.3,276.5L1124.5,278.7L1123.3,278.9L1121.7,277.8L1119.8,276.3L1118.7,274.2L1118.2,272.1L1118.0,270.5L1117.1,269.4L1115.4,267.9L1115.0,266.5L1115.4,264.0L1115.3,261.6L1114.8,259.1L1113.8,255.8L1113.0,253.4L1111.3,253.9L1110.0,255.3L1108.5,254.9L1108.9,252.4L1108.1,249.9L1106.4,248.5L1105.3,247.0L1104.8,245.6L1104.5,244.0L1102.6,244.2L1100.8,244.9L1099.2,245.2L1096.8,245.9L1096.0,247.7L1093.6,249.2L1092.0,251.1L1089.2,253.3L1087.6,254.4L1085.9,256.1L1085.7,259.1L1085.2,262.4L1084.4,264.3L1083.8,266.1L1082.6,266.6L1081.5,267.9L1079.9,266.5L1078.8,263.2L1077.2,260.2L1076.1,256.9L1074.9,254.1L1074.0,249.9L1074.0,247.3L1073.6,245.8L1073.0,244.4L1070.7,246.8L1067.9,244.0L1069.9,243.2L1067.5,241.9L1065.4,241.4L1064.0,238.7L1060.6,239.1L1056.0,239.1L1051.8,238.7L1049.0,238.0L1047.9,235.7L1045.0,236.8L1042.1,235.9L1039.6,234.3L1037.6,230.4L1035.5,229.6L1034.1,230.4L1033.9,232.2L1035.0,234.1L1036.5,235.9L1037.6,237.1L1038.6,239.8L1039.9,238.9L1039.4,240.7L1042.1,241.1L1044.5,240.7L1046.3,238.6L1047.4,237.3L1047.6,240.3L1049.4,241.9L1051.5,242.1L1053.1,244.0L1051.8,246.4L1050.6,247.5L1049.7,249.9L1048.2,250.6L1045.8,252.4L1042.1,253.8L1040.5,255.3L1037.3,256.6L1034.9,258.3L1031.7,259.3L1029.3,260.2L1026.8,260.4L1026.4,258.6L1025.6,255.8L1025.2,253.6L1023.6,250.7L1022.0,248.2L1019.9,245.6L1019.3,243.0L1017.2,240.3L1015.6,237.7L1014.0,234.4L1012.9,231.7L1013.0,231.3L1011.9,228.0L1012.5,226.6L1013.2,224.7L1014.0,222.8L1014.6,220.5L1015.1,217.7L1014.0,217.7L1012.5,217.3L1010.0,218.7L1008.4,217.9L1006.1,217.5L1004.3,218.5L1001.9,217.3L1000.8,216.5L999.5,213.8L1000.0,212.2L999.0,211.1L999.5,210.1L998.7,209.4L997.1,208.8L995.2,209.2L993.6,209.7L994.7,211.8L993.6,213.2L995.5,214.4L993.9,215.9L993.6,217.9L992.3,217.3L991.6,216.3L990.8,214.2L990.2,212.6L989.1,211.3L988.1,209.9L988.3,206.9L986.6,205.4L985.0,204.3L982.6,203.2L981.3,201.4L980.2,199.3L978.9,199.6L978.8,198.0L976.7,199.1L976.8,201.6L978.8,203.2L980.2,206.0L982.6,207.7L985.0,209.4L986.6,210.5L984.2,212.8L983.6,214.0L982.1,214.9L982.1,212.2L981.0,210.3L979.1,208.4L976.2,206.7L974.6,205.1L973.3,202.3L971.1,201.2L969.0,202.5L967.4,204.0L964.1,203.2L961.9,204.0L962.0,206.5L960.1,208.2L958.2,208.6L956.9,210.7L956.4,212.2L957.2,213.4L955.8,215.7L953.5,217.5L949.8,217.5Z" fill="none" stroke="#d6d6d9" stroke-width="0.6" mask="url(#m_eu_g)"/>
<path d="M947.7,187.9L950.1,186.9L952.1,186.1L954.5,186.1L957.7,185.9L959.2,184.8L958.3,183.3L959.6,181.2L958.5,180.1L957.2,178.8L956.6,176.9L955.0,175.5L954.3,173.0L952.9,171.8L952.1,171.5L953.2,170.1L954.0,167.4L952.1,166.8L950.5,167.1L951.9,164.1L948.9,164.1L948.2,166.2L947.6,168.9L947.9,171.0L946.9,171.8L948.1,173.5L949.2,174.7L948.9,175.5L951.3,174.9L951.8,177.2L952.1,179.1L949.7,179.1L949.7,180.7L950.5,182.0L948.5,183.3L950.5,184.1L952.1,184.6L949.7,185.1Z" fill="#f5f8d4" stroke="#7d886f" stroke-width="0.6" />
<path d="M947.3,182.2L946.9,178.8L947.3,176.9L947.9,175.5L946.4,174.1L944.8,173.8L943.6,174.4L943.2,176.6L940.8,176.9L941.3,178.8L941.6,181.2L940.3,182.8L941.1,184.1L943.2,183.8L945.6,182.5Z" fill="#ececee" stroke="#dcdcdc" stroke-width="0.6" />
<path d="M921.5,145.9L918.3,142.6L920.7,140.3L917.8,139.9L919.9,137.1L922.3,138.7L924.7,137.9L928.0,137.5L931.2,136.3L933.6,138.3L935.0,141.4L933.6,144.5L931.2,145.9L928.0,148.1L924.7,147.4Z" fill="#ececee" stroke="#e2e2e2" stroke-width="0.6" />
<path d="M974.6,69.5L978.6,73.4L981.8,80.9L984.2,83.7L985.8,77.2L990.7,71.9L986.6,67.0L984.2,61.1L981.0,58.4L974.6,60.2Z" fill="#f0f0f0" stroke="#e8e8e8" stroke-width="0.6" />
<path d="M986.6,61.1L992.3,63.7L1000.3,58.4L995.5,52.8L988.3,52.8Z" fill="#f0f0f0" stroke="#e8e8e8" stroke-width="0.6" />
<path d="M990.7,77.2L995.5,78.7L993.9,71.9L990.7,73.4Z" fill="#f0f0f0" stroke="#e8e8e8" stroke-width="0.6" />
<path d="M1028.9,52.8L1029.7,52.8L1030.8,53.5L1031.7,54.1L1032.2,54.7L1032.0,53.5L1032.2,52.3L1032.6,51.5L1033.8,50.8L1033.1,49.4L1032.0,49.1L1030.9,48.8L1029.7,49.4L1029.3,50.9L1028.6,51.8Z" fill="#e4e8de" stroke="#9a9a9a" stroke-width="0.7"/>
<path d="M1034.9,54.7L1035.5,55.4L1036.1,56.1L1036.9,56.5L1038.1,56.5L1039.1,56.4L1039.5,55.2L1039.2,54.3L1038.9,52.8L1038.0,52.1L1037.7,51.5L1036.7,51.3L1036.0,51.8L1035.0,52.7L1034.4,53.9Z" fill="#e4e8de" stroke="#9a9a9a" stroke-width="0.7"/>
<path d="M1041.3,53.7L1042.4,54.4L1043.3,55.0L1044.5,55.6L1044.2,54.8L1043.8,53.8L1044.5,52.5L1045.3,51.8L1044.1,52.5L1043.1,51.9L1042.1,50.8L1042.4,52.2L1041.6,53.1Z" fill="#e4e8de" stroke="#9a9a9a" stroke-width="0.7"/>
<path d="M1037.6,48.8L1038.4,50.0L1039.3,50.6L1040.5,49.8L1040.3,48.5L1040.4,47.1L1041.1,46.6L1041.3,45.8L1040.4,45.4L1039.5,45.5L1038.6,44.7L1038.8,45.8L1039.0,47.1L1037.8,47.9Z" fill="#e4e8de" stroke="#9a9a9a" stroke-width="0.7"/>
<path d="M1042.9,47.8L1044.4,48.0L1045.8,48.5L1046.6,48.8L1047.1,47.9L1047.4,46.7L1047.8,45.4L1047.4,44.8L1047.3,43.7L1046.5,44.4L1045.2,44.5L1044.1,43.7L1043.1,44.7L1043.4,45.5L1042.8,46.5Z" fill="#e4e8de" stroke="#9a9a9a" stroke-width="0.7"/>
<path d="M1046.1,41.5L1047.4,42.1L1048.5,42.1L1049.4,42.6L1050.2,41.4L1049.8,40.3L1050.2,39.3L1049.5,38.5L1048.6,38.3L1047.6,38.1L1046.9,38.2L1046.2,39.0L1046.4,40.3Z" fill="#e4e8de" stroke="#9a9a9a" stroke-width="0.7"/>
<path d="M1048.6,52.8L1049.3,53.3L1050.5,53.3L1051.3,53.7L1052.6,53.7L1052.6,52.5L1053.4,52.0L1052.8,50.6L1053.4,49.8L1051.9,49.9L1050.9,50.1L1050.5,49.3L1049.8,48.8L1049.9,49.6L1050.1,50.6L1049.2,51.4Z" fill="#e4e8de" stroke="#9a9a9a" stroke-width="0.7"/>
<path d="M1054.2,50.8L1055.6,50.2L1056.7,49.7L1057.8,49.1L1059.0,49.8L1059.1,48.8L1059.8,47.5L1060.2,46.4L1060.3,45.3L1059.8,44.7L1059.0,45.2L1057.8,45.2L1056.8,44.1L1056.1,44.5L1055.0,44.7L1054.5,46.2L1054.2,47.4L1053.3,47.6L1054.5,48.5L1054.0,49.8Z" fill="#e4e8de" stroke="#9a9a9a" stroke-width="0.7"/>
<path d="M1051.0,46.8L1051.9,47.5L1053.4,46.8L1053.8,45.3L1053.4,44.6L1053.1,43.7L1051.9,44.6L1051.0,45.0L1050.9,45.7Z" fill="#e4e8de" stroke="#9a9a9a" stroke-width="0.7"/>
<path d="M1042.1,118.3L1043.2,118.4L1044.0,118.8L1045.3,118.3L1046.7,117.8L1047.6,117.8L1048.5,118.0L1049.4,117.8L1048.5,116.5L1047.9,115.3L1047.8,113.8L1046.8,112.6L1046.4,112.1L1046.2,111.1L1046.4,109.8L1046.6,109.1L1046.6,107.8L1046.6,107.1L1047.4,106.3L1048.1,105.5L1048.2,104.8L1049.3,104.1L1049.7,102.8L1050.5,101.4L1050.4,100.1L1051.0,99.0L1051.8,98.1L1052.7,97.6L1053.5,97.0L1054.0,96.5L1055.0,95.3L1055.3,93.9L1055.0,92.9L1055.9,91.8L1057.0,91.8L1057.6,91.5L1058.1,91.1L1058.5,90.2L1059.3,89.6L1059.8,88.4L1060.8,87.4L1061.4,87.2L1062.6,87.3L1063.0,86.6L1063.6,86.1L1064.4,85.9L1065.4,85.8L1066.0,85.0L1066.4,84.2L1066.7,83.3L1067.9,82.3L1067.3,81.5L1066.7,80.9L1066.2,80.2L1064.8,80.6L1063.9,81.1L1063.3,81.4L1062.1,81.6L1061.3,81.7L1060.6,81.1L1059.8,80.9L1058.6,80.7L1057.8,81.2L1056.9,81.9L1056.3,82.9L1055.4,83.0L1054.7,83.2L1053.4,83.7L1052.9,84.4L1052.3,85.3L1052.0,86.5L1050.6,87.0L1050.1,87.9L1049.4,89.1L1048.6,90.1L1048.1,90.4L1048.0,91.7L1047.8,92.5L1046.9,93.3L1046.3,94.3L1046.1,95.4L1045.8,96.6L1046.2,97.5L1045.4,98.6L1044.9,99.2L1044.7,100.1L1043.8,100.8L1043.9,102.2L1043.7,103.1L1042.9,103.7L1042.7,104.7L1042.8,106.0L1043.1,107.4L1043.4,108.4L1043.6,109.0L1043.1,110.3L1041.8,111.2L1041.3,112.3L1041.7,113.6L1042.6,114.5L1042.2,115.8L1042.2,116.8Z" fill="#cfebbd" stroke="#7d886f" stroke-width="0.6"/>
<path d="M1051.0,121.1L1051.6,121.6L1052.7,121.8L1054.2,122.0L1053.5,120.6L1053.1,119.6L1053.1,118.7L1052.8,119.7L1051.8,120.3Z" fill="#cfebbd" stroke="#7d886f" stroke-width="0.6"/>
<path d="M1243.9,116.3L1245.3,116.1L1245.9,115.3L1246.6,115.1L1247.2,115.4L1248.4,115.6L1249.6,115.3L1248.1,114.8L1247.8,114.1L1247.1,113.3L1246.0,113.7L1244.8,114.0L1243.9,113.8L1243.9,115.3Z" fill="#cfebbd" stroke="#7d886f" stroke-width="0.6"/>
<path d="M1185.2,197.5L1186.1,196.6L1186.7,196.1L1187.6,195.6L1187.1,195.1L1187.0,193.7L1186.1,192.5L1186.8,191.5L1186.8,190.4L1188.0,190.6L1189.3,190.4L1189.2,189.3L1189.0,188.5L1189.1,187.0L1188.4,185.9L1187.3,185.4L1187.8,184.0L1187.6,182.9L1187.8,181.7L1187.1,180.8L1187.2,180.1L1186.9,178.7L1187.1,177.6L1186.5,176.6L1186.5,177.7L1185.6,178.2L1185.2,178.8L1185.0,179.8L1185.3,180.8L1185.0,181.9L1184.8,182.8L1184.8,183.8L1185.3,184.7L1184.8,185.8L1185.0,186.7L1185.2,187.9L1185.4,188.9L1185.7,189.5L1185.9,190.4L1185.5,191.7L1185.2,192.8L1184.8,194.2L1184.8,195.1L1185.1,196.3Z" fill="#cfebbd" stroke="#7d886f" stroke-width="0.6"/>
<path d="M1109.7,65.4L1110.8,66.1L1111.1,67.1L1111.5,67.8L1112.3,68.7L1113.4,68.8L1114.7,68.9L1115.4,69.5L1115.9,70.0L1117.0,70.7L1117.7,71.9L1118.6,71.5L1119.3,71.6L1120.4,70.5L1121.6,70.2L1122.8,70.3L1124.1,69.5L1123.7,68.7L1122.6,67.8L1121.6,66.8L1121.0,65.7L1120.6,64.7L1120.7,63.5L1120.5,62.7L1120.8,61.9L1120.9,61.1L1120.9,59.6L1120.2,58.7L1119.2,57.7L1119.1,56.9L1119.0,56.0L1118.3,55.3L1117.7,54.7L1116.9,54.0L1116.2,53.4L1115.7,52.9L1115.0,52.0L1114.6,51.4L1113.5,51.3L1112.9,50.8L1111.6,51.2L1111.0,52.0L1110.7,52.8L1109.6,53.3L1108.6,54.2L1108.7,55.1L1108.1,56.6L1108.2,57.3L1108.7,58.1L1108.3,59.5L1107.8,60.6L1107.2,61.1L1107.8,62.0L1107.9,62.9L1108.6,63.9L1108.9,64.5Z" fill="#cfebbd" stroke="#7d886f" stroke-width="0.6"/>
<path d="M1104.8,51.8L1106.3,51.1L1107.1,50.6L1107.7,49.7L1108.0,48.8L1108.3,47.8L1107.9,46.6L1109.1,45.7L1109.7,44.7L1110.2,45.3L1110.7,46.5L1110.8,47.8L1111.6,48.4L1112.9,48.8L1111.4,49.2L1110.7,49.7L1109.6,50.9L1108.9,52.1L1108.9,53.7L1107.7,53.7L1106.3,52.9L1105.9,52.3Z" fill="#cfebbd" stroke="#7d886f" stroke-width="0.6"/>
<path d="M1175.6,91.0L1176.4,91.2L1177.4,91.7L1178.3,92.5L1179.3,92.8L1180.5,93.1L1180.9,93.6L1182.0,94.2L1183.0,94.0L1183.5,93.6L1184.6,92.7L1185.3,92.9L1186.6,92.9L1187.6,92.5L1188.1,91.6L1188.5,91.0L1189.4,91.1L1190.2,90.8L1191.2,89.8L1192.4,89.7L1193.1,89.9L1194.2,90.4L1194.8,91.1L1195.6,91.9L1196.6,92.0L1197.3,92.3L1196.5,91.8L1195.5,91.4L1194.5,90.7L1193.3,90.7L1192.6,89.7L1191.7,88.9L1190.6,88.5L1190.1,87.8L1189.4,87.8L1188.5,88.5L1187.9,88.6L1186.9,88.8L1185.9,88.6L1185.1,88.6L1184.4,88.1L1183.8,87.6L1183.3,86.8L1182.0,86.4L1180.9,86.6L1180.1,87.0L1179.1,87.2L1178.0,87.8L1177.5,89.0L1177.4,89.8L1176.3,90.1Z" fill="#cfebbd" stroke="#7d886f" stroke-width="0.6"/>
<path d="M1179.6,99.0L1180.8,99.7L1181.5,100.1L1182.4,100.3L1183.6,100.8L1184.6,99.9L1185.3,99.5L1186.0,98.4L1185.3,97.4L1184.4,96.6L1183.6,96.6L1182.7,96.9L1181.2,96.6L1180.7,97.3L1180.3,98.2Z" fill="#cfebbd" stroke="#7d886f" stroke-width="0.6"/>
<path d="M1191.7,202.5L1194.9,199.8L1198.1,196.8L1201.3,194.0L1204.5,190.8L1206.9,187.4L1208.6,185.9" fill="none" stroke="#7d886f" stroke-width="0.8" stroke-dasharray="1.5,1.5"/>
<path d="M1167.4,222.8L1168.4,221.8L1170.8,219.9L1174.8,219.5L1176.7,216.5L1177.7,217.3L1179.6,215.9L1181.2,213.8L1182.0,210.7L1182.0,208.2L1184.1,208.0L1184.4,209.7L1185.2,211.8L1183.6,214.2L1183.5,216.9L1183.3,219.5L1182.0,220.9L1180.4,221.4L1177.2,221.6L1175.6,223.8L1174.0,223.2L1174.3,221.6L1170.8,222.0L1168.4,222.8Z" fill="#b8e2c0" stroke="#7d886f" stroke-width="0.6" />
<path d="M1182.0,207.5L1183.6,206.9L1184.8,205.1L1187.3,206.5L1190.9,203.6L1190.1,202.1L1186.8,200.9L1184.9,198.9L1184.4,202.1L1182.8,203.8L1182.0,205.6Z" fill="#b8e2c0" stroke="#7d886f" stroke-width="0.6" />
<path d="M1165.5,224.7L1167.4,223.0L1169.0,224.3L1168.4,227.6L1166.9,228.5L1166.3,226.6L1165.6,225.5Z" fill="#b8e2c0" stroke="#7d886f" stroke-width="0.6" />
<path d="M1170.0,224.7L1171.6,222.2L1173.5,222.4L1173.2,223.8L1170.8,225.1Z" fill="#b8e2c0" stroke="#7d886f" stroke-width="0.6" />
<path d="M1150.0,243.0L1151.5,238.9L1153.1,239.5L1152.3,242.1L1151.1,244.7Z" fill="#f5f8d4" stroke="#7d886f" stroke-width="0.6" />
<path d="M1131.7,249.5L1133.8,248.0L1135.4,248.7L1134.6,250.6L1133.0,251.2Z" fill="#8fa9b8" stroke="#7d886f" stroke-width="0.6" />
<path d="M1167.5,282.6L1169.2,281.6L1172.4,282.6L1174.0,286.3L1178.0,283.4L1183.6,285.2L1183.6,295.7L1180.4,294.1L1178.5,294.6L1179.6,291.5L1178.0,289.1L1174.0,288.1L1170.8,287.4L1169.2,285.5L1170.8,284.7Z" fill="#ececee" stroke="#dcdcdc" stroke-width="0.6" />
<path d="M1183.6,285.2L1188.5,287.1L1191.3,289.5L1194.1,290.7L1194.9,293.9L1198.1,297.5L1194.9,297.5L1191.7,293.9L1188.5,293.3L1186.8,295.5L1183.6,295.7Z" fill="#f5f8d4" stroke="#7d886f" stroke-width="0.6" />
<path d="M1150.7,250.7L1153.4,250.7L1153.1,253.3L1152.4,255.3L1153.9,257.9L1156.3,259.9L1156.0,260.4L1153.1,258.6L1151.0,257.8L1149.9,255.8L1150.5,254.1Z" fill="#f5f8d4" stroke="#7d886f" stroke-width="0.6" />
<path d="M1153.1,261.9L1158.7,260.7L1159.0,264.8L1160.3,268.1L1159.8,270.8L1158.7,272.0L1156.3,270.5L1153.1,269.7L1154.7,267.3L1153.9,264.8L1152.9,263.2Z" fill="#f5f8d4" stroke="#7d886f" stroke-width="0.6" />
<path d="M1145.4,267.4L1149.1,264.0L1149.5,262.9L1147.4,265.2Z" fill="#f5f8d4" stroke="#7d886f" stroke-width="0.6" />
<path d="M1132.2,278.6L1133.1,277.8L1135.4,278.1L1138.6,275.9L1141.8,272.9L1143.4,270.5L1145.5,270.0L1148.3,272.5L1146.6,274.1L1146.2,276.2L1147.4,279.4L1145.8,281.0L1144.7,283.4L1144.2,286.1L1142.6,287.3L1141.0,286.6L1138.6,286.1L1136.2,285.8L1134.1,285.7L1133.8,283.4L1132.2,281.0Z" fill="#f5f8d4" stroke="#7d886f" stroke-width="0.6" />
<path d="M1110.1,272.1L1113.7,272.6L1115.3,274.6L1118.5,277.8L1121.7,280.2L1123.8,282.6L1126.5,285.8L1127.3,290.3L1124.9,290.5L1121.7,287.4L1119.3,285.0L1117.7,282.6L1116.1,279.4L1113.7,277.0L1110.5,273.8Z" fill="#f5f8d4" stroke="#7d886f" stroke-width="0.6" />
<path d="M1126.1,292.0L1128.2,290.7L1131.4,291.5L1134.6,292.0L1137.8,292.1L1141.0,293.6L1141.0,295.0L1137.0,294.4L1133.8,294.1L1130.6,293.6L1127.3,292.9Z" fill="#f5f8d4" stroke="#7d886f" stroke-width="0.6" />
<path d="M1148.7,289.9L1149.1,286.6L1147.9,285.0L1149.5,281.0L1150.7,279.4L1154.7,279.6L1157.9,278.6L1157.1,280.2L1152.3,280.2L1151.5,282.6L1155.2,282.6L1152.3,284.2L1153.9,288.2L1151.5,288.2L1150.7,285.8L1150.3,289.9Z" fill="#f5f8d4" stroke="#7d886f" stroke-width="0.6" />
<path d="M1143.1,294.2L1148.3,294.4L1148.3,295.2L1143.4,295.4Z" fill="#f5f8d4" stroke="#7d886f" stroke-width="0.6" />
<path d="M1149.5,294.6L1154.7,294.2L1154.7,295.0L1149.9,295.2Z" fill="#f5f8d4" stroke="#7d886f" stroke-width="0.6" />
<path d="M1156.3,297.5L1161.1,294.6L1157.9,296.2Z" fill="#f5f8d4" stroke="#7d886f" stroke-width="0.6" />
<path d="M1161.9,278.6L1163.5,277.5L1162.7,280.2Z" fill="#f5f8d4" stroke="#7d886f" stroke-width="0.6" />
<path d="M1159.5,286.1L1161.9,285.8L1161.1,287.1Z" fill="#f5f8d4" stroke="#7d886f" stroke-width="0.6" />
<path d="M1162.7,286.1L1166.7,285.8L1165.9,287.1Z" fill="#f5f8d4" stroke="#7d886f" stroke-width="0.6" />
<path d="M1198.1,289.9L1201.3,287.8L1201.3,290.3Z" fill="#f5f8d4" stroke="#7d886f" stroke-width="0.6" />
<path d="M1195.7,289.9L1198.9,289.4L1196.5,290.7Z" fill="#f5f8d4" stroke="#7d886f" stroke-width="0.6" />
<path d="M1085.4,271.2L1085.1,268.1L1085.5,265.3L1087.5,267.1L1088.6,269.7L1088.0,271.0L1086.3,271.5Z" fill="#f5f8d4" stroke="#7d886f" stroke-width="0.6" />
<path d="M1008.8,221.4L1011.6,220.9L1012.4,219.7L1010.0,220.1Z" fill="#f5f8d4" stroke="#7d886f" stroke-width="0.6" />
<path d="M994.7,220.3L999.2,220.5L997.1,220.9L995.5,220.7Z" fill="#f5f8d4" stroke="#7d886f" stroke-width="0.6" />
<path d="M976.8,214.9L982.0,214.4L981.2,217.5L977.2,215.7Z" fill="#f5f8d4" stroke="#7d886f" stroke-width="0.6" />
<path d="M970.1,208.8L972.3,208.4L972.5,212.4L970.6,212.8Z" fill="#f5f8d4" stroke="#7d886f" stroke-width="0.6" />
<path d="M970.7,207.7L972.0,207.7L972.2,204.3L970.9,205.1Z" fill="#f5f8d4" stroke="#7d886f" stroke-width="0.6" />
<path d="M947.4,219.3L946.8,220.9L945.8,222.8L943.2,224.2L941.9,225.7L941.1,228.5L941.3,230.6L940.0,231.9L938.4,233.5L936.2,234.3L935.0,235.9L933.6,237.3L932.8,239.5L931.2,241.6L930.4,243.9L929.6,246.4L930.7,248.2L930.4,249.9L931.0,251.6L930.4,254.1L929.6,256.1L928.8,257.1L929.9,258.6L930.0,260.9L932.0,262.2L933.6,263.9L935.2,265.2L935.7,267.0L936.8,268.7L938.4,269.9L940.0,271.0L942.4,272.9L944.8,273.9L947.3,272.9L950.5,272.6L953.7,273.3L955.3,272.8L958.5,271.5L960.9,270.8L963.3,270.7L964.9,271.7L965.9,273.8L967.4,274.1L969.0,273.8L970.6,273.6L972.2,274.9L972.7,277.0L972.2,279.4L971.9,281.8L971.1,282.6L972.2,285.0L974.6,287.1L975.9,288.7L976.7,290.8L977.8,293.1L978.4,295.5L977.8,298.8L977.0,302.9L976.2,306.2L975.9,309.3L977.0,312.1L978.6,315.2L980.2,318.7L980.7,322.5L981.5,326.1L983.4,329.0L984.7,332.5L986.2,336.3L986.5,339.6L988.3,340.4L989.1,340.8L992.3,339.4L995.5,339.4L998.2,339.2L1000.3,338.2L1002.7,336.3L1005.1,333.9L1006.7,331.4L1009.0,328.8L1009.8,325.2L1010.0,323.3L1013.2,321.7L1014.0,319.0L1013.7,316.4L1012.9,313.8L1014.8,311.8L1017.2,309.6L1019.6,307.9L1022.0,305.4L1022.2,301.3L1022.0,298.0L1020.4,293.9L1020.1,291.5L1019.3,289.9L1020.4,288.2L1021.5,285.8L1022.8,284.2L1024.4,282.6L1026.8,280.2L1029.3,277.8L1031.7,275.4L1034.1,272.9L1035.7,269.7L1038.1,265.7L1039.4,263.2L1039.2,261.9L1037.3,262.4L1034.9,262.9L1031.7,263.5L1028.5,264.2L1026.8,262.5L1025.7,261.6L1026.5,260.7L1024.4,258.3L1022.8,256.6L1020.4,255.8L1018.8,251.6L1016.9,249.9L1016.4,246.4L1015.1,243.9L1014.0,241.2L1012.4,238.0L1010.9,235.2L1009.3,231.3L1009.2,230.6L1010.8,233.5L1012.1,234.4L1013.0,231.3L1011.9,228.0L1009.2,228.3L1006.7,227.4L1005.1,228.0L1003.5,228.7L1001.1,228.0L997.4,227.4L995.5,226.6L993.9,225.3L991.5,224.9L989.1,226.3L989.1,228.5L987.5,229.8L985.0,228.7L981.8,227.4L981.3,226.1L977.8,224.9L975.4,224.3L973.8,223.2L974.7,220.5L973.9,218.1L973.3,216.5L971.4,216.5L969.0,216.9L966.5,217.1L963.3,217.1L960.1,217.7L956.9,219.1L954.5,220.5L952.9,220.5L949.7,220.5L948.4,219.1Z" fill="#f5f8d4" stroke="none" stroke-width="0.6" />
<g clip-path="url(#afr)">
<path d="M935.7,234.6L942.9,234.6L942.9,235.3L949.2,239.5L958.8,246.4L963.7,249.5L966.5,249.0L971.4,245.6L976.2,242.1L979.4,243.0L981.8,243.0L981.8,247.3L979.4,255.8L978.8,258.8L977.0,259.7L973.0,259.6L969.0,259.7L964.9,258.6L962.7,262.1L961.4,266.5L961.2,270.7L961.2,271.3L944.0,275.4L934.4,268.1L929.2,261.2L930.0,260.9L934.9,260.4L937.1,260.9L938.6,260.9L938.4,259.1L937.3,257.1L936.0,255.8L933.6,253.9L930.4,254.8L928.8,254.8L928.3,246.4L930.4,241.2L934.4,234.6Z" fill="#e6e6ea" stroke="#8a957c" stroke-width="0.6" />
<path d="M975.4,224.3L973.5,227.6L973.0,230.4L972.2,235.0L973.0,238.9L976.2,242.1L979.4,243.0L981.0,243.0L995.5,249.0L995.5,248.2L997.1,248.2L997.1,244.7L997.1,231.3L997.4,227.4L997.4,224.7L975.4,222.8Z" fill="#e6e6ea" stroke="#8a957c" stroke-width="0.6" />
<path d="M980.2,277.5L980.2,273.8L981.0,271.3L980.2,268.9L981.8,268.9L985.0,268.3L987.5,266.5L990.7,264.0L993.1,263.2L994.7,264.8L996.3,266.5L999.5,265.7L1001.9,265.7L1005.1,264.8L1008.4,261.2L1010.3,261.2L1011.6,264.8L1011.6,267.3L1010.0,268.4L1012.4,271.3L1013.2,273.6L1011.6,274.2L1010.8,274.9L1006.7,275.0L1004.3,273.8L1001.9,273.8L1001.1,272.6L997.9,272.9L993.1,274.2L989.9,273.9L987.5,274.9L986.6,275.2L983.4,275.4L982.6,277.5Z" fill="#e6e6ea" stroke="#8a957c" stroke-width="0.6" />
<path d="M972.7,277.3L975.1,277.5L978.3,277.5L980.2,277.5L982.6,277.5L983.4,275.4L986.6,275.2L985.4,279.4L984.2,283.4L983.1,285.0L982.3,287.4L980.2,288.7L977.0,289.1L976.2,289.1L973.0,287.4L970.6,282.6L971.4,278.6Z" fill="#e6e6ea" stroke="#8a957c" stroke-width="0.6" />
<path d="M1026.0,263.2L1027.7,266.5L1033.8,268.1L1029.3,272.9L1027.7,273.1L1024.4,274.6L1022.8,274.7L1022.8,279.4L1023.6,283.7L1024.4,285.8L1040.5,264.8L1040.5,260.7L1026.5,262.4Z" fill="#e6e6ea" stroke="#8a957c" stroke-width="0.6" />
<path d="M975.9,309.3L978.6,309.4L986.6,309.4L990.7,310.4L994.5,309.8L997.4,310.1L1000.3,308.7L1002.7,307.1L1005.8,306.4L1009.8,308.2L1009.6,312.1L1009.2,315.6L1007.2,318.0L1004.2,317.6L1001.1,320.1L998.7,322.0L997.1,323.8L993.9,323.1L989.1,322.2L989.1,328.7L985.8,329.6L983.4,329.0L981.0,329.8L976.2,317.3L974.6,309.3Z" fill="#e6e6ea" stroke="#8a957c" stroke-width="0.6" />
<path d="M929.6,245.9L936.0,245.9L936.0,243.0L937.6,242.1L937.6,237.7L942.9,237.7L942.9,235.3" fill="none" stroke="#d4d4d8" stroke-width="0.5"/>
<path d="M937.3,257.1L938.4,255.8L948.1,255.8L948.4,254.1L947.3,246.4L949.2,239.5" fill="none" stroke="#d4d4d8" stroke-width="0.5"/>
<path d="M963.7,249.5L962.2,256.1L958.5,256.6L957.2,256.8" fill="none" stroke="#d4d4d8" stroke-width="0.5"/>
<path d="M938.6,260.9L943.2,263.2L948.1,264.2L948.1,262.4L950.5,258.3L957.2,256.8L959.3,259.9L962.7,262.1" fill="none" stroke="#d4d4d8" stroke-width="0.5"/>
<path d="M935.7,267.0L938.4,264.8L940.0,267.3L943.2,268.7L944.8,267.3L944.0,264.8" fill="none" stroke="#d4d4d8" stroke-width="0.5"/>
<path d="M944.8,273.9L943.6,270.5L944.8,267.3" fill="none" stroke="#d4d4d8" stroke-width="0.5"/>
<path d="M952.1,272.9L952.4,268.1L952.9,263.2" fill="none" stroke="#d4d4d8" stroke-width="0.5"/>
<path d="M957.7,263.2L957.7,271.0" fill="none" stroke="#d4d4d8" stroke-width="0.5"/>
<path d="M959.6,271.0L958.5,263.2" fill="none" stroke="#d4d4d8" stroke-width="0.5"/>
<path d="M948.1,262.4L952.9,263.2L957.7,263.2L960.6,261.6" fill="none" stroke="#d4d4d8" stroke-width="0.5"/>
<path d="M993.1,274.2L994.7,264.8" fill="none" stroke="#d4d4d8" stroke-width="0.5"/>
<path d="M1001.1,272.6L999.5,265.7" fill="none" stroke="#d4d4d8" stroke-width="0.5"/>
<path d="M989.1,322.2L989.1,317.3L990.7,310.4" fill="none" stroke="#d4d4d8" stroke-width="0.5"/>
<path d="M998.7,322.0L1000.3,315.6L998.7,312.1L997.4,310.1" fill="none" stroke="#d4d4d8" stroke-width="0.5"/>
<path d="M978.3,277.5L977.8,282.6L979.4,285.0L975.9,288.7" fill="none" stroke="#d4d4d8" stroke-width="0.5"/>
<path d="M945.0,216.5L944.8,213.8L945.6,212.8L945.6,210.7L945.8,208.6L946.4,207.1L943.7,206.5L942.6,206.7" fill="none" stroke="#8a957c" stroke-width="0.6"/>
<path d="M954.0,203.4L956.9,204.9L959.3,205.4L962.0,205.6" fill="none" stroke="#8a957c" stroke-width="0.6"/>
<path d="M960.9,185.1L962.5,186.6L964.1,187.9L966.2,189.1L967.2,189.1L970.1,190.4L969.1,193.7L966.5,196.6L967.8,197.5L968.2,199.8L969.0,202.5" fill="none" stroke="#8a957c" stroke-width="0.6"/>
<path d="M962.4,184.3L964.1,184.1L966.2,184.8L966.5,185.9L967.2,189.1" fill="none" stroke="#8a957c" stroke-width="0.6"/>
<path d="M968.2,179.1L968.2,182.0L966.5,183.3L966.5,185.9" fill="none" stroke="#8a957c" stroke-width="0.6"/>
<path d="M970.7,174.9L972.8,175.2" fill="none" stroke="#8a957c" stroke-width="0.6"/>
<path d="M979.7,177.7L980.1,180.1L980.4,182.0L981.0,185.1" fill="none" stroke="#8a957c" stroke-width="0.6"/>
<path d="M976.4,187.1L978.6,186.1L981.0,185.4" fill="none" stroke="#8a957c" stroke-width="0.6"/>
<path d="M972.3,194.0L973.8,194.0L976.2,193.7L977.8,194.0L979.1,191.1L977.0,189.1L976.4,187.1" fill="none" stroke="#8a957c" stroke-width="0.6"/>
<path d="M969.1,193.7L972.3,194.0" fill="none" stroke="#8a957c" stroke-width="0.6"/>
<path d="M967.8,197.5L970.6,196.3L973.6,196.3L973.8,195.2L972.3,194.0" fill="none" stroke="#8a957c" stroke-width="0.6"/>
<path d="M973.8,195.4L976.5,195.2L978.9,196.3" fill="none" stroke="#8a957c" stroke-width="0.6"/>
<path d="M979.1,191.1L981.0,190.4L984.1,191.3" fill="none" stroke="#8a957c" stroke-width="0.6"/>
<path d="M978.9,196.3L982.6,195.9L983.4,194.0L984.4,192.8L984.1,191.3" fill="none" stroke="#8a957c" stroke-width="0.6"/>
<path d="M981.0,185.4L983.4,186.9L985.8,187.9L987.1,189.1" fill="none" stroke="#8a957c" stroke-width="0.6"/>
<path d="M984.1,191.3L985.0,190.8L987.1,189.1" fill="none" stroke="#8a957c" stroke-width="0.6"/>
<path d="M987.1,189.1L989.9,189.4L993.1,190.1" fill="none" stroke="#8a957c" stroke-width="0.6"/>
<path d="M984.4,192.8L987.1,193.3L989.9,191.6L992.6,191.8" fill="none" stroke="#8a957c" stroke-width="0.6"/>
<path d="M992.6,191.8L993.1,190.1" fill="none" stroke="#8a957c" stroke-width="0.6"/>
<path d="M993.1,190.1L995.5,186.6L994.8,184.1" fill="none" stroke="#8a957c" stroke-width="0.6"/>
<path d="M994.8,184.1L994.7,181.5L995.3,177.7L994.7,177.4L993.6,176.3" fill="none" stroke="#8a957c" stroke-width="0.6"/>
<path d="M990.8,171.8L993.1,170.7L996.3,171.0L999.7,172.7" fill="none" stroke="#8a957c" stroke-width="0.6"/>
<path d="M994.7,177.4L997.1,176.9L998.4,174.9L999.7,172.7L1002.2,171.2" fill="none" stroke="#8a957c" stroke-width="0.6"/>
<path d="M996.0,166.2L997.9,166.5L1001.0,167.1" fill="none" stroke="#8a957c" stroke-width="0.6"/>
<path d="M994.8,184.1L997.1,183.0L1000.3,183.8L1003.5,184.1L1006.1,184.6L1007.6,182.5L1007.6,181.2" fill="none" stroke="#8a957c" stroke-width="0.6"/>
<path d="M992.6,191.8L993.7,192.8L996.3,193.0L999.5,192.3L1001.9,192.1L1004.3,196.3L1002.2,198.7L1004.7,199.3" fill="none" stroke="#8a957c" stroke-width="0.6"/>
<path d="M993.7,192.8L991.5,196.3L989.5,197.3" fill="none" stroke="#8a957c" stroke-width="0.6"/>
<path d="M989.5,197.3L991.5,199.8L993.1,201.6L995.5,202.7L998.7,202.1L1001.1,202.1L1002.9,202.7" fill="none" stroke="#8a957c" stroke-width="0.6"/>
<path d="M992.9,205.8L993.9,207.7L996.3,207.5L999.2,207.1L1001.9,206.5" fill="none" stroke="#8a957c" stroke-width="0.6"/>
<path d="M999.2,207.1L998.7,208.8" fill="none" stroke="#8a957c" stroke-width="0.6"/>
<path d="M995.7,139.1L995.0,136.3L994.7,132.6L993.1,129.2L990.7,126.6L990.0,125.3" fill="none" stroke="#8a957c" stroke-width="0.6"/>
<path d="M1014.6,219.1L1015.8,217.3L1018.0,217.3L1021.2,216.9L1024.9,216.7L1028.1,216.5L1028.5,213.8L1028.0,211.8L1028.9,211.3" fill="none" stroke="#8a957c" stroke-width="0.6"/>
<path d="M1023.8,207.3L1025.7,207.5L1026.8,208.4L1027.0,210.3L1028.9,211.3" fill="none" stroke="#8a957c" stroke-width="0.6"/>
<path d="M1026.8,208.4L1029.3,208.0L1031.7,208.4L1031.8,206.9" fill="none" stroke="#8a957c" stroke-width="0.6"/>
<path d="M1029.3,208.0L1030.1,209.7L1031.7,212.4" fill="none" stroke="#8a957c" stroke-width="0.6"/>
<path d="M1028.9,211.3L1031.7,213.0L1034.1,213.2L1035.5,214.0" fill="none" stroke="#8a957c" stroke-width="0.6"/>
<path d="M1024.9,216.7L1023.3,217.7L1022.8,222.0L1019.3,224.0L1014.8,225.7" fill="none" stroke="#8a957c" stroke-width="0.6"/>
<path d="M1014.6,221.6L1015.8,222.4L1014.5,224.2" fill="none" stroke="#8a957c" stroke-width="0.6"/>
<path d="M1028.1,216.5L1030.1,219.3L1030.9,220.9L1030.1,222.8L1031.7,224.7L1033.3,226.3L1034.1,229.5L1034.9,230.6" fill="none" stroke="#8a957c" stroke-width="0.6"/>
<path d="M1019.3,224.0L1019.9,226.3L1022.8,227.6L1028.8,231.9L1031.7,232.1L1033.6,233.2" fill="none" stroke="#8a957c" stroke-width="0.6"/>
<path d="M1031.7,232.1L1033.6,230.2L1034.1,230.4" fill="none" stroke="#8a957c" stroke-width="0.6"/>
<path d="M1019.9,226.3L1016.4,227.6L1018.0,229.5L1016.4,230.6L1013.2,231.5" fill="none" stroke="#8a957c" stroke-width="0.6"/>
<path d="M1014.0,224.7L1014.1,228.5L1013.0,231.3" fill="none" stroke="#8a957c" stroke-width="0.6"/>
<path d="M1025.6,254.1L1028.5,252.6L1032.5,253.3L1035.7,250.7L1040.5,249.9L1045.3,248.2" fill="none" stroke="#8a957c" stroke-width="0.6"/>
<path d="M1040.5,249.9L1042.3,253.8" fill="none" stroke="#8a957c" stroke-width="0.6"/>
<path d="M1045.3,248.2L1045.3,243.9L1046.1,241.6L1047.4,239.6" fill="none" stroke="#8a957c" stroke-width="0.6"/>
<path d="M1039.7,240.3L1041.3,243.3L1045.3,243.9" fill="none" stroke="#8a957c" stroke-width="0.6"/>
<path d="M1043.6,216.3L1046.1,214.9L1048.6,214.4L1051.8,216.1L1054.2,217.7L1055.3,217.7" fill="none" stroke="#8a957c" stroke-width="0.6"/>
<path d="M1055.3,217.7L1054.7,221.8L1054.2,223.8L1054.8,227.6L1056.1,227.8" fill="none" stroke="#8a957c" stroke-width="0.6"/>
<path d="M1056.1,227.8L1057.7,231.5L1055.8,233.2L1057.9,235.5L1058.5,236.6L1056.0,239.1" fill="none" stroke="#8a957c" stroke-width="0.6"/>
<path d="M1054.8,230.6L1057.4,231.5L1063.8,230.6L1066.2,227.2L1068.7,228.5L1069.5,224.7L1071.1,222.8L1071.9,219.9L1071.9,217.9L1076.7,216.9L1078.3,217.3" fill="none" stroke="#8a957c" stroke-width="0.6"/>
<path d="M1055.3,217.7L1057.4,220.3L1060.6,218.5L1063.8,216.1" fill="none" stroke="#8a957c" stroke-width="0.6"/>
<path d="M1087.1,230.0L1085.5,232.6" fill="none" stroke="#8a957c" stroke-width="0.6"/>
<path d="M1105.3,247.0L1105.8,245.6L1105.3,241.8" fill="none" stroke="#8a957c" stroke-width="0.6"/>
<path d="M1115.3,264.8L1116.4,262.4L1116.1,259.1L1115.3,255.8L1114.2,253.3L1115.3,249.0L1117.7,247.5L1119.6,246.1L1120.1,244.2" fill="none" stroke="#8a957c" stroke-width="0.6"/>
<path d="M1117.7,247.5L1119.3,249.0L1120.9,251.6L1124.1,252.4L1125.4,254.9L1126.5,257.4" fill="none" stroke="#8a957c" stroke-width="0.6"/>
<path d="M1126.5,257.8L1122.5,257.8L1121.7,261.6" fill="none" stroke="#8a957c" stroke-width="0.6"/>
<path d="M1120.9,243.9L1123.3,245.6L1124.9,248.2L1124.9,250.4L1127.3,252.4L1128.2,254.1L1129.8,255.8L1129.8,257.4L1128.2,261.6L1124.8,264.2" fill="none" stroke="#8a957c" stroke-width="0.6"/>
<path d="M1117.9,270.5L1120.1,271.5L1121.1,271.0" fill="none" stroke="#8a957c" stroke-width="0.6"/>
<path d="M1156.8,210.9L1159.5,208.0L1162.7,206.5L1165.1,205.6L1166.9,205.6" fill="none" stroke="#8a957c" stroke-width="0.6"/>
<path d="M1159.8,215.1L1161.9,214.2L1163.4,213.6" fill="none" stroke="#8a957c" stroke-width="0.6"/>
<path d="M954.2,220.7L954.5,225.7L951.3,227.6L948.9,229.5L942.9,232.8L942.9,234.6" fill="none" stroke="#8a957c" stroke-width="0.6"/>
<path d="M970.7,217.1L970.2,221.8L969.0,223.8L971.4,226.6L973.0,230.4" fill="none" stroke="#8a957c" stroke-width="0.6"/>
<path d="M997.1,244.7L1016.1,244.7" fill="none" stroke="#8a957c" stroke-width="0.6"/>
<path d="M995.5,249.0L995.5,255.8L993.1,258.3L992.3,260.7L993.1,263.2" fill="none" stroke="#8a957c" stroke-width="0.6"/>
<path d="M978.8,258.8L980.2,260.7L981.0,264.0L978.6,264.8L981.8,268.9" fill="none" stroke="#8a957c" stroke-width="0.6"/>
<path d="M979.4,260.7L977.0,267.3L974.6,270.5L972.2,272.1L970.7,273.6" fill="none" stroke="#8a957c" stroke-width="0.6"/>
<path d="M1019.0,251.6L1015.6,257.8L1015.6,260.7L1012.4,264.0L1011.6,264.8" fill="none" stroke="#8a957c" stroke-width="0.6"/>
<path d="M1015.6,257.8L1018.0,257.4L1021.2,257.4L1024.9,260.7" fill="none" stroke="#8a957c" stroke-width="0.6"/>
<path d="M1013.2,273.6L1016.4,273.9L1019.6,275.4L1022.8,274.7" fill="none" stroke="#8a957c" stroke-width="0.6"/>
<path d="M1010.8,274.9L1013.2,278.6L1011.6,281.0L1011.4,282.6L1017.2,286.1L1019.9,288.6" fill="none" stroke="#8a957c" stroke-width="0.6"/>
<path d="M1006.7,275.0L1005.1,278.6L1004.5,283.3L1003.9,288.2L1005.9,294.2L1009.8,296.0L1012.4,299.6L1017.2,299.8L1022.0,298.0" fill="none" stroke="#8a957c" stroke-width="0.6"/>
<path d="M1004.5,282.6L1011.4,282.6" fill="none" stroke="#8a957c" stroke-width="0.6"/>
<path d="M976.5,290.7L983.4,293.1L985.0,293.9L988.3,293.9L991.5,296.3L992.3,298.8L995.5,299.1L998.7,300.1L1001.9,301.3L1004.8,302.7L1003.5,298.0L1002.7,294.7L1005.9,294.2" fill="none" stroke="#8a957c" stroke-width="0.6"/>
<path d="M992.3,298.8L995.5,302.1L992.3,302.1L992.3,307.9L994.5,309.8" fill="none" stroke="#8a957c" stroke-width="0.6"/>
<path d="M1005.8,306.4L1010.0,303.7L1010.3,300.4L1010.0,296.3" fill="none" stroke="#8a957c" stroke-width="0.6"/>
<path d="M1013.2,308.7L1014.0,304.6L1012.5,299.6" fill="none" stroke="#8a957c" stroke-width="0.6"/>
<path d="M1007.2,318.0L1008.4,320.8L1009.8,325.8" fill="none" stroke="#8a957c" stroke-width="0.6"/>
<path d="M930.0,260.9L932.8,260.4L934.9,260.4" fill="none" stroke="#8a957c" stroke-width="0.6"/>
</g>
<path d="M947.4,219.3L946.8,220.9L945.8,222.8L943.2,224.2L941.9,225.7L941.1,228.5L941.3,230.6L940.0,231.9L938.4,233.5L936.2,234.3L935.0,235.9L933.6,237.3L932.8,239.5L931.2,241.6L930.4,243.9L929.6,246.4L930.7,248.2L930.4,249.9L931.0,251.6L930.4,254.1L929.6,256.1L928.8,257.1L929.9,258.6L930.0,260.9L932.0,262.2L933.6,263.9L935.2,265.2L935.7,267.0L936.8,268.7L938.4,269.9L940.0,271.0L942.4,272.9L944.8,273.9L947.3,272.9L950.5,272.6L953.7,273.3L955.3,272.8L958.5,271.5L960.9,270.8L963.3,270.7L964.9,271.7L965.9,273.8L967.4,274.1L969.0,273.8L970.6,273.6L972.2,274.9L972.7,277.0L972.2,279.4L971.9,281.8L971.1,282.6L972.2,285.0L974.6,287.1L975.9,288.7L976.7,290.8L977.8,293.1L978.4,295.5L977.8,298.8L977.0,302.9L976.2,306.2L975.9,309.3L977.0,312.1L978.6,315.2L980.2,318.7L980.7,322.5L981.5,326.1L983.4,329.0L984.7,332.5L986.2,336.3L986.5,339.6L988.3,340.4L989.1,340.8L992.3,339.4L995.5,339.4L998.2,339.2L1000.3,338.2L1002.7,336.3L1005.1,333.9L1006.7,331.4L1009.0,328.8L1009.8,325.2L1010.0,323.3L1013.2,321.7L1014.0,319.0L1013.7,316.4L1012.9,313.8L1014.8,311.8L1017.2,309.6L1019.6,307.9L1022.0,305.4L1022.2,301.3L1022.0,298.0L1020.4,293.9L1020.1,291.5L1019.3,289.9L1020.4,288.2L1021.5,285.8L1022.8,284.2L1024.4,282.6L1026.8,280.2L1029.3,277.8L1031.7,275.4L1034.1,272.9L1035.7,269.7L1038.1,265.7L1039.4,263.2L1039.2,261.9L1037.3,262.4L1034.9,262.9L1031.7,263.5L1028.5,264.2L1026.8,262.5L1025.7,261.6L1026.5,260.7L1024.4,258.3L1022.8,256.6L1020.4,255.8L1018.8,251.6L1016.9,249.9L1016.4,246.4L1015.1,243.9L1014.0,241.2L1012.4,238.0L1010.9,235.2L1009.3,231.3L1009.2,230.6L1010.8,233.5L1012.1,234.4L1013.0,231.3L1011.9,228.0L1009.2,228.3L1006.7,227.4L1005.1,228.0L1003.5,228.7L1001.1,228.0L997.4,227.4L995.5,226.6L993.9,225.3L991.5,224.9L989.1,226.3L989.1,228.5L987.5,229.8L985.0,228.7L981.8,227.4L981.3,226.1L977.8,224.9L975.4,224.3L973.8,223.2L974.7,220.5L973.9,218.1L973.3,216.5L971.4,216.5L969.0,216.9L966.5,217.1L963.3,217.1L960.1,217.7L956.9,219.1L954.5,220.5L952.9,220.5L949.7,220.5L948.4,219.1Z" fill="none" stroke="#7d886f" stroke-width="0.6" mask="url(#m_af_ng)"/>
<path d="M947.4,219.3L946.8,220.9L945.8,222.8L943.2,224.2L941.9,225.7L941.1,228.5L941.3,230.6L940.0,231.9L938.4,233.5L936.2,234.3L935.0,235.9L933.6,237.3L932.8,239.5L931.2,241.6L930.4,243.9L929.6,246.4L930.7,248.2L930.4,249.9L931.0,251.6L930.4,254.1L929.6,256.1L928.8,257.1L929.9,258.6L930.0,260.9L932.0,262.2L933.6,263.9L935.2,265.2L935.7,267.0L936.8,268.7L938.4,269.9L940.0,271.0L942.4,272.9L944.8,273.9L947.3,272.9L950.5,272.6L953.7,273.3L955.3,272.8L958.5,271.5L960.9,270.8L963.3,270.7L964.9,271.7L965.9,273.8L967.4,274.1L969.0,273.8L970.6,273.6L972.2,274.9L972.7,277.0L972.2,279.4L971.9,281.8L971.1,282.6L972.2,285.0L974.6,287.1L975.9,288.7L976.7,290.8L977.8,293.1L978.4,295.5L977.8,298.8L977.0,302.9L976.2,306.2L975.9,309.3L977.0,312.1L978.6,315.2L980.2,318.7L980.7,322.5L981.5,326.1L983.4,329.0L984.7,332.5L986.2,336.3L986.5,339.6L988.3,340.4L989.1,340.8L992.3,339.4L995.5,339.4L998.2,339.2L1000.3,338.2L1002.7,336.3L1005.1,333.9L1006.7,331.4L1009.0,328.8L1009.8,325.2L1010.0,323.3L1013.2,321.7L1014.0,319.0L1013.7,316.4L1012.9,313.8L1014.8,311.8L1017.2,309.6L1019.6,307.9L1022.0,305.4L1022.2,301.3L1022.0,298.0L1020.4,293.9L1020.1,291.5L1019.3,289.9L1020.4,288.2L1021.5,285.8L1022.8,284.2L1024.4,282.6L1026.8,280.2L1029.3,277.8L1031.7,275.4L1034.1,272.9L1035.7,269.7L1038.1,265.7L1039.4,263.2L1039.2,261.9L1037.3,262.4L1034.9,262.9L1031.7,263.5L1028.5,264.2L1026.8,262.5L1025.7,261.6L1026.5,260.7L1024.4,258.3L1022.8,256.6L1020.4,255.8L1018.8,251.6L1016.9,249.9L1016.4,246.4L1015.1,243.9L1014.0,241.2L1012.4,238.0L1010.9,235.2L1009.3,231.3L1009.2,230.6L1010.8,233.5L1012.1,234.4L1013.0,231.3L1011.9,228.0L1009.2,228.3L1006.7,227.4L1005.1,228.0L1003.5,228.7L1001.1,228.0L997.4,227.4L995.5,226.6L993.9,225.3L991.5,224.9L989.1,226.3L989.1,228.5L987.5,229.8L985.0,228.7L981.8,227.4L981.3,226.1L977.8,224.9L975.4,224.3L973.8,223.2L974.7,220.5L973.9,218.1L973.3,216.5L971.4,216.5L969.0,216.9L966.5,217.1L963.3,217.1L960.1,217.7L956.9,219.1L954.5,220.5L952.9,220.5L949.7,220.5L948.4,219.1Z" fill="none" stroke="#d2d2d6" stroke-width="0.6" mask="url(#m_af_g)"/>
<path d="M927.8,234.4L928.1,234.6L928.0,234.1Z" fill="#ececec" stroke="#b8b8b8" stroke-width="0.6" />
<path d="M929.7,233.3L930.9,233.0L930.4,233.9Z" fill="#ececec" stroke="#b8b8b8" stroke-width="0.6" />
<path d="M931.5,233.7L932.1,233.9L931.8,234.4Z" fill="#ececec" stroke="#b8b8b8" stroke-width="0.6" />
<path d="M933.6,233.0L934.5,232.8L934.1,233.9Z" fill="#ececec" stroke="#b8b8b8" stroke-width="0.6" />
<path d="M934.7,232.2L935.4,231.9L935.0,232.4Z" fill="#ececec" stroke="#b8b8b8" stroke-width="0.6" />
<path d="M1000.3,330.9L1001.9,329.2L1004.2,330.3L1003.5,332.2L1001.6,332.5Z" fill="#f5f8d4" stroke="#8a957c" stroke-width="0.6" />
<path d="M1006.7,324.1L1008.5,324.7L1008.2,326.7L1006.9,326.1Z" fill="#f5f8d4" stroke="#8a957c" stroke-width="0.6" />
<path d="M1036.2,300.4L1037.6,304.6L1038.1,306.2L1037.0,308.7L1036.0,312.1L1034.9,316.4L1033.3,321.7L1032.5,322.5L1029.6,323.4L1027.7,322.5L1026.7,317.3L1027.3,314.7L1028.3,312.1L1027.7,309.6L1028.5,307.4L1031.7,306.6L1034.1,303.4Z" fill="#f5f8d4" stroke="#7d886f" stroke-width="0.6" />
<path d="M1139.4,317.3L1140.2,324.3L1141.8,331.6L1141.8,338.2L1143.4,341.1L1146.6,341.1L1149.9,339.2L1155.5,339.2L1159.5,335.9L1164.3,334.8L1167.5,334.4L1171.6,335.7L1174.8,340.8L1178.0,337.3L1178.5,342.7L1181.2,343.1L1182.8,347.1L1187.6,348.8L1191.7,349.2L1194.6,346.9L1198.1,346.1L1199.4,341.1L1200.5,337.3L1202.9,333.5L1203.7,327.9L1202.9,323.1L1199.7,319.9L1197.3,317.8L1195.7,314.7L1192.5,312.1L1190.9,307.9L1190.5,305.4L1187.6,303.7L1186.0,298.5L1184.8,301.3L1184.4,305.4L1182.8,309.6L1180.4,308.7L1177.2,306.7L1175.6,304.6L1176.9,300.8L1174.8,300.4L1170.8,299.6L1168.4,299.3L1165.9,301.3L1165.1,304.6L1161.9,303.7L1158.7,304.6L1156.3,307.9L1153.9,309.6L1152.3,312.1L1148.3,313.8L1144.2,315.0L1141.0,316.9Z" fill="#e8e8e8" stroke="#e0e0e0" stroke-width="0.6" />
<path d="M1189.4,352.8L1195.4,353.2L1194.9,357.7L1192.5,359.1L1190.4,356.2Z" fill="#e8e8e8" stroke="#e0e0e0" stroke-width="0.6" />
<path d="M1234.6,340.0L1236.7,341.5L1238.3,344.1L1239.9,346.3L1243.1,346.3L1243.9,348.8L1241.5,349.8L1240.7,351.9L1238.8,354.7L1237.7,354.0L1238.3,351.3L1236.7,350.2L1237.7,347.1L1236.7,344.7L1235.1,341.7Z" fill="#f5f8d4" stroke="#7d886f" stroke-width="0.6" />
<path d="M1234.6,352.3L1237.2,354.5L1235.9,357.3L1234.8,359.5L1232.2,361.1L1231.2,364.0L1228.7,365.9L1224.6,364.5L1225.4,362.2L1227.8,359.9L1231.1,357.7L1232.7,355.1Z" fill="#f5f8d4" stroke="#7d886f" stroke-width="0.6" />
<line x1="1246.3" y1="127" x2="1246.3" y2="142" stroke="#7d886f" stroke-width="0.5"/>
<path d="M694.0,175.2L690.0,177.7L686.8,179.3L683.5,180.7L680.3,181.7L677.1,182.5L673.9,183.0L670.7,183.3L668.3,183.8" fill="none" stroke="#7d886f" stroke-width="0.8" stroke-dasharray="4,0.8"/>
<path d="M1272.9,175.2L1268.9,177.7L1265.6,179.3L1262.4,180.7L1259.2,181.7L1256.0,182.5L1252.8,183.0L1249.6,183.3L1247.1,183.8" fill="none" stroke="#7d886f" stroke-width="0.8" stroke-dasharray="4,0.8"/>
<circle cx="1222.4" cy="282" r="1" fill="#e4e4e4"/>
<circle cx="1242.9" cy="293.3" r="1" fill="#e4e4e4"/>
<circle cx="1261.2" cy="304.5" r="1" fill="#e4e4e4"/>
<circle cx="1253" cy="315.7" r="1" fill="#e4e4e4"/>
<circle cx="1221.4" cy="316.7" r="1" fill="#e4e4e4"/>
<circle cx="1160" cy="262" r="1" fill="#e4e4e4"/>
<circle cx="793.9" cy="243.4" r="3.9" fill="#4f80b9" stroke="#ffffff" stroke-opacity="0.5" stroke-width="0.6"/>
<circle cx="878" cy="300" r="3.9" fill="#5185bd" stroke="#ffffff" stroke-opacity="0.5" stroke-width="0.6"/>
<circle cx="1124" cy="144" r="3.9" fill="#5a8cc2" stroke="#ffffff" stroke-opacity="0.5" stroke-width="0.6"/>
<circle cx="1115.9" cy="220.8" r="5.2" fill="#2b5a8c" stroke="#ffffff" stroke-opacity="0.5" stroke-width="0.6"/>
<circle cx="1082.1" cy="243.6" r="5.6" fill="#1f4c7c" stroke="#ffffff" stroke-opacity="0.5" stroke-width="0.6"/>
<circle cx="1150.7" cy="242.8" r="3.0" fill="#8fb5dc" stroke="#ffffff" stroke-opacity="0.5" stroke-width="0.6"/>
<circle cx="1151" cy="253.3" r="3.5" fill="#77a6d3" stroke="#ffffff" stroke-opacity="0.5" stroke-width="0.6"/>
<circle cx="968.8" cy="266.3" r="3.0" fill="#7ea9d2" stroke="#ffffff" stroke-opacity="0.5" stroke-width="0.6"/>
<circle cx="1011.7" cy="213.7" r="2.9" fill="#7fadd6" stroke="#ffffff" stroke-opacity="0.5" stroke-width="0.6"/>
<circle cx="993.9" cy="334.9" r="2.4" fill="#6fa0cc" stroke="#ffffff" stroke-opacity="0.5" stroke-width="0.6"/>
<circle cx="1043.3" cy="225" r="2.4" fill="#9fc2e0" stroke="#ffffff" stroke-opacity="0.5" stroke-width="0.6"/>
<circle cx="973.7" cy="202" r="2.6" fill="#9cc4e0" stroke="#ffffff" stroke-opacity="0.5" stroke-width="0.6"/>
<circle cx="954.3" cy="182.6" r="2.3" fill="#9fbfd2" fill-opacity="0.75"/>
<circle cx="972.7" cy="184.7" r="2.1" fill="#9fbfd2" fill-opacity="0.75"/>
<circle cx="988.3" cy="182.5" r="2.3" fill="#9fbfd2" fill-opacity="0.75"/>
<circle cx="1008.6" cy="190.2" r="2.2" fill="#9fbfd2" fill-opacity="0.75"/>
<circle cx="961.2" cy="196.6" r="2.0" fill="#9fbfd2" fill-opacity="0.75"/>
<circle cx="951.5" cy="210" r="2.0" fill="#9fbfd2" fill-opacity="0.75"/>
<circle cx="777.8" cy="163.1" r="1.6" fill="#9fbfd2" fill-opacity="0.75"/>
<circle cx="1001.5" cy="179.8" r="1.6" fill="#9fbfd2" fill-opacity="0.75"/>
<circle cx="997.3" cy="198.7" r="1.6" fill="#9fbfd2" fill-opacity="0.75"/>
<circle cx="1003" cy="237.7" r="2.2" fill="#9fc2e0" stroke="#ffffff" stroke-opacity="0.5" stroke-width="0.6"/>
<circle cx="1027.5" cy="241.5" r="2.1" fill="#9fbfd2" fill-opacity="0.75"/>
<circle cx="1004.2" cy="256" r="1.6" fill="#9fbfd2" fill-opacity="0.75"/>
<circle cx="960.2" cy="233.4" r="1.8" fill="#9fbfd2" fill-opacity="0.75"/>
<circle cx="944.7" cy="228.8" r="1.7" fill="#9fbfd2" fill-opacity="0.75"/>
<circle cx="1063.6" cy="234" r="1.7" fill="#9fbfd2" fill-opacity="0.75"/>
<circle cx="994.3" cy="284" r="1.6" fill="#9fbfd2" fill-opacity="0.75"/>
<circle cx="1011.6" cy="289.6" r="1.6" fill="#9fbfd2" fill-opacity="0.75"/>
<circle cx="985.2" cy="302.3" r="1.5" fill="#9fbfd2" fill-opacity="0.75"/>
<circle cx="997.9" cy="305.2" r="1.5" fill="#9fbfd2" fill-opacity="0.75"/>
<circle cx="1018" cy="303.8" r="1.5" fill="#9fbfd2" fill-opacity="0.75"/>
<circle cx="1018" cy="266" r="1.5" fill="#9fbfd2" fill-opacity="0.75"/>
<circle cx="996.3" cy="206.2" r="1.5" fill="#9fbfd2" fill-opacity="0.75"/>
<circle cx="838.9" cy="274.9" r="1.9" fill="#9fbfd2" fill-opacity="0.75"/>
<circle cx="853.3" cy="270.1" r="1.9" fill="#9fbfd2" fill-opacity="0.75"/>
<circle cx="839.8" cy="301.7" r="1.6" fill="#9fbfd2" fill-opacity="0.75"/>
<circle cx="852" cy="309" r="1.6" fill="#9fbfd2" fill-opacity="0.75"/>
<circle cx="858.4" cy="260" r="1.3" fill="#d8d4ea" stroke="#ffffff" stroke-opacity="0.5" stroke-width="0.6"/>
</g>
<line x1="61.5" y1="52.3" x2="606.5" y2="52.3" stroke="#f1f1f1" stroke-width="1"/>
<line x1="61.5" y1="40" x2="61.5" y2="455" stroke="#e2e2e2" stroke-width="1"/>
<line x1="116.0" y1="40" x2="116.0" y2="455" stroke="#e2e2e2" stroke-width="1"/>
<line x1="225.0" y1="40" x2="225.0" y2="455" stroke="#e2e2e2" stroke-width="1"/>
<line x1="279.5" y1="40" x2="279.5" y2="455" stroke="#e2e2e2" stroke-width="1"/>
<line x1="388.5" y1="40" x2="388.5" y2="455" stroke="#e2e2e2" stroke-width="1"/>
<line x1="443.0" y1="40" x2="443.0" y2="455" stroke="#e2e2e2" stroke-width="1"/>
<line x1="497.5" y1="40" x2="497.5" y2="455" stroke="#e2e2e2" stroke-width="1"/>
<line x1="552.0" y1="40" x2="552.0" y2="455" stroke="#e2e2e2" stroke-width="1"/>
<line x1="606.5" y1="40" x2="606.5" y2="455" stroke="#e2e2e2" stroke-width="1"/>
<text x="88.75" y="50.90" font-size="8.25" text-anchor="middle" fill="#2e2e2e"  stroke="#2e2e2e" stroke-width="0.2">Action</text>
<text x="170.50" y="50.90" font-size="8.25" text-anchor="middle" fill="#2e2e2e"  stroke="#2e2e2e" stroke-width="0.2">Comedy</text>
<text x="252.25" y="50.90" font-size="8.25" text-anchor="middle" fill="#2e2e2e"  stroke="#2e2e2e" stroke-width="0.2">Documentary</text>
<text x="334.00" y="50.90" font-size="8.25" text-anchor="middle" fill="#2e2e2e"  stroke="#2e2e2e" stroke-width="0.2">Drama</text>
<text x="415.75" y="50.90" font-size="8.25" text-anchor="middle" fill="#2e2e2e"  stroke="#2e2e2e" stroke-width="0.2">Family</text>
<text x="470.25" y="50.90" font-size="8.25" text-anchor="middle" fill="#2e2e2e"  stroke="#2e2e2e" stroke-width="0.2">Foreign</text>
<text x="524.75" y="50.90" font-size="8.25" text-anchor="middle" fill="#2e2e2e"  stroke="#2e2e2e" stroke-width="0.2">Music</text>
<text x="579.25" y="50.90" font-size="8.25" text-anchor="middle" fill="#2e2e2e"  stroke="#2e2e2e" stroke-width="0.2">Sports</text>
<rect x="69.1" y="152.1" width="40.3" height="225.7" fill="#f9fccd"/>
<text x="89.25" y="149.07" font-size="8.2" text-anchor="middle" fill="#2e2e2e"  stroke="#2e2e2e" stroke-width="0.2">$163</text>
<rect x="123.6" y="100.9" width="40.3" height="276.9" fill="#88d0ba"/>
<text x="143.75" y="97.90" font-size="8.2" text-anchor="middle" fill="#2e2e2e"  stroke="#2e2e2e" stroke-width="0.2">$200</text>
<rect x="178.1" y="113.3" width="40.3" height="264.5" fill="#b5e2b6"/>
<text x="198.25" y="110.35" font-size="8.2" text-anchor="middle" fill="#2e2e2e"  stroke="#2e2e2e" stroke-width="0.2">$191</text>
<rect x="232.6" y="102.3" width="40.3" height="275.5" fill="#8dd2ba"/>
<text x="252.75" y="99.28" font-size="8.2" text-anchor="middle" fill="#2e2e2e"  stroke="#2e2e2e" stroke-width="0.2">$199</text>
<rect x="287.1" y="142.4" width="40.3" height="235.4" fill="#f1f9ba"/>
<text x="307.25" y="139.39" font-size="8.2" text-anchor="middle" fill="#2e2e2e"  stroke="#2e2e2e" stroke-width="0.2">$170</text>
<rect x="341.6" y="157.6" width="40.3" height="220.2" fill="#fefed8"/>
<text x="361.75" y="154.60" font-size="8.2" text-anchor="middle" fill="#2e2e2e"  stroke="#2e2e2e" stroke-width="0.2">$159</text>
<rect x="396.1" y="157.6" width="40.3" height="220.2" fill="#fefed8"/>
<text x="416.25" y="154.60" font-size="8.2" text-anchor="middle" fill="#2e2e2e"  stroke="#2e2e2e" stroke-width="0.2">$159</text>
<rect x="450.6" y="112.0" width="40.3" height="265.8" fill="#b0e0b6"/>
<text x="470.75" y="108.96" font-size="8.2" text-anchor="middle" fill="#2e2e2e"  stroke="#2e2e2e" stroke-width="0.2">$192</text>
<rect x="505.1" y="78.8" width="40.3" height="299.0" fill="#41b6c4"/>
<text x="525.25" y="75.77" font-size="8.2" text-anchor="middle" fill="#2e2e2e"  stroke="#2e2e2e" stroke-width="0.2">$216</text>
<rect x="559.6" y="113.3" width="40.3" height="264.5" fill="#b5e2b6"/>
<text x="579.75" y="110.35" font-size="8.2" text-anchor="middle" fill="#2e2e2e"  stroke="#2e2e2e" stroke-width="0.2">$191</text>
<line x1="61.5" y1="378.2" x2="606.5" y2="378.2" stroke="#d5d5d5" stroke-width="1"/>
<text x="58.20" y="375.80" font-size="8.2" text-anchor="end" fill="#2e2e2e"  stroke="#2e2e2e" stroke-width="0.2">$0</text>
<text x="58.20" y="352.84" font-size="8.2" text-anchor="end" fill="#2e2e2e"  stroke="#2e2e2e" stroke-width="0.2">$20</text>
<text x="58.20" y="325.18" font-size="8.2" text-anchor="end" fill="#2e2e2e"  stroke="#2e2e2e" stroke-width="0.2">$40</text>
<text x="58.20" y="297.52" font-size="8.2" text-anchor="end" fill="#2e2e2e"  stroke="#2e2e2e" stroke-width="0.2">$60</text>
<text x="58.20" y="269.86" font-size="8.2" text-anchor="end" fill="#2e2e2e"  stroke="#2e2e2e" stroke-width="0.2">$80</text>
<text x="58.20" y="242.20" font-size="8.2" text-anchor="end" fill="#2e2e2e"  stroke="#2e2e2e" stroke-width="0.2">$100</text>
<text x="58.20" y="214.54" font-size="8.2" text-anchor="end" fill="#2e2e2e"  stroke="#2e2e2e" stroke-width="0.2">$120</text>
<text x="58.20" y="186.88" font-size="8.2" text-anchor="end" fill="#2e2e2e"  stroke="#2e2e2e" stroke-width="0.2">$140</text>
<text x="58.20" y="159.22" font-size="8.2" text-anchor="end" fill="#2e2e2e"  stroke="#2e2e2e" stroke-width="0.2">$160</text>
<text x="58.20" y="131.56" font-size="8.2" text-anchor="end" fill="#2e2e2e"  stroke="#2e2e2e" stroke-width="0.2">$180</text>
<text x="58.20" y="103.90" font-size="8.2" text-anchor="end" fill="#2e2e2e"  stroke="#2e2e2e" stroke-width="0.2">$200</text>
<text x="58.20" y="76.24" font-size="8.2" text-anchor="end" fill="#2e2e2e"  stroke="#2e2e2e" stroke-width="0.2">$220</text>
<text transform="translate(34.0,214.5) rotate(-90)" font-size="7.4" font-weight="bold" text-anchor="middle" fill="#222" stroke="#222" stroke-width="0.2">Total Revenue</text>
<text transform="translate(92.8,381.2) rotate(-90)" font-size="8.7" text-anchor="end" fill="#2e2e2e" stroke="#2e2e2e" stroke-width="0.2">Fool Mockingbird</text>
<text transform="translate(147.3,381.2) rotate(-90)" font-size="8.7" text-anchor="end" fill="#2e2e2e" stroke="#2e2e2e" stroke-width="0.2">Zorro Ark</text>
<text transform="translate(202.0,381.2) rotate(-90)" font-size="8.7" text-anchor="end" fill="#2e2e2e" stroke="#2e2e2e" stroke-width="0.2">Hustler Party</text>
<rect x="789.1" y="176.0" width="145.3" height="48.1" fill="#f9f9f9" fill-opacity="0.97"/>
<text x="794.3" y="190.9" font-size="9.38" text-anchor="start"><tspan fill="#808080" stroke="#808080" stroke-width="0.2">Country: </tspan><tspan fill="#2a2a2a" stroke="#2a2a2a" stroke-width="0.38">United States</tspan></text>
<text x="794.3" y="203.8" font-size="9.38" text-anchor="start"><tspan fill="#808080" stroke="#808080" stroke-width="0.2">Customers: </tspan><tspan fill="#2a2a2a" stroke="#2a2a2a" stroke-width="0.38">36</tspan></text>
<text x="794.3" y="216.7" font-size="9.38" text-anchor="start"><tspan fill="#808080" stroke="#808080" stroke-width="0.2">Total Revenue: $</tspan><tspan fill="#2a2a2a" stroke="#2a2a2a" stroke-width="0.38">3,694</tspan></text>
<rect x="1138.3" y="185.5" width="131.6" height="47.9" fill="#f9f9f9" fill-opacity="0.97"/>
<text x="1143.7" y="200.2" font-size="9.38" text-anchor="start"><tspan fill="#808080" stroke="#808080" stroke-width="0.2">Country: </tspan><tspan fill="#2a2a2a" stroke="#2a2a2a" stroke-width="0.38">China</tspan></text>
<text x="1143.7" y="213.3" font-size="9.38" text-anchor="start"><tspan fill="#808080" stroke="#808080" stroke-width="0.2">Customers: </tspan><tspan fill="#2a2a2a" stroke="#2a2a2a" stroke-width="0.38">53</tspan></text>
<text x="1143.7" y="226.4" font-size="9.38" text-anchor="start"><tspan fill="#808080" stroke="#808080" stroke-width="0.2">Total Revenue: $</tspan><tspan fill="#2a2a2a" stroke="#2a2a2a" stroke-width="0.38">5,247</tspan></text>
<rect x="1016.5" y="277.8" width="152.5" height="50.0" fill="#f9f9f9" fill-opacity="0.9"/>
<text x="1094.3" y="294.1" font-size="9.38" text-anchor="middle"><tspan fill="#808080" stroke="#808080" stroke-width="0.2">Country: </tspan><tspan fill="#2a2a2a" stroke="#2a2a2a" stroke-width="0.38">India</tspan></text>
<text x="1094.3" y="307.2" font-size="9.38" text-anchor="middle"><tspan fill="#808080" stroke="#808080" stroke-width="0.2">Customers: </tspan><tspan fill="#2a2a2a" stroke="#2a2a2a" stroke-width="0.38">60</tspan></text>
<text x="1094.3" y="320.2" font-size="9.38" text-anchor="middle"><tspan fill="#808080" stroke="#808080" stroke-width="0.2">Total Revenue: $</tspan><tspan fill="#2a2a2a" stroke="#2a2a2a" stroke-width="0.38">6,033</tspan></text>
<rect x="231" y="320" width="753" height="317" fill="#ffffff"/>
<text x="237.30" y="335.20" font-size="7.4" text-anchor="start" fill="#2e2e2e"  stroke="#2e2e2e" stroke-width="0.2">Inventory by Categories</text>
<rect x="288.4" y="342.00" width="302.8" height="10.6" fill="#41b6c4"/>
<text x="286.20" y="350.40" font-size="8.25" text-anchor="end" fill="#2e2e2e"  stroke="#2e2e2e" stroke-width="0.2">Sports</text>
<rect x="288.4" y="356.53" width="277.5" height="10.6" fill="#56bec1"/>
<text x="286.20" y="364.93" font-size="8.25" text-anchor="end" fill="#2e2e2e"  stroke="#2e2e2e" stroke-width="0.2">Foreign</text>
<rect x="288.4" y="371.06" width="273.6" height="10.6" fill="#59bfc1"/>
<text x="286.20" y="379.46" font-size="8.25" text-anchor="end" fill="#2e2e2e"  stroke="#2e2e2e" stroke-width="0.2">Family</text>
<rect x="288.4" y="385.59" width="265.1" height="10.6" fill="#60c1c0"/>
<text x="286.20" y="393.99" font-size="8.25" text-anchor="end" fill="#2e2e2e"  stroke="#2e2e2e" stroke-width="0.2">Animation</text>
<rect x="288.4" y="400.12" width="261.0" height="10.6" fill="#63c3bf"/>
<text x="286.20" y="408.52" font-size="8.25" text-anchor="end" fill="#2e2e2e"  stroke="#2e2e2e" stroke-width="0.2">Documentary</text>
<rect x="288.4" y="414.65" width="252.9" height="10.6" fill="#6ac5be"/>
<text x="286.20" y="423.05" font-size="8.25" text-anchor="end" fill="#2e2e2e"  stroke="#2e2e2e" stroke-width="0.2">Drama</text>
<rect x="288.4" y="429.18" width="252.9" height="10.6" fill="#6ac5be"/>
<text x="286.20" y="437.58" font-size="8.25" text-anchor="end" fill="#2e2e2e"  stroke="#2e2e2e" stroke-width="0.2">Action</text>
<rect x="288.4" y="443.71" width="248.6" height="10.6" fill="#6dc6be"/>
<text x="286.20" y="452.11" font-size="8.25" text-anchor="end" fill="#2e2e2e"  stroke="#2e2e2e" stroke-width="0.2">New</text>
<rect x="288.4" y="458.24" width="244.4" height="10.6" fill="#71c8bd"/>
<text x="286.20" y="466.64" font-size="8.25" text-anchor="end" fill="#2e2e2e"  stroke="#2e2e2e" stroke-width="0.2">Sci-Fi</text>
<rect x="288.4" y="472.77" width="240.4" height="10.6" fill="#74c9bd"/>
<text x="286.20" y="481.17" font-size="8.25" text-anchor="end" fill="#2e2e2e"  stroke="#2e2e2e" stroke-width="0.2">Games</text>
<rect x="288.4" y="487.30" width="240.4" height="10.6" fill="#74c9bd"/>
<text x="286.20" y="495.70" font-size="8.25" text-anchor="end" fill="#2e2e2e"  stroke="#2e2e2e" stroke-width="0.2">Children</text>
<rect x="288.4" y="501.83" width="231.9" height="10.6" fill="#7bccbc"/>
<text x="286.20" y="510.23" font-size="8.25" text-anchor="end" fill="#2e2e2e"  stroke="#2e2e2e" stroke-width="0.2">Comedy</text>
<rect x="288.4" y="516.36" width="223.6" height="10.6" fill="#82cebb"/>
<text x="286.20" y="524.76" font-size="8.25" text-anchor="end" fill="#2e2e2e"  stroke="#2e2e2e" stroke-width="0.2">Classics</text>
<rect x="288.4" y="530.89" width="219.6" height="10.6" fill="#86d0ba"/>
<text x="286.20" y="539.29" font-size="8.25" text-anchor="end" fill="#2e2e2e"  stroke="#2e2e2e" stroke-width="0.2">Travel</text>
<rect x="288.4" y="545.42" width="219.6" height="10.6" fill="#86d0ba"/>
<text x="286.20" y="553.82" font-size="8.25" text-anchor="end" fill="#2e2e2e"  stroke="#2e2e2e" stroke-width="0.2">Horror</text>
<rect x="288.4" y="559.95" width="211.2" height="10.6" fill="#8ed3ba"/>
<text x="286.20" y="568.35" font-size="8.25" text-anchor="end" fill="#2e2e2e"  stroke="#2e2e2e" stroke-width="0.2">Music</text>
<rect x="288.4" y="574.6" width="6.0" height="13" fill="#fcfde6"/>
<text x="286.20" y="582.88" font-size="8.25" text-anchor="end" fill="#2e2e2e"  stroke="#2e2e2e" stroke-width="0.2">Thriller</text>
<text x="288.60" y="599.20" font-size="7.8" text-anchor="start" fill="#2e2e2e"  stroke="#2e2e2e" stroke-width="0.2">0%</text>
<text x="328.10" y="599.20" font-size="7.8" text-anchor="middle" fill="#2e2e2e"  stroke="#2e2e2e" stroke-width="0.2">1%</text>
<text x="367.80" y="599.20" font-size="7.8" text-anchor="middle" fill="#2e2e2e"  stroke="#2e2e2e" stroke-width="0.2">2%</text>
<text x="407.50" y="599.20" font-size="7.8" text-anchor="middle" fill="#2e2e2e"  stroke="#2e2e2e" stroke-width="0.2">3%</text>
<text x="447.20" y="599.20" font-size="7.8" text-anchor="middle" fill="#2e2e2e"  stroke="#2e2e2e" stroke-width="0.2">4%</text>
<text x="486.90" y="599.20" font-size="7.8" text-anchor="middle" fill="#2e2e2e"  stroke="#2e2e2e" stroke-width="0.2">5%</text>
<text x="526.60" y="599.20" font-size="7.8" text-anchor="middle" fill="#2e2e2e"  stroke="#2e2e2e" stroke-width="0.2">6%</text>
<text x="566.30" y="599.20" font-size="7.8" text-anchor="middle" fill="#2e2e2e"  stroke="#2e2e2e" stroke-width="0.2">7%</text>
<text x="606.20" y="599.20" font-size="7.8" text-anchor="end" fill="#2e2e2e"  stroke="#2e2e2e" stroke-width="0.2">8%</text>
<text x="447.00" y="612.00" font-size="7.35" text-anchor="middle" fill="#222" font-weight="bold"  stroke="#222" stroke-width="0.2">% of Total Film Count</text>
<text x="611.00" y="335.00" font-size="7.4" text-anchor="start" fill="#2e2e2e"  stroke="#2e2e2e" stroke-width="0.2">Inventory by Rating</text>
<rect x="639.7" y="347.00" width="323.9" height="36.3" fill="#41b6c4"/>
<text x="637.30" y="368.75" font-size="8.0" text-anchor="end" fill="#2e2e2e"  stroke="#2e2e2e" stroke-width="0.2">PG-13</text>
<rect x="639.7" y="396.20" width="304.8" height="36.3" fill="#88d1b8"/>
<text x="637.30" y="417.95" font-size="8.0" text-anchor="end" fill="#2e2e2e"  stroke="#2e2e2e" stroke-width="0.2">NC-17</text>
<rect x="639.7" y="445.40" width="283.0" height="36.3" fill="#d9f0b5"/>
<text x="637.30" y="467.15" font-size="8.0" text-anchor="end" fill="#2e2e2e"  stroke="#2e2e2e" stroke-width="0.2">R</text>
<rect x="639.7" y="494.60" width="281.7" height="36.3" fill="#d9f0b5"/>
<text x="637.30" y="516.35" font-size="8.0" text-anchor="end" fill="#2e2e2e"  stroke="#2e2e2e" stroke-width="0.2">PG</text>
<rect x="639.7" y="543.80" width="257.6" height="36.3" fill="#fafcd6"/>
<text x="637.30" y="565.55" font-size="8.0" text-anchor="end" fill="#2e2e2e"  stroke="#2e2e2e" stroke-width="0.2">G</text>
<text x="639.90" y="599.20" font-size="7.8" text-anchor="start" fill="#2e2e2e"  stroke="#2e2e2e" stroke-width="0.2">0%</text>
<text x="668.80" y="599.20" font-size="7.8" text-anchor="middle" fill="#2e2e2e"  stroke="#2e2e2e" stroke-width="0.2">2%</text>
<text x="697.90" y="599.20" font-size="7.8" text-anchor="middle" fill="#2e2e2e"  stroke="#2e2e2e" stroke-width="0.2">4%</text>
<text x="727.00" y="599.20" font-size="7.8" text-anchor="middle" fill="#2e2e2e"  stroke="#2e2e2e" stroke-width="0.2">6%</text>
<text x="756.10" y="599.20" font-size="7.8" text-anchor="middle" fill="#2e2e2e"  stroke="#2e2e2e" stroke-width="0.2">8%</text>
<text x="785.20" y="599.20" font-size="7.8" text-anchor="middle" fill="#2e2e2e"  stroke="#2e2e2e" stroke-width="0.2">10%</text>
<text x="814.30" y="599.20" font-size="7.8" text-anchor="middle" fill="#2e2e2e"  stroke="#2e2e2e" stroke-width="0.2">12%</text>
<text x="843.40" y="599.20" font-size="7.8" text-anchor="middle" fill="#2e2e2e"  stroke="#2e2e2e" stroke-width="0.2">14%</text>
<text x="872.50" y="599.20" font-size="7.8" text-anchor="middle" fill="#2e2e2e"  stroke="#2e2e2e" stroke-width="0.2">16%</text>
<text x="901.60" y="599.20" font-size="7.8" text-anchor="middle" fill="#2e2e2e"  stroke="#2e2e2e" stroke-width="0.2">18%</text>
<text x="930.70" y="599.20" font-size="7.8" text-anchor="middle" fill="#2e2e2e"  stroke="#2e2e2e" stroke-width="0.2">20%</text>
<text x="959.80" y="599.20" font-size="7.8" text-anchor="middle" fill="#2e2e2e"  stroke="#2e2e2e" stroke-width="0.2">22%</text>
<text x="809.00" y="612.00" font-size="7.35" text-anchor="middle" fill="#222" font-weight="bold"  stroke="#222" stroke-width="0.2">Number of Films</text>
<defs><linearGradient id="custg" x1="0" x2="1" y1="0" y2="0"><stop offset="0" stop-color="#b6d5ee"/><stop offset="0.5" stop-color="#6a9fcc"/><stop offset="1" stop-color="#2b5682"/></linearGradient></defs>
<line x1="984.6" y1="374" x2="984.6" y2="384.2" stroke="#555" stroke-width="0.9"/>
<text x="987.30" y="382.60" font-size="7.0" text-anchor="start" fill="#777"  stroke="#777" stroke-width="0.2">6,033</text>
<text x="1032.10" y="371.60" font-size="7.0" text-anchor="start" fill="#444"  stroke="#444" stroke-width="0.2">Customers</text>
<text x="1037.60" y="382.60" font-size="7.0" text-anchor="end" fill="#777"  stroke="#777" stroke-width="0.2">1</text>
<rect x="1039.8" y="375.2" width="57.2" height="9.4" fill="url(#custg)" stroke="#4a6f95" stroke-width="0.5"/>
<text x="1099.80" y="382.60" font-size="7.0" text-anchor="start" fill="#777"  stroke="#777" stroke-width="0.2">60</text>
<line x1="296.7" y1="577.6" x2="393.3" y2="545.4" stroke="#222" stroke-width="1"/>
<line x1="830" y1="492.1" x2="895.4" y2="558.5" stroke="#222" stroke-width="1"/>
<rect x="305.7" y="436.1" width="178" height="109" fill="#ffffff" stroke="#333" stroke-width="1"/>
<text x="311.3" y="452.1" font-size="9.38"><tspan fill="#808080" stroke="#808080" stroke-width="0.2">Category: </tspan><tspan fill="#2a2a2a" stroke="#2a2a2a" stroke-width="0.38">Thriller</tspan></text>
<text x="311.3" y="475.0" font-size="9.38"><tspan fill="#808080" stroke="#808080" stroke-width="0.2">% of Films in Inventory: </tspan><tspan fill="#2a2a2a" stroke="#2a2a2a" stroke-width="0.38">&lt;.1%</tspan></text>
<text x="311.3" y="498.9" font-size="9.38"><tspan fill="#333" stroke="#333" stroke-width="0.2">There is only 1 Thriller film in</tspan></text>
<text x="311.3" y="512.1" font-size="9.38"><tspan fill="#333" stroke="#333" stroke-width="0.2">inventory, 7200% less than Music [73</tspan></text>
<text x="311.3" y="524.7" font-size="9.38"><tspan fill="#333" stroke="#333" stroke-width="0.2">films in inventory, second least</tspan></text>
<text x="311.3" y="537.3" font-size="9.38"><tspan fill="#333" stroke="#333" stroke-width="0.2">represented category]</tspan></text>
<rect x="684.3" y="443.3" width="145" height="95.5" fill="#f9f9f9" stroke="#555" stroke-width="1"/>
<text x="689.3" y="458.9" font-size="9.38"><tspan fill="#808080" stroke="#808080" stroke-width="0.2">Rating: </tspan><tspan fill="#2a2a2a" stroke="#2a2a2a" stroke-width="0.38">G</tspan></text>
<text x="689.3" y="482.3" font-size="9.38"><tspan fill="#808080" stroke="#808080" stroke-width="0.2">% of Films in Inventory: </tspan><tspan fill="#2a2a2a" stroke="#2a2a2a" stroke-width="0.38">18%</tspan></text>
<text x="689.3" y="505.8" font-size="9.38"><tspan fill="#333" stroke="#333" stroke-width="0.2">25% less G rated films [178] in</tspan></text>
<text x="689.3" y="518.6" font-size="9.38"><tspan fill="#333" stroke="#333" stroke-width="0.2">inventory than PG-13 [223,</tspan></text>
<text x="689.3" y="531.3" font-size="9.38"><tspan fill="#333" stroke="#333" stroke-width="0.2">most represented category]</tspan></text>
</svg>
</body></html>
